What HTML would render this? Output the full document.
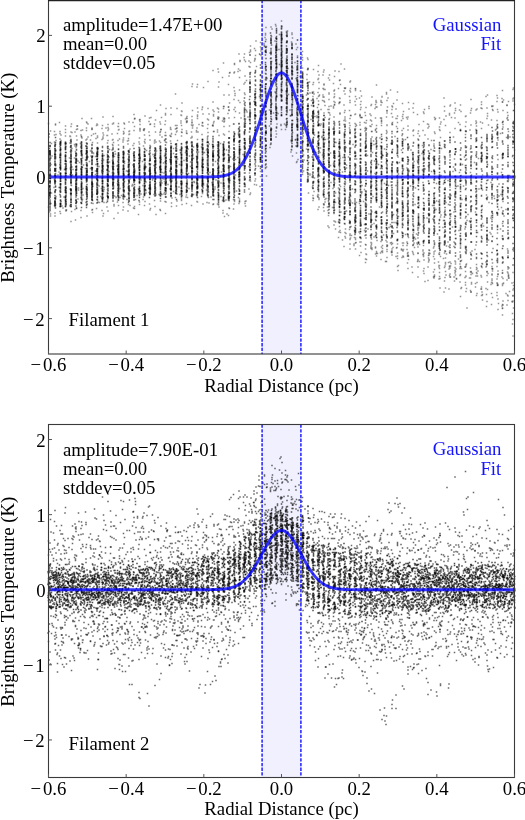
<!DOCTYPE html><html><head><meta charset="utf-8"><style>html,body{margin:0;padding:0;background:#fff;width:525px;height:820px;overflow:hidden}</style></head><body><svg width="525" height="820" viewBox="0 0 525 820" style="display:block;will-change:transform">
<rect width="525" height="820" fill="#fff"/>
<rect x="262.08" y="0.0" width="38.83" height="354.0" fill="#f0f0fe"/>
<path transform="scale(0.5)" d="M99 302h0m0 49h0m0 39h0m1-99h0m0 13h0m0 4h0m0 1h0m0 1h0m0 8h0m0 2h0m0 5h0m0 1h0m0 25h0m0 1h0m0 1h0m0 4h0m0 6h0m0 2h0m0 6h0m0 3h0m0 5h0m0 6h0m0 2h0m0 18h0m0 3h0m0 10h0m0 3h0m10-131h0m0 3h0m0 16h0m0 2h0m0 1h0m0 1h0m0 2h0m0 1h0m0 1h0m0 7h0m0 5h0m0 9h0m0 4h0m0 6h0m0 3h0m0 11h0m0 2h0m0 2h0m0 17h0m0 8h0m0 4h0m0 1h0m0 7h0m0 3h0m0 2h0m0 3h0m0 2h0m1-111h0m0 7h0m0 6h0m0 13h0m0 2h0m0 17h0m0 16h0m0 9h0m9-57h0m0 14h0m0 46h0m0 7h0m1-98h0m0 13h0m0 2h0m0 2h0m0 1h0m0 4h0m0 4h0m0 6h0m0 4h0m0 10h0m0 4h0m0 2h0m0 11h0m0 7h0m0 1h0m0 2h0m0 5h0m0 6h0m0 3h0m0 1h0m0 11h0m0 1h0m0 23h0m0 1h0m0 1h0m0 4h0m10-125h0m0 7h0m0 3h0m0 12h0m0 1h0m0 3h0m0 3h0m0 5h0m0 18h0m0 5h0m0 13h0m0 1h0m0 7h0m0 1h0m0 11h0m0 2h0m0 15h0m0 3h0m0 2h0m1-72h0m0 8h0m0 2h0m0 1h0m0 7h0m0 40h0m0 17h0m0 5h0m9-114h0m0 29h0m0 26h0m1-67h0m0 19h0m0 9h0m0 7h0m0 1h0m0 6h0m0 5h0m0 3h0m0 4h0m0 5h0m0 4h0m0 9h0m0 6h0m0 18h0m0 2h0m0 1h0m0 6h0m0 12h0m0 10h0m1-58h0m9-63h0m0 19h0m0 4h0m0 2h0m0 6h0m0 7h0m0 14h0m0 10h0m0 17h0m0 3h0m0 3h0m0 6h0m0 5h0m0 15h0m0 1h0m0 1h0m0 6h0m1-119h0m0 1h0m0 45h0m0 22h0m0 1h0m0 3h0m0 6h0m0 11h0m0 4h0m0 10h0m0 13h0m0 12h0m9-11h0m1-121h0m0 13h0m0 5h0m0 3h0m0 3h0m0 2h0m0 7h0m0 4h0m0 8h0m0 4h0m0 7h0m0 2h0m0 2h0m0 4h0m0 3h0m0 8h0m0 9h0m0 3h0m0 4h0m0 4h0m0 4h0m0 1h0m0 3h0m0 1h0m0 3h0m0 8h0m10-97h0m0 2h0m0 1h0m0 1h0m0 1h0m0 9h0m0 9h0m0 12h0m0 14h0m0 4h0m0 2h0m0 1h0m0 2h0m0 13h0m0 3h0m0 9h0m1-58h0m0 4h0m0 10h0m0 2h0m0 2h0m0 24h0m0 6h0m0 3h0m0 1h0m0 1h0m0 8h0m0 3h0m0 6h0m0 6h0m10-114h0m0 7h0m0 7h0m0 10h0m0 1h0m0 2h0m0 13h0m0 6h0m0 4h0m0 2h0m0 5h0m0 2h0m0 2h0m0 13h0m0 2h0m0 6h0m0 1h0m0 6h0m0 8h0m0 1h0m0 2h0m0 2h0m0 1h0m0 7h0m1-31h0m0 21h0m9-82h0m0 12h0m0 19h0m0 3h0m0 6h0m0 5h0m0 6h0m0 21h0m0 9h0m1-93h0m0 3h0m0 4h0m0 8h0m0 2h0m0 1h0m0 4h0m0 11h0m0 3h0m0 2h0m0 11h0m0 2h0m0 5h0m0 3h0m0 6h0m0 10h0m0 13h0m0 1h0m0 2h0m0 14h0m9-56h0m1-51h0m0 2h0m0 16h0m0 1h0m0 4h0m0 6h0m0 4h0m0 1h0m0 2h0m0 3h0m0 2h0m0 8h0m0 3h0m0 1h0m0 1h0m0 13h0m0 3h0m0 5h0m0 5h0m0 3h0m0 4h0m0 3h0m0 4h0m0 2h0m0 8h0m0 2h0m0 1h0m0 3h0m1-60h0m9-24h0m0 6h0m0 6h0m0 9h0m0 1h0m0 8h0m0 4h0m0 14h0m0 5h0m0 1h0m0 15h0m0 15h0m1-99h0m0 1h0m0 7h0m0 4h0m0 2h0m0 1h0m0 7h0m0 6h0m0 1h0m0 17h0m0 2h0m0 2h0m0 8h0m0 1h0m0 8h0m0 22h0m0 2h0m9-49h0m1-41h0m0 6h0m0 14h0m0 1h0m0 1h0m0 4h0m0 5h0m0 2h0m0 1h0m0 6h0m0 2h0m0 1h0m0 1h0m0 1h0m0 1h0m0 6h0m0 3h0m0 2h0m0 7h0m0 8h0m0 7h0m0 11h0m0 2h0m0 5h0m1-54h0m0 11h0m0 6h0m9-34h0m0 7h0m0 1h0m0 4h0m0 2h0m0 8h0m0 10h0m0 7h0m0 1h0m0 10h0m0 7h0m0 4h0m1-93h0m0 10h0m0 2h0m0 4h0m0 5h0m0 8h0m0 2h0m0 2h0m0 2h0m0 5h0m0 2h0m0 1h0m0 1h0m0 3h0m0 8h0m0 7h0m0 12h0m0 2h0m0 3h0m0 14h0m10-99h0m0 16h0m0 2h0m0 1h0m0 2h0m0 5h0m0 2h0m0 2h0m0 2h0m0 7h0m0 1h0m0 4h0m0 1h0m0 5h0m0 2h0m0 1h0m0 4h0m0 1h0m0 7h0m0 1h0m0 7h0m0 1h0m0 4h0m0 1h0m0 2h0m0 1h0m0 5h0m1-7h0m0 8h0m0 11h0m0 1h0m9-75h0m0 13h0m0 3h0m0 15h0m0 11h0m0 8h0m0 9h0m0 11h0m0 17h0m1-101h0m0 8h0m0 3h0m0 2h0m0 1h0m0 2h0m0 2h0m0 7h0m0 18h0m0 13h0m0 3h0m0 1h0m0 8h0m0 7h0m0 3h0m0 15h0m10-86h0m0 3h0m0 2h0m0 6h0m0 10h0m0 1h0m0 2h0m0 5h0m0 4h0m0 5h0m0 2h0m0 2h0m0 7h0m0 28h0m0 3h0m1-70h0m0 17h0m0 2h0m0 1h0m0 18h0m0 2h0m0 8h0m0 5h0m0 6h0m0 11h0m0 1h0m9-65h0m1-27h0m0 7h0m0 2h0m0 3h0m0 9h0m0 5h0m0 7h0m0 1h0m0 1h0m0 4h0m0 1h0m0 1h0m0 4h0m0 2h0m0 3h0m0 4h0m0 1h0m0 3h0m0 7h0m0 1h0m0 1h0m0 10h0m0 4h0m1-65h0m0 41h0m0 26h0m9-65h0m0 1h0m0 2h0m0 8h0m0 6h0m0 2h0m0 3h0m0 11h0m0 7h0m0 8h0m0 1h0m0 12h0m0 1h0m0 9h0m0 2h0m1-79h0m0 14h0m0 11h0m0 12h0m0 8h0m0 6h0m0 9h0m0 8h0m9-52h0m0 1h0m0 13h0m0 34h0m1-70h0m0 1h0m0 5h0m0 1h0m0 3h0m0 1h0m0 4h0m0 9h0m0 4h0m0 6h0m0 2h0m0 7h0m0 3h0m0 1h0m0 6h0m0 16h0m0 1h0m0 10h0m0 1h0m0 1h0m1-41h0m9-36h0m0 5h0m0 6h0m0 2h0m0 10h0m0 1h0m0 6h0m0 4h0m0 4h0m0 3h0m0 7h0m0 3h0m0 6h0m0 1h0m0 14h0m0 3h0m0 4h0m0 2h0m1-94h0m0 20h0m0 3h0m0 7h0m0 1h0m0 29h0m9-23h0m0 55h0m1-89h0m0 2h0m0 4h0m0 4h0m0 2h0m0 2h0m0 6h0m0 2h0m0 1h0m0 1h0m0 7h0m0 1h0m0 4h0m0 2h0m0 4h0m0 8h0m0 18h0m0 2h0m0 3h0m0 2h0m0 9h0m0 3h0m0 1h0m0 2h0m1-72h0m0 69h0m9-92h0m0 3h0m0 19h0m0 5h0m0 5h0m0 6h0m0 1h0m0 2h0m0 6h0m0 4h0m0 2h0m0 1h0m0 6h0m0 3h0m0 1h0m0 6h0m0 2h0m0 2h0m0 6h0m0 1h0m0 4h0m1-83h0m0 5h0m0 11h0m0 2h0m0 5h0m0 7h0m0 19h0m0 10h0m0 9h0m0 11h0m0 5h0m9-58h0m0 54h0m1-86h0m0 3h0m0 1h0m0 5h0m0 9h0m0 4h0m0 1h0m0 5h0m0 5h0m0 3h0m0 1h0m0 5h0m0 1h0m0 1h0m0 2h0m0 6h0m0 2h0m0 1h0m0 1h0m0 1h0m0 4h0m0 3h0m0 2h0m0 1h0m0 5h0m0 6h0m0 2h0m0 3h0m0 3h0m0 13h0m10-96h0m0 28h0m0 17h0m0 5h0m0 7h0m0 7h0m0 1h0m0 7h0m0 2h0m0 2h0m0 10h0m0 6h0m1-95h0m0 10h0m0 6h0m0 6h0m0 13h0m0 4h0m0 8h0m0 1h0m0 4h0m0 2h0m0 1h0m0 8h0m0 18h0m9-67h0m1-9h0m0 2h0m0 3h0m0 1h0m0 1h0m0 3h0m0 3h0m0 5h0m0 2h0m0 1h0m0 3h0m0 1h0m0 1h0m0 5h0m0 2h0m0 10h0m0 1h0m0 3h0m0 12h0m0 1h0m0 5h0m0 6h0m0 1h0m0 12h0m0 3h0m0 3h0m0 1h0m0 6h0m10-106h0m0 7h0m0 1h0m0 5h0m0 1h0m0 6h0m0 1h0m0 1h0m0 9h0m0 8h0m0 21h0m0 19h0m0 5h0m0 11h0m0 1h0m1-98h0m0 9h0m0 12h0m0 10h0m0 4h0m0 1h0m0 5h0m0 2h0m0 1h0m0 2h0m0 1h0m0 2h0m0 14h0m0 11h0m0 21h0m9-95h0m0 106h0m1-106h0m0 12h0m0 4h0m0 2h0m0 1h0m0 1h0m0 12h0m0 1h0m0 4h0m0 2h0m0 11h0m0 2h0m0 4h0m0 16h0m0 2h0m0 4h0m0 1h0m0 7h0m0 1h0m0 2h0m1-65h0m0 55h0m0 6h0m9-80h0m0 22h0m0 4h0m0 7h0m0 9h0m0 15h0m0 10h0m0 5h0m0 11h0m0 1h0m1-88h0m0 1h0m0 7h0m0 5h0m0 28h0m0 5h0m0 6h0m0 12h0m0 6h0m0 3h0m0 11h0m0 2h0m0 11h0m10-94h0m0 4h0m0 1h0m0 11h0m0 9h0m0 2h0m0 1h0m0 2h0m0 4h0m0 6h0m0 3h0m0 2h0m0 6h0m0 6h0m0 8h0m0 2h0m0 2h0m0 3h0m0 1h0m0 1h0m0 3h0m0 2h0m0 12h0m0 2h0m1-87h0m0 32h0m0 7h0m9-51h0m0 13h0m0 13h0m0 19h0m0 1h0m0 10h0m0 5h0m0 25h0m0 1h0m0 1h0m0 1h0m1-73h0m0 6h0m0 6h0m0 2h0m0 13h0m0 3h0m0 7h0m0 1h0m0 4h0m0 1h0m0 10h0m0 2h0m0 5h0m0 1h0m0 1h0m0 10h0m0 3h0m0 5h0m0 12h0m0 1h0m9-104h0m1-16h0m0 20h0m0 13h0m0 4h0m0 3h0m0 5h0m0 21h0m0 5h0m0 1h0m0 3h0m0 1h0m0 7h0m0 1h0m0 3h0m0 5h0m0 4h0m0 3h0m0 6h0m1-27h0m0 3h0m0 30h0m9-91h0m0 11h0m0 6h0m0 17h0m0 2h0m0 8h0m0 4h0m0 11h0m0 9h0m1-76h0m0 4h0m0 3h0m0 10h0m0 2h0m0 1h0m0 1h0m0 6h0m0 1h0m0 10h0m0 7h0m0 3h0m0 3h0m0 6h0m0 3h0m0 5h0m0 22h0m0 1h0m0 6h0m0 9h0m0 3h0m0 7h0m0 1h0m0 6h0m1-91h0m9-25h0m0 3h0m0 2h0m0 6h0m0 2h0m0 2h0m0 3h0m0 3h0m0 2h0m0 4h0m0 2h0m0 4h0m0 7h0m0 2h0m0 7h0m0 1h0m0 3h0m0 1h0m0 4h0m0 7h0m0 1h0m0 5h0m0 8h0m0 27h0m0 2h0m0 1h0m0 1h0m0 4h0m1-105h0m0 45h0m0 7h0m0 3h0m0 18h0m0 6h0m0 10h0m9-78h0m0 23h0m0 18h0m0 1h0m0 21h0m0 2h0m0 15h0m0 2h0m1-115h0m0 8h0m0 3h0m0 15h0m0 3h0m0 6h0m0 1h0m0 9h0m0 13h0m0 14h0m0 1h0m0 6h0m0 1h0m0 3h0m0 3h0m0 1h0m0 9h0m0 1h0m0 14h0m0 6h0m0 2h0m1-39h0m9-83h0m0 1h0m0 5h0m0 2h0m0 1h0m0 1h0m0 1h0m0 12h0m0 2h0m0 6h0m0 4h0m0 3h0m0 4h0m0 10h0m0 1h0m0 4h0m0 1h0m0 2h0m0 2h0m0 3h0m0 1h0m0 7h0m0 4h0m0 4h0m0 2h0m0 2h0m0 4h0m0 1h0m0 4h0m0 3h0m0 7h0m0 11h0m0 7h0m1-118h0m0 22h0m0 15h0m0 40h0m0 16h0m9-86h0m0 46h0m0 23h0m0 25h0m1-124h0m0 20h0m0 11h0m0 8h0m0 3h0m0 1h0m0 3h0m0 5h0m0 3h0m0 1h0m0 1h0m0 1h0m0 3h0m0 1h0m0 3h0m0 2h0m0 2h0m0 1h0m0 3h0m0 7h0m0 2h0m0 2h0m0 6h0m0 1h0m0 1h0m0 8h0m0 5h0m0 8h0m0 6h0m0 1h0m0 14h0m1-106h0m8 49h0m1-134h0m0 12h0m0 11h0m0 7h0m0 7h0m0 21h0m0 9h0m0 4h0m0 1h0m0 1h0m0 17h0m0 6h0m0 2h0m0 19h0m0 5h0m0 50h0m1-125h0m0 38h0m0 8h0m0 27h0m0 4h0m0 12h0m0 4h0m0 23h0m9-67h0m0 6h0m1-152h0m0 3h0m0 15h0m0 3h0m0 13h0m0 4h0m0 9h0m0 14h0m0 1h0m0 6h0m0 1h0m0 5h0m0 1h0m0 3h0m0 4h0m0 5h0m0 41h0m0 4h0m0 3h0m0 2h0m0 2h0m0 2h0m0 7h0m0 5h0m0 5h0m0 2h0m0 8h0m0 5h0m0 9h0m0 1h0m0 10h0m0 13h0m0 3h0m0 4h0m10-213h0m0 7h0m0 35h0m0 15h0m0 5h0m0 10h0m0 12h0m0 3h0m0 5h0m0 18h0m0 5h0m0 12h0m0 67h0m0 6h0m1-186h0m0 23h0m0 22h0m0 1h0m0 5h0m0 22h0m0 28h0m0 18h0m0 2h0m0 25h0m0 5h0m0 9h0m0 17h0m10-167h0m0 1h0m0 4h0m0 3h0m0 2h0m0 1h0m0 16h0m0 4h0m0 10h0m0 1h0m0 1h0m0 9h0m0 1h0m0 16h0m0 7h0m0 4h0m0 6h0m0 2h0m0 16h0m0 1h0m0 2h0m0 4h0m0 8h0m0 1h0m0 2h0m0 2h0m0 22h0m0 1h0m0 1h0m0 6h0m0 13h0m1-76h0m9-159h0m0 23h0m0 12h0m0 41h0m0 4h0m0 4h0m0 19h0m0 21h0m0 2h0m0 11h0m0 5h0m0 9h0m0 24h0m0 15h0m0 1h0m0 19h0m1-217h0m0 9h0m0 13h0m0 16h0m0 6h0m0 29h0m0 19h0m0 5h0m0 7h0m0 13h0m0 16h0m0 10h0m0 19h0m0 6h0m0 3h0m0 54h0m9-158h0m1-81h0m0 16h0m0 1h0m0 25h0m0 5h0m0 8h0m0 3h0m0 1h0m0 13h0m0 4h0m0 6h0m0 5h0m0 10h0m0 8h0m0 2h0m0 1h0m0 14h0m0 7h0m0 10h0m0 3h0m0 2h0m0 8h0m0 10h0m0 5h0m0 12h0m0 7h0m0 2h0m0 3h0m0 7h0m1-156h0m0 135h0m9-161h0m0 2h0m0 12h0m0 2h0m0 2h0m0 6h0m0 15h0m0 24h0m0 25h0m0 2h0m0 12h0m0 14h0m0 3h0m0 1h0m1-160h0m0 20h0m0 14h0m0 3h0m0 2h0m0 2h0m0 3h0m0 19h0m0 7h0m0 1h0m0 6h0m0 1h0m0 2h0m0 1h0m0 9h0m0 2h0m0 6h0m0 1h0m0 1h0m0 1h0m0 29h0m0 1h0m0 4h0m0 34h0m0 5h0m0 7h0m0 16h0m10-202h0m0 2h0m0 12h0m0 3h0m0 12h0m0 3h0m0 8h0m0 6h0m0 4h0m0 4h0m0 4h0m0 1h0m0 6h0m0 3h0m0 6h0m0 4h0m0 2h0m0 2h0m0 6h0m0 1h0m0 1h0m0 7h0m0 2h0m0 1h0m0 2h0m0 4h0m0 14h0m0 7h0m0 2h0m0 4h0m0 6h0m0 1h0m0 1h0m0 8h0m0 30h0m1-154h0m0 26h0m0 12h0m0 17h0m0 24h0m9-71h0m0 21h0m0 12h0m0 6h0m0 10h0m0 2h0m0 31h0m0 4h0m0 11h0m0 6h0m0 8h0m0 2h0m0 53h0m1-179h0m0 26h0m0 3h0m0 4h0m0 14h0m0 6h0m0 8h0m0 4h0m0 8h0m0 5h0m0 9h0m0 12h0m0 5h0m0 3h0m0 3h0m0 3h0m0 1h0m0 5h0m0 1h0m0 6h0m0 2h0m0 3h0m0 10h0m0 1h0m0 1h0m0 22h0m0 8h0m10-150h0m0 13h0m0 6h0m0 5h0m0 17h0m0 4h0m0 3h0m0 4h0m0 11h0m0 11h0m0 2h0m0 1h0m0 3h0m0 6h0m0 3h0m0 3h0m0 1h0m0 2h0m0 5h0m0 13h0m0 7h0m0 6h0m0 2h0m0 2h0m0 4h0m0 2h0m0 16h0m0 8h0m0 5h0m0 13h0m0 6h0m0 3h0m0 10h0m1-156h0m0 13h0m0 36h0m0 15h0m0 48h0m9-87h0m0 40h0m0 23h0m0 27h0m0 42h0m1-171h0m0 24h0m0 9h0m0 5h0m0 5h0m0 2h0m0 1h0m0 8h0m0 5h0m0 4h0m0 6h0m0 7h0m0 16h0m0 17h0m0 18h0m0 5h0m0 17h0m0 8h0m0 6h0m0 5h0m10-146h0m0 8h0m0 3h0m0 7h0m0 4h0m0 9h0m0 1h0m0 6h0m0 12h0m0 9h0m0 7h0m0 6h0m0 2h0m0 7h0m0 5h0m0 4h0m0 7h0m0 3h0m0 1h0m0 38h0m0 15h0m0 2h0m0 1h0m0 1h0m0 21h0m0 6h0m1-136h0m0 65h0m9-40h0m0 24h0m0 11h0m0 15h0m0 8h0m0 1h0m0 13h0m0 31h0m0 19h0m1-159h0m0 7h0m0 20h0m0 4h0m0 6h0m0 8h0m0 8h0m0 4h0m0 6h0m0 20h0m0 2h0m0 2h0m0 2h0m0 9h0m0 2h0m0 4h0m0 3h0m0 2h0m0 22h0m0 4h0m0 24h0m0 21h0m10-138h0m0 5h0m0 2h0m0 2h0m0 2h0m0 3h0m0 6h0m0 8h0m0 1h0m0 8h0m0 1h0m0 3h0m0 16h0m0 1h0m0 4h0m0 7h0m0 11h0m0 1h0m0 6h0m0 9h0m0 6h0m0 6h0m0 1h0m0 1h0m0 13h0m0 5h0m0 2h0m0 11h0m0 1h0m0 6h0m0 5h0m1-165h0m0 22h0m0 18h0m0 24h0m0 23h0m0 20h0m0 45h0m9-119h0m0 1h0m0 42h0m0 50h0m0 38h0m0 4h0m0 15h0m1-170h0m0 10h0m0 6h0m0 1h0m0 10h0m0 13h0m0 1h0m0 6h0m0 2h0m0 8h0m0 5h0m0 1h0m0 10h0m0 2h0m0 8h0m0 5h0m0 1h0m0 1h0m0 1h0m0 8h0m0 5h0m0 10h0m0 11h0m0 1h0m0 9h0m0 4h0m0 8h0m1-69h0m0 13h0m9-77h0m0 2h0m0 8h0m0 3h0m0 3h0m0 10h0m0 7h0m0 9h0m0 12h0m0 7h0m0 12h0m0 3h0m0 1h0m0 8h0m0 1h0m0 1h0m0 64h0m1-150h0m0 26h0m0 23h0m0 6h0m0 16h0m0 7h0m0 12h0m0 14h0m0 14h0m0 22h0m0 15h0m9-116h0m0 22h0m0 97h0m1-158h0m0 21h0m0 7h0m0 3h0m0 6h0m0 7h0m0 3h0m0 7h0m0 4h0m0 5h0m0 7h0m0 2h0m0 5h0m0 9h0m0 5h0m0 4h0m0 7h0m0 4h0m0 2h0m0 1h0m0 11h0m0 12h0m0 6h0m0 14h0m0 5h0m0 23h0m10-172h0m0 12h0m0 6h0m0 3h0m0 24h0m0 10h0m0 1h0m0 1h0m0 3h0m0 25h0m0 7h0m0 3h0m0 7h0m0 9h0m0 3h0m0 9h0m0 1h0m0 17h0m0 15h0m0 9h0m1-166h0m0 17h0m0 22h0m0 8h0m0 19h0m0 11h0m0 36h0m0 33h0m9-98h0m0 9h0m0 27h0m0 13h0m0 56h0m0 7h0m1-158h0m0 2h0m0 12h0m0 2h0m0 2h0m0 19h0m0 2h0m0 5h0m0 1h0m0 11h0m0 3h0m0 5h0m0 8h0m0 5h0m0 1h0m0 1h0m0 3h0m0 15h0m0 4h0m0 9h0m0 6h0m0 14h0m0 10h0m0 8h0m0 4h0m0 2h0m0 12h0m0 10h0m0 22h0m1-150h0m0 20h0m0 24h0m9-68h0m0 1h0m0 25h0m0 2h0m0 21h0m0 14h0m0 17h0m0 4h0m0 11h0m0 10h0m0 4h0m0 8h0m0 19h0m0 6h0m0 13h0m0 8h0m0 4h0m1-169h0m0 23h0m0 22h0m0 1h0m0 4h0m0 31h0m0 2h0m0 3h0m0 1h0m0 12h0m0 14h0m0 15h0m0 8h0m9-119h0m0 107h0m1-134h0m0 7h0m0 29h0m0 7h0m0 1h0m0 5h0m0 8h0m0 14h0m0 16h0m0 3h0m0 1h0m0 2h0m0 2h0m0 20h0m0 1h0m0 4h0m0 8h0m0 11h0m0 8h0m0 3h0m0 6h0m0 6h0m0 23h0m0 9h0m0 1h0m1-159h0m0 96h0m9-117h0m0 28h0m0 3h0m0 12h0m0 14h0m0 53h0m0 17h0m0 6h0m0 15h0m0 17h0m0 1h0m0 1h0m1-168h0m0 11h0m0 6h0m0 14h0m0 2h0m0 5h0m0 1h0m0 16h0m0 3h0m0 3h0m0 9h0m0 3h0m0 16h0m0 1h0m0 5h0m0 10h0m0 35h0m0 7h0m0 9h0m0 4h0m0 7h0m0 3h0m0 13h0m9-125h0m1-62h0m0 10h0m0 7h0m0 12h0m0 18h0m0 9h0m0 10h0m0 6h0m0 4h0m0 20h0m0 12h0m0 6h0m0 7h0m0 29h0m0 10h0m0 3h0m0 8h0m0 8h0m0 3h0m0 11h0m0 12h0m1-111h0m0 87h0m9-155h0m0 15h0m0 37h0m0 40h0m0 2h0m0 16h0m0 7h0m0 8h0m1-152h0m0 7h0m0 16h0m0 3h0m0 13h0m0 21h0m0 11h0m0 5h0m0 4h0m0 64h0m0 22h0m0 13h0m0 22h0m10-183h0m0 4h0m0 4h0m0 2h0m0 12h0m0 2h0m0 2h0m0 13h0m0 7h0m0 2h0m0 8h0m0 2h0m0 17h0m0 2h0m0 8h0m0 2h0m0 1h0m0 11h0m0 19h0m0 22h0m0 1h0m0 2h0m0 2h0m0 2h0m0 1h0m0 6h0m0 10h0m1-93h0m0 14h0m0 25h0m9-91h0m0 12h0m0 18h0m0 25h0m0 16h0m0 48h0m0 9h0m0 7h0m0 11h0m0 13h0m0 6h0m1-207h0m0 17h0m0 3h0m0 8h0m0 2h0m0 11h0m0 16h0m0 2h0m0 3h0m0 8h0m0 2h0m0 9h0m0 2h0m0 10h0m0 22h0m0 9h0m0 2h0m0 4h0m0 6h0m0 23h0m0 9h0m0 1h0m0 20h0m0 22h0m10-183h0m0 1h0m0 4h0m0 4h0m0 2h0m0 5h0m0 7h0m0 33h0m0 12h0m0 19h0m0 10h0m0 7h0m0 8h0m0 3h0m0 3h0m0 16h0m0 8h0m0 6h0m0 8h0m1-170h0m0 55h0m0 26h0m0 34h0m0 20h0m0 62h0m9-194h0m0 18h0m0 6h0m0 22h0m0 9h0m0 59h0m0 1h0m0 28h0m0 3h0m0 20h0m0 3h0m0 6h0m0 13h0m0 2h0m1-163h0m0 4h0m0 9h0m0 8h0m0 9h0m0 27h0m0 2h0m0 3h0m0 5h0m0 5h0m0 7h0m0 6h0m0 19h0m0 1h0m0 2h0m0 25h0m0 6h0m0 11h0m0 17h0m10-211h0m0 18h0m0 3h0m0 4h0m0 48h0m0 5h0m0 1h0m0 1h0m0 12h0m0 1h0m0 2h0m0 6h0m0 22h0m0 2h0m0 1h0m0 5h0m0 1h0m0 1h0m0 10h0m0 10h0m0 8h0m0 7h0m0 1h0m0 4h0m0 1h0m0 2h0m0 14h0m0 20h0m1-189h0m0 15h0m0 25h0m9-34h0m0 35h0m0 60h0m0 3h0m0 16h0m0 17h0m0 9h0m1-167h0m0 20h0m0 10h0m0 50h0m0 23h0m0 2h0m0 2h0m0 12h0m0 5h0m0 16h0m0 15h0m0 8h0m0 11h0m0 10h0m0 32h0m10-192h0m0 32h0m0 13h0m0 12h0m0 4h0m0 13h0m0 8h0m0 14h0m0 2h0m0 2h0m0 5h0m0 13h0m0 3h0m0 19h0m0 21h0m0 27h0m1-178h0m0 62h0m0 34h0m0 21h0m0 11h0m0 6h0m0 41h0m9-197h0m0 65h0m0 42h0m0 6h0m0 80h0m1-179h0m0 5h0m0 2h0m0 23h0m0 39h0m0 7h0m0 2h0m0 1h0m0 7h0m0 1h0m0 5h0m0 7h0m0 1h0m0 17h0m0 8h0m0 7h0m0 2h0m0 7h0m0 3h0m0 8h0m0 3h0m0 4h0m0 8h0m0 1h0m0 2h0m0 13h0m10-167h0m0 24h0m0 1h0m0 5h0m0 7h0m0 9h0m0 13h0m0 9h0m0 25h0m0 24h0m0 2h0m0 19h0m0 33h0m0 6h0m1-197h0m0 1h0m0 45h0m0 10h0m0 10h0m0 15h0m0 58h0m9 46h0m1-169h0m0 11h0m0 4h0m0 8h0m0 16h0m0 6h0m0 10h0m0 2h0m0 1h0m0 3h0m0 4h0m0 28h0m0 11h0m0 10h0m0 24h0m0 1h0m0 3h0m0 2h0m0 1h0m10-160h0m0 17h0m0 2h0m0 5h0m0 4h0m0 1h0m0 17h0m0 8h0m0 15h0m0 15h0m0 68h0m0 1h0m0 6h0m0 7h0m0 11h0m0 20h0m1-183h0m0 25h0m0 15h0m0 67h0m0 10h0m0 19h0m0 21h0m0 24h0m9-149h0m0 21h0m0 120h0m1-162h0m0 2h0m0 5h0m0 1h0m0 6h0m0 5h0m0 1h0m0 36h0m0 22h0m0 1h0m0 1h0m0 19h0m0 8h0m0 2h0m0 7h0m0 15h0m0 1h0m0 2h0m0 12h0m0 10h0m0 14h0m0 4h0m1-56h0m9-116h0m0 7h0m0 22h0m0 23h0m0 27h0m0 9h0m0 22h0m0 3h0m0 14h0m0 3h0m0 9h0m0 18h0m0 12h0m1-186h0m0 108h0m0 15h0m0 1h0m0 5h0m0 7h0m0 13h0m0 13h0m0 4h0m9-144h0m0 48h0m1-76h0m0 7h0m0 25h0m0 16h0m0 12h0m0 4h0m0 3h0m0 7h0m0 11h0m0 51h0m0 64h0m0 3h0m0 3h0m1 4h0m9-211h0m0 4h0m0 20h0m0 1h0m0 65h0m0 7h0m0 11h0m0 10h0m0 34h0m1-151h0m0 24h0m0 1h0m0 8h0m0 2h0m0 51h0m0 3h0m0 12h0m0 11h0m0 61h0m0 7h0m0 12h0m9-35h0m1-172h0m0 5h0m0 1h0m0 4h0m0 17h0m0 2h0m0 6h0m0 16h0m0 7h0m0 10h0m0 4h0m0 3h0m0 8h0m0 30h0m0 9h0m0 24h0m0 9h0m0 15h0m0 5h0m0 8h0m0 17h0m0 5h0m0 22h0m10-194h0m0 85h0m0 13h0m0 8h0m0 81h0m1-197h0m0 6h0m0 26h0m0 23h0m0 17h0m0 2h0m0 5h0m0 16h0m0 2h0m0 28h0m0 21h0m0 10h0m10-168h0m0 44h0m0 32h0m0 13h0m0 3h0m0 5h0m0 8h0m0 8h0m0 8h0m0 1h0m0 12h0m0 1h0m0 15h0m0 36h0m0 5h0m0 9h0m1-167h0m0 88h0m9-132h0m0 20h0m0 25h0m0 59h0m0 20h0m0 48h0m0 21h0m1-173h0m0 15h0m0 36h0m0 9h0m0 7h0m0 4h0m0 1h0m0 10h0m0 15h0m0 6h0m0 3h0m0 8h0m0 1h0m0 15h0m0 20h0m0 21h0m0 6h0m10-156h0m0 37h0m0 3h0m0 38h0m0 19h0m0 24h0m0 5h0m0 7h0m0 2h0m0 2h0m0 1h0m0 12h0m1-54h0m9-57h0m0 22h0m0 7h0m0 32h0m0 13h0m1-167h0m0 5h0m0 27h0m0 14h0m0 6h0m0 16h0m0 32h0m0 20h0m0 19h0m0 6h0m0 9h0m0 14h0m0 10h0m0 44h0m10-178h0m0 7h0m0 3h0m0 22h0m0 26h0m0 86h0m0 1h0m0 22h0m0 1h0m0 10h0m0 23h0m1-222h0m0 4h0m0 122h0m0 1h0m9-37h0m0 5h0m0 17h0m1-128h0m0 1h0m0 3h0m0 28h0m0 13h0m0 19h0m0 142h0m0 3h0m0 12h0m0 15h0m0 24h0m1-200h0m9-60h0m0 3h0m0 7h0m0 36h0m0 29h0m0 44h0m0 1h0m0 18h0m0 16h0m0 35h0m0 61h0m1-236h0m0 11h0m0 23h0m0 156h0m9-183h0m0 136h0m0 51h0m1-213h0m0 6h0m0 40h0m0 49h0m0 14h0m0 11h0m0 5h0m0 12h0m10-143h0m0 24h0m0 2h0m0 30h0m0 16h0m0 20h0m0 5h0m0 19h0m0 10h0m0 4h0m0 4h0m0 7h0m0 73h0m0 5h0m0 49h0m1-283h0m0 64h0m0 23h0m0 24h0m0 68h0m0 21h0m0 34h0m0 2h0m0 13h0m9-99h0m1-153h0m0 35h0m0 2h0m0 14h0m0 4h0m0 4h0m0 1h0m0 6h0m0 7h0m0 12h0m0 26h0m0 6h0m0 24h0m0 25h0m0 12h0m0 97h0m1-40h0m9-222h0m0 29h0m0 6h0m0 71h0m0 55h0m0 5h0m0 12h0m0 6h0m0 18h0m1-212h0m0 41h0m0 69h0m0 11h0m0 36h0m0 41h0" stroke="#000" stroke-width="3.0" stroke-linecap="square" stroke-opacity="0.6" fill="none"/>
<path transform="scale(0.5)" d="M99 297h0m0 11h0m0 21h0m0 43h0m0 3h0m0 11h0m1-101h0m0 8h0m0 9h0m0 2h0m0 1h0m0 3h0m0 4h0m0 15h0m0 3h0m0 1h0m0 8h0m0 2h0m0 5h0m0 2h0m0 2h0m0 1h0m0 2h0m0 4h0m0 5h0m0 15h0m0 1h0m0 7h0m0 4h0m0 2h0m0 3h0m0 6h0m0 3h0m10-111h0m0 5h0m0 5h0m0 5h0m0 2h0m0 5h0m0 8h0m0 5h0m0 10h0m0 4h0m0 11h0m0 5h0m0 5h0m0 6h0m0 33h0m0 2h0m0 3h0m0 2h0m0 2h0m1-125h0m0 16h0m0 12h0m0 26h0m0 12h0m0 3h0m0 20h0m0 6h0m0 18h0m0 10h0m0 8h0m9-128h0m0 22h0m1-26h0m0 3h0m0 3h0m0 5h0m0 4h0m0 11h0m0 13h0m0 1h0m0 7h0m0 1h0m0 1h0m0 3h0m0 2h0m0 1h0m0 1h0m0 6h0m0 2h0m0 3h0m0 6h0m0 11h0m0 1h0m0 8h0m0 7h0m0 16h0m0 7h0m10-102h0m0 8h0m0 6h0m0 3h0m0 5h0m0 11h0m0 9h0m0 22h0m0 5h0m0 1h0m0 5h0m0 2h0m0 2h0m0 8h0m0 3h0m0 6h0m0 3h0m0 1h0m0 3h0m0 5h0m1-90h0m0 9h0m0 19h0m0 26h0m0 8h0m0 22h0m0 3h0m9-107h0m0 22h0m0 13h0m0 40h0m0 32h0m1-131h0m0 4h0m0 1h0m0 2h0m0 5h0m0 17h0m0 1h0m0 2h0m0 2h0m0 8h0m0 3h0m0 4h0m0 13h0m0 2h0m0 2h0m0 2h0m0 4h0m0 6h0m0 7h0m0 2h0m0 14h0m0 2h0m0 5h0m0 1h0m0 1h0m0 3h0m0 7h0m0 5h0m0 6h0m0 3h0m1-111h0m9 8h0m0 1h0m0 10h0m0 2h0m0 10h0m0 6h0m0 6h0m0 3h0m0 3h0m0 1h0m0 10h0m0 12h0m0 2h0m0 5h0m0 7h0m0 2h0m0 4h0m1-86h0m0 2h0m0 8h0m0 19h0m0 18h0m0 3h0m0 3h0m0 8h0m0 5h0m0 4h0m0 6h0m0 2h0m9-83h0m1-13h0m0 2h0m0 2h0m0 7h0m0 3h0m0 3h0m0 13h0m0 2h0m0 4h0m0 1h0m0 11h0m0 7h0m0 2h0m0 2h0m0 1h0m0 19h0m0 2h0m0 2h0m0 6h0m0 7h0m0 11h0m0 10h0m0 8h0m1-81h0m9-48h0m0 34h0m0 26h0m0 3h0m0 8h0m0 6h0m0 1h0m0 9h0m0 6h0m0 20h0m0 16h0m1-128h0m0 9h0m0 5h0m0 2h0m0 2h0m0 4h0m0 3h0m0 4h0m0 14h0m0 7h0m0 5h0m0 3h0m0 4h0m0 31h0m0 1h0m0 4h0m0 9h0m9 12h0m1-109h0m0 8h0m0 1h0m0 14h0m0 1h0m0 5h0m0 10h0m0 1h0m0 1h0m0 1h0m0 6h0m0 5h0m0 1h0m0 1h0m0 8h0m0 6h0m0 1h0m0 1h0m0 7h0m0 5h0m0 2h0m0 2h0m0 8h0m0 3h0m0 5h0m1-87h0m0 60h0m9-77h0m0 9h0m0 6h0m0 1h0m0 7h0m0 24h0m0 8h0m0 15h0m0 4h0m0 11h0m0 1h0m0 1h0m0 2h0m0 2h0m0 1h0m0 18h0m1-110h0m0 3h0m0 4h0m0 2h0m0 1h0m0 2h0m0 15h0m0 5h0m0 9h0m0 1h0m0 4h0m0 6h0m0 4h0m0 8h0m0 3h0m0 1h0m0 2h0m0 4h0m0 6h0m0 10h0m0 7h0m0 2h0m9-68h0m0 14h0m1-39h0m0 10h0m0 7h0m0 13h0m0 3h0m0 3h0m0 1h0m0 7h0m0 2h0m0 2h0m0 3h0m0 2h0m0 2h0m0 5h0m0 4h0m0 15h0m0 6h0m0 2h0m0 3h0m0 2h0m10-80h0m0 7h0m0 11h0m0 8h0m0 5h0m0 4h0m0 6h0m0 5h0m0 2h0m0 30h0m1-99h0m0 4h0m0 4h0m0 12h0m0 6h0m0 5h0m0 1h0m0 6h0m0 5h0m0 4h0m0 2h0m0 4h0m0 10h0m0 3h0m0 12h0m0 1h0m0 1h0m0 4h0m0 5h0m0 5h0m0 7h0m9-37h0m1-51h0m0 4h0m0 3h0m0 1h0m0 5h0m0 1h0m0 2h0m0 3h0m0 3h0m0 5h0m0 1h0m0 4h0m0 13h0m0 2h0m0 12h0m0 3h0m0 3h0m0 7h0m0 6h0m0 3h0m0 2h0m0 2h0m1-82h0m0 47h0m9-18h0m0 19h0m0 12h0m0 1h0m0 7h0m0 8h0m0 6h0m1-85h0m0 1h0m0 8h0m0 9h0m0 5h0m0 4h0m0 4h0m0 7h0m0 3h0m0 2h0m0 2h0m0 1h0m0 6h0m0 8h0m0 1h0m0 2h0m0 9h0m0 4h0m0 1h0m0 1h0m0 9h0m0 2h0m0 5h0m9-7h0m1-97h0m0 7h0m0 2h0m0 2h0m0 8h0m0 2h0m0 7h0m0 8h0m0 6h0m0 5h0m0 4h0m0 3h0m0 9h0m0 2h0m0 5h0m0 1h0m0 3h0m0 18h0m0 1h0m1-52h0m0 1h0m0 19h0m0 7h0m0 17h0m0 3h0m9-82h0m0 23h0m0 4h0m0 4h0m0 2h0m0 6h0m0 3h0m0 5h0m0 2h0m0 24h0m1-66h0m0 13h0m0 11h0m0 1h0m0 4h0m0 1h0m0 1h0m0 1h0m0 2h0m0 5h0m0 7h0m0 9h0m0 2h0m0 6h0m0 4h0m0 3h0m0 7h0m0 2h0m0 1h0m0 3h0m0 4h0m0 2h0m0 4h0m10-105h0m0 14h0m0 17h0m0 2h0m0 3h0m0 9h0m0 4h0m0 4h0m0 1h0m0 2h0m0 1h0m0 1h0m0 3h0m0 2h0m0 1h0m0 1h0m0 1h0m0 1h0m0 1h0m0 11h0m0 2h0m0 3h0m0 4h0m0 2h0m0 4h0m0 1h0m0 2h0m1-79h0m0 6h0m0 20h0m0 2h0m0 9h0m0 1h0m0 26h0m0 7h0m9-91h0m1 1h0m0 3h0m0 3h0m0 1h0m0 1h0m0 3h0m0 1h0m0 1h0m0 8h0m0 1h0m0 1h0m0 2h0m0 2h0m0 1h0m0 1h0m0 6h0m0 2h0m0 7h0m0 5h0m0 1h0m0 2h0m0 1h0m0 15h0m0 12h0m0 5h0m0 9h0m0 1h0m1-73h0m9-21h0m0 6h0m0 1h0m0 1h0m0 4h0m0 4h0m0 6h0m0 14h0m0 2h0m0 1h0m0 1h0m0 3h0m0 6h0m0 1h0m0 1h0m0 2h0m0 1h0m0 7h0m0 4h0m0 5h0m0 1h0m0 4h0m0 1h0m0 1h0m0 4h0m0 3h0m0 1h0m0 5h0m0 3h0m1-91h0m0 47h0m9-8h0m0 17h0m1-60h0m0 25h0m0 16h0m0 4h0m0 1h0m0 3h0m0 3h0m0 1h0m0 7h0m0 2h0m0 2h0m0 6h0m0 2h0m0 1h0m0 2h0m0 3h0m0 5h0m0 1h0m0 3h0m0 5h0m10-91h0m0 5h0m0 9h0m0 5h0m0 9h0m0 13h0m0 3h0m0 12h0m0 4h0m0 7h0m0 10h0m0 2h0m0 2h0m0 1h0m1-79h0m0 9h0m0 1h0m0 1h0m0 5h0m0 2h0m0 5h0m0 2h0m0 5h0m0 16h0m0 2h0m0 19h0m0 1h0m0 13h0m9-15h0m1-73h0m0 4h0m0 5h0m0 5h0m0 4h0m0 3h0m0 1h0m0 3h0m0 7h0m0 1h0m0 9h0m0 3h0m0 1h0m0 2h0m0 5h0m0 12h0m0 3h0m0 4h0m0 3h0m0 3h0m0 1h0m0 12h0m0 9h0m10-93h0m0 7h0m0 4h0m0 5h0m0 8h0m0 1h0m0 15h0m0 2h0m0 4h0m0 6h0m0 1h0m0 2h0m0 13h0m0 1h0m0 7h0m0 3h0m0 2h0m0 14h0m1-95h0m0 24h0m0 4h0m0 7h0m0 15h0m0 7h0m0 6h0m0 2h0m0 6h0m0 8h0m0 8h0m9-48h0m1-51h0m0 9h0m0 4h0m0 1h0m0 3h0m0 1h0m0 3h0m0 7h0m0 3h0m0 2h0m0 3h0m0 2h0m0 2h0m0 1h0m0 2h0m0 4h0m0 1h0m0 1h0m0 1h0m0 2h0m0 12h0m0 11h0m0 2h0m0 3h0m0 6h0m0 5h0m0 3h0m0 6h0m0 6h0m10-105h0m0 12h0m0 15h0m0 13h0m0 6h0m0 4h0m0 1h0m0 3h0m0 2h0m0 1h0m0 4h0m0 5h0m0 3h0m0 4h0m0 12h0m0 2h0m0 1h0m1-76h0m0 13h0m0 11h0m0 1h0m0 7h0m0 2h0m0 8h0m0 1h0m0 5h0m0 5h0m0 12h0m0 2h0m0 12h0m9-16h0m1-75h0m0 5h0m0 2h0m0 14h0m0 7h0m0 1h0m0 6h0m0 2h0m0 5h0m0 1h0m0 8h0m0 2h0m0 3h0m0 1h0m0 4h0m0 1h0m0 2h0m0 2h0m0 10h0m0 1h0m0 3h0m0 2h0m0 1h0m0 1h0m0 3h0m0 2h0m0 5h0m0 1h0m1 0h0m0 8h0m9-106h0m0 17h0m0 36h0m0 5h0m0 1h0m0 3h0m0 32h0m0 2h0m1-89h0m0 1h0m0 4h0m0 5h0m0 1h0m0 5h0m0 3h0m0 3h0m0 3h0m0 12h0m0 3h0m0 3h0m0 1h0m0 32h0m0 2h0m0 6h0m0 7h0m10-99h0m0 7h0m0 2h0m0 6h0m0 4h0m0 1h0m0 1h0m0 6h0m0 2h0m0 3h0m0 1h0m0 1h0m0 3h0m0 5h0m0 4h0m0 1h0m0 3h0m0 1h0m0 1h0m0 1h0m0 5h0m0 3h0m0 13h0m0 12h0m0 1h0m0 2h0m0 10h0m0 5h0m0 2h0m1-47h0m9-52h0m0 28h0m0 1h0m0 4h0m0 9h0m0 15h0m0 9h0m0 8h0m0 1h0m0 10h0m0 2h0m0 5h0m0 7h0m1-96h0m0 5h0m0 1h0m0 12h0m0 2h0m0 2h0m0 1h0m0 8h0m0 3h0m0 2h0m0 6h0m0 8h0m0 1h0m0 5h0m0 4h0m0 6h0m0 7h0m0 7h0m0 3h0m0 9h0m0 9h0m9-16h0m1-100h0m0 8h0m0 3h0m0 6h0m0 1h0m0 1h0m0 6h0m0 15h0m0 1h0m0 1h0m0 2h0m0 6h0m0 4h0m0 1h0m0 1h0m0 5h0m0 3h0m0 2h0m0 1h0m0 6h0m0 1h0m0 2h0m0 5h0m0 2h0m0 1h0m0 4h0m0 4h0m0 2h0m0 8h0m0 1h0m0 2h0m1-50h0m9-44h0m0 13h0m0 2h0m0 10h0m0 6h0m0 2h0m0 1h0m0 30h0m0 3h0m0 11h0m0 9h0m1-92h0m0 7h0m0 13h0m0 1h0m0 7h0m0 4h0m0 3h0m0 1h0m0 3h0m0 10h0m0 4h0m0 3h0m0 15h0m0 5h0m0 3h0m0 2h0m0 12h0m0 12h0m10-113h0m0 1h0m0 4h0m0 1h0m0 1h0m0 5h0m0 3h0m0 1h0m0 8h0m0 7h0m0 2h0m0 2h0m0 8h0m0 3h0m0 15h0m0 5h0m0 3h0m0 4h0m0 1h0m0 12h0m0 7h0m0 4h0m0 4h0m0 6h0m0 1h0m0 1h0m0 5h0m0 8h0m1-98h0m0 40h0m0 17h0m0 23h0m0 9h0m9-88h0m0 24h0m0 29h0m0 12h0m0 18h0m1-101h0m0 2h0m0 1h0m0 3h0m0 2h0m0 2h0m0 3h0m0 7h0m0 2h0m0 4h0m0 3h0m0 5h0m0 15h0m0 1h0m0 12h0m0 10h0m0 11h0m0 1h0m0 3h0m0 10h0m0 14h0m0 4h0m10-111h0m0 4h0m0 2h0m0 3h0m0 3h0m0 5h0m0 15h0m0 1h0m0 1h0m0 1h0m0 9h0m0 3h0m0 2h0m0 1h0m0 12h0m0 1h0m0 4h0m0 1h0m0 2h0m0 7h0m0 3h0m0 5h0m0 8h0m1-97h0m0 33h0m0 2h0m0 13h0m0 11h0m0 30h0m0 13h0m9-101h0m0 25h0m0 48h0m0 1h0m0 1h0m0 1h0m0 33h0m0 5h0m0 1h0m1-108h0m0 2h0m0 6h0m0 15h0m0 1h0m0 1h0m0 2h0m0 16h0m0 3h0m0 3h0m0 4h0m0 6h0m0 7h0m0 1h0m0 3h0m0 2h0m0 6h0m0 9h0m0 4h0m0 3h0m0 10h0m0 4h0m0 1h0m1-8h0m9-129h0m0 15h0m0 1h0m0 1h0m0 15h0m0 8h0m0 10h0m0 2h0m0 5h0m0 9h0m0 6h0m0 9h0m0 12h0m0 6h0m0 10h0m0 21h0m1-126h0m0 60h0m0 12h0m0 16h0m0 26h0m0 2h0m9-137h0m0 98h0m1-85h0m0 10h0m0 4h0m0 1h0m0 7h0m0 7h0m0 4h0m0 5h0m0 1h0m0 3h0m0 4h0m0 2h0m0 10h0m0 3h0m0 1h0m0 1h0m0 1h0m0 12h0m0 11h0m0 2h0m0 4h0m0 8h0m0 19h0m0 2h0m0 6h0m10-172h0m0 21h0m0 2h0m0 14h0m0 11h0m0 13h0m0 9h0m0 12h0m0 6h0m0 4h0m0 3h0m0 3h0m0 3h0m0 5h0m0 11h0m0 20h0m0 2h0m0 1h0m0 12h0m0 5h0m1-168h0m0 35h0m0 11h0m0 3h0m0 6h0m0 25h0m0 12h0m0 6h0m0 54h0m0 16h0m9-174h0m0 40h0m1-74h0m0 2h0m0 7h0m0 34h0m0 2h0m0 20h0m0 12h0m0 5h0m0 10h0m0 25h0m0 1h0m0 4h0m0 11h0m0 8h0m0 23h0m0 11h0m0 15h0m10-166h0m0 6h0m0 4h0m0 19h0m0 7h0m0 4h0m0 2h0m0 29h0m0 5h0m0 3h0m0 10h0m0 15h0m0 1h0m0 15h0m0 19h0m0 19h0m1-206h0m0 3h0m0 18h0m0 9h0m0 7h0m0 18h0m0 9h0m0 3h0m0 23h0m0 22h0m0 2h0m0 26h0m0 19h0m0 1h0m0 7h0m0 16h0m0 8h0m9-153h0m1-43h0m0 24h0m0 2h0m0 1h0m0 6h0m0 2h0m0 19h0m0 5h0m0 31h0m0 4h0m0 6h0m0 1h0m0 29h0m0 1h0m0 13h0m0 30h0m0 5h0m0 5h0m0 13h0m1-75h0m9-175h0m0 11h0m0 10h0m0 6h0m0 19h0m0 44h0m0 4h0m0 37h0m0 9h0m0 6h0m0 22h0m0 14h0m0 5h0m0 7h0m0 23h0m0 6h0m0 24h0m1-225h0m0 28h0m0 35h0m0 22h0m0 16h0m0 8h0m0 8h0m0 7h0m0 33h0m0 20h0m0 8h0m0 1h0m0 6h0m10-226h0m0 14h0m0 1h0m0 16h0m0 3h0m0 3h0m0 1h0m0 15h0m0 8h0m0 1h0m0 15h0m0 2h0m0 7h0m0 27h0m0 2h0m0 1h0m0 2h0m0 3h0m0 1h0m0 5h0m0 3h0m0 4h0m0 10h0m0 8h0m0 5h0m0 30h0m0 1h0m0 2h0m0 3h0m0 9h0m0 4h0m0 3h0m1-190h0m0 104h0m0 14h0m0 31h0m9-147h0m0 3h0m0 7h0m0 4h0m0 13h0m0 3h0m0 19h0m0 8h0m0 15h0m0 31h0m0 6h0m0 1h0m0 5h0m0 3h0m0 4h0m0 5h0m0 1h0m0 5h0m0 5h0m0 5h0m1-174h0m0 3h0m0 2h0m0 11h0m0 6h0m0 4h0m0 1h0m0 1h0m0 11h0m0 27h0m0 1h0m0 3h0m0 4h0m0 15h0m0 6h0m0 5h0m0 1h0m0 6h0m0 5h0m0 5h0m0 14h0m0 2h0m0 21h0m0 9h0m0 13h0m10-173h0m0 5h0m0 3h0m0 1h0m0 5h0m0 8h0m0 6h0m0 17h0m0 4h0m0 4h0m0 5h0m0 3h0m0 4h0m0 3h0m0 3h0m0 1h0m0 7h0m0 3h0m0 5h0m0 2h0m0 4h0m0 1h0m0 11h0m0 9h0m0 4h0m0 10h0m0 7h0m0 3h0m0 12h0m0 2h0m0 1h0m0 8h0m0 6h0m1-102h0m0 52h0m0 20h0m9-104h0m0 3h0m0 3h0m0 3h0m0 16h0m0 5h0m0 14h0m0 8h0m0 1h0m0 19h0m0 13h0m0 24h0m0 11h0m0 12h0m1-156h0m0 10h0m0 18h0m0 2h0m0 12h0m0 5h0m0 7h0m0 5h0m0 1h0m0 2h0m0 1h0m0 1h0m0 5h0m0 3h0m0 16h0m0 16h0m0 5h0m0 15h0m0 10h0m0 11h0m0 1h0m0 2h0m0 21h0m0 2h0m0 5h0m10-160h0m0 8h0m0 12h0m0 14h0m0 4h0m0 5h0m0 3h0m0 6h0m0 6h0m0 1h0m0 2h0m0 7h0m0 10h0m0 6h0m0 7h0m0 13h0m0 6h0m0 11h0m0 2h0m0 7h0m0 9h0m0 21h0m0 2h0m0 1h0m0 2h0m0 8h0m0 5h0m0 2h0m0 1h0m0 4h0m1-131h0m0 32h0m0 16h0m0 13h0m0 37h0m0 24h0m9-131h0m0 6h0m0 19h0m0 58h0m0 9h0m0 2h0m0 7h0m0 4h0m0 14h0m1-130h0m0 10h0m0 6h0m0 1h0m0 23h0m0 5h0m0 5h0m0 7h0m0 2h0m0 16h0m0 7h0m0 3h0m0 7h0m0 4h0m0 6h0m0 3h0m0 9h0m0 2h0m0 4h0m0 7h0m0 3h0m0 3h0m0 4h0m0 17h0m0 3h0m0 13h0m10-147h0m0 3h0m0 3h0m0 9h0m0 3h0m0 1h0m0 6h0m0 11h0m0 10h0m0 10h0m0 11h0m0 2h0m0 3h0m0 1h0m0 27h0m0 7h0m0 1h0m0 1h0m0 8h0m0 5h0m0 13h0m0 5h0m0 3h0m0 6h0m0 11h0m0 5h0m0 2h0m0 7h0m0 1h0m1-125h0m0 5h0m0 7h0m0 18h0m0 26h0m0 14h0m0 17h0m0 41h0m9-106h0m0 14h0m0 25h0m0 88h0m1-180h0m0 6h0m0 26h0m0 15h0m0 1h0m0 9h0m0 6h0m0 7h0m0 7h0m0 10h0m0 8h0m0 1h0m0 1h0m0 3h0m0 3h0m0 1h0m0 3h0m0 10h0m0 7h0m0 10h0m0 28h0m0 2h0m0 20h0m0 4h0m1-28h0m9-125h0m0 7h0m0 17h0m0 2h0m0 9h0m0 6h0m0 17h0m0 7h0m0 2h0m0 11h0m0 2h0m0 3h0m0 4h0m0 12h0m0 2h0m0 3h0m0 10h0m0 1h0m0 13h0m0 4h0m0 6h0m0 6h0m0 11h0m1-150h0m0 42h0m0 6h0m0 12h0m0 36h0m0 19h0m9 19h0m0 3h0m0 1h0m0 8h0m0 3h0m1-106h0m0 3h0m0 15h0m0 7h0m0 13h0m0 1h0m0 2h0m0 1h0m0 6h0m0 39h0m0 2h0m0 10h0m0 3h0m0 2h0m0 11h0m0 3h0m0 7h0m10-127h0m0 8h0m0 5h0m0 1h0m0 4h0m0 6h0m0 7h0m0 7h0m0 16h0m0 6h0m0 13h0m0 8h0m0 7h0m0 2h0m0 5h0m0 2h0m0 3h0m0 13h0m0 27h0m0 3h0m0 2h0m1-116h0m0 15h0m0 9h0m0 3h0m0 5h0m0 5h0m0 32h0m0 10h0m0 17h0m0 2h0m9-64h0m0 76h0m1-131h0m0 1h0m0 2h0m0 2h0m0 7h0m0 23h0m0 2h0m0 7h0m0 26h0m0 5h0m0 12h0m0 3h0m0 1h0m0 2h0m0 2h0m0 3h0m0 1h0m0 15h0m0 16h0m0 22h0m0 2h0m10-165h0m0 11h0m0 3h0m0 7h0m0 2h0m0 4h0m0 7h0m0 6h0m0 5h0m0 1h0m0 15h0m0 2h0m0 4h0m0 5h0m0 16h0m0 33h0m0 5h0m0 5h0m0 26h0m0 4h0m0 1h0m0 10h0m0 10h0m1-175h0m0 28h0m0 6h0m0 18h0m0 12h0m0 1h0m0 2h0m0 11h0m0 4h0m0 2h0m0 24h0m0 8h0m0 17h0m0 16h0m9-42h0m1-91h0m0 27h0m0 3h0m0 27h0m0 2h0m0 3h0m0 10h0m0 7h0m0 3h0m0 9h0m0 3h0m0 3h0m0 7h0m0 16h0m0 6h0m0 10h0m0 4h0m0 25h0m0 8h0m1-30h0m9-140h0m0 1h0m0 5h0m0 9h0m0 1h0m0 3h0m0 6h0m0 16h0m0 1h0m0 3h0m0 11h0m0 63h0m0 29h0m0 7h0m0 4h0m0 6h0m0 4h0m1-189h0m0 2h0m0 2h0m0 10h0m0 39h0m0 26h0m0 9h0m0 1h0m0 5h0m0 37h0m0 18h0m9-2h0m1-132h0m0 20h0m0 14h0m0 2h0m0 5h0m0 11h0m0 3h0m0 7h0m0 5h0m0 3h0m0 1h0m0 3h0m0 7h0m0 9h0m0 2h0m0 4h0m0 12h0m0 13h0m0 23h0m0 3h0m0 12h0m0 6h0m0 15h0m1-93h0m9-84h0m0 46h0m0 17h0m0 22h0m0 46h0m0 8h0m0 12h0m0 2h0m0 15h0m0 11h0m0 15h0m0 8h0m1-186h0m0 28h0m0 19h0m0 12h0m0 4h0m0 2h0m0 95h0m0 22h0m9-66h0m1-140h0m0 12h0m0 19h0m0 2h0m0 7h0m0 3h0m0 9h0m0 12h0m0 2h0m0 11h0m0 4h0m0 2h0m0 1h0m0 5h0m0 5h0m0 3h0m0 5h0m0 11h0m0 1h0m0 7h0m0 10h0m0 1h0m0 12h0m0 21h0m0 3h0m0 4h0m0 7h0m0 8h0m0 5h0m0 12h0m1-145h0m0 31h0m9-52h0m0 5h0m0 8h0m0 20h0m0 11h0m0 50h0m0 7h0m0 11h0m0 1h0m0 38h0m0 1h0m1-183h0m0 6h0m0 9h0m0 1h0m0 7h0m0 3h0m0 2h0m0 18h0m0 14h0m0 9h0m0 13h0m0 20h0m0 16h0m0 5h0m0 6h0m0 6h0m0 7h0m0 18h0m0 5h0m0 8h0m0 23h0m10-184h0m0 4h0m0 4h0m0 3h0m0 1h0m0 2h0m0 5h0m0 51h0m0 16h0m0 4h0m0 14h0m0 6h0m0 13h0m0 1h0m0 12h0m0 6h0m0 19h0m0 5h0m0 10h0m0 16h0m1-107h0m0 61h0m0 16h0m0 28h0m9-161h0m0 22h0m0 4h0m0 4h0m0 86h0m1-136h0m0 26h0m0 14h0m0 3h0m0 4h0m0 1h0m0 10h0m0 8h0m0 9h0m0 7h0m0 12h0m0 14h0m0 4h0m0 2h0m0 3h0m0 23h0m0 28h0m0 13h0m10-174h0m0 10h0m0 3h0m0 6h0m0 11h0m0 7h0m0 3h0m0 9h0m0 1h0m0 4h0m0 14h0m0 1h0m0 2h0m0 2h0m0 18h0m0 5h0m0 15h0m0 2h0m0 4h0m0 4h0m0 32h0m0 7h0m0 2h0m0 5h0m0 3h0m1-154h0m0 27h0m0 143h0m9-170h0m0 2h0m0 12h0m0 45h0m0 15h0m0 71h0m1-166h0m0 4h0m0 1h0m0 27h0m0 15h0m0 1h0m0 5h0m0 2h0m0 9h0m0 4h0m0 19h0m0 15h0m0 17h0m0 7h0m0 1h0m0 16h0m0 14h0m0 13h0m9-88h0m1-97h0m0 14h0m0 17h0m0 11h0m0 34h0m0 6h0m0 1h0m0 13h0m0 12h0m0 14h0m0 1h0m0 11h0m0 2h0m0 2h0m0 1h0m0 42h0m0 7h0m0 2h0m0 2h0m0 5h0m1-40h0m9-107h0m0 29h0m0 1h0m0 42h0m0 24h0m0 35h0m1-164h0m0 3h0m0 5h0m0 3h0m0 3h0m0 20h0m0 11h0m0 5h0m0 1h0m0 9h0m0 3h0m0 2h0m0 8h0m0 9h0m0 1h0m0 28h0m0 5h0m0 12h0m0 3h0m0 11h0m0 8h0m0 6h0m0 3h0m0 1h0m0 11h0m0 2h0m0 15h0m0 2h0m10-213h0m0 10h0m0 5h0m0 3h0m0 6h0m0 13h0m0 12h0m0 4h0m0 9h0m0 2h0m0 2h0m0 25h0m0 28h0m0 15h0m0 4h0m0 15h0m0 7h0m0 1h0m0 4h0m0 5h0m0 12h0m1-128h0m0 43h0m0 56h0m0 17h0m0 12h0m9-55h0m0 13h0m1-110h0m0 2h0m0 15h0m0 8h0m0 15h0m0 11h0m0 16h0m0 1h0m0 11h0m0 15h0m0 54h0m0 5h0m0 6h0m0 2h0m0 10h0m1-149h0m9-28h0m0 17h0m0 9h0m0 19h0m0 4h0m0 1h0m0 6h0m0 1h0m0 6h0m0 4h0m0 5h0m0 16h0m0 10h0m0 19h0m0 2h0m0 9h0m0 13h0m0 36h0m1-134h0m0 51h0m0 37h0m0 4h0m0 32h0m0 1h0m9-135h0m0 9h0m1-45h0m0 1h0m0 16h0m0 13h0m0 2h0m0 7h0m0 6h0m0 23h0m0 1h0m0 14h0m0 7h0m0 16h0m0 4h0m0 16h0m0 17h0m0 3h0m0 11h0m0 2h0m0 17h0m0 1h0m0 20h0m10-182h0m0 15h0m0 8h0m0 11h0m0 6h0m0 4h0m0 3h0m0 5h0m0 19h0m0 3h0m0 40h0m0 8h0m0 5h0m0 4h0m0 7h0m0 12h0m0 6h0m0 23h0m0 3h0m1-201h0m0 4h0m0 19h0m0 9h0m0 15h0m0 5h0m0 42h0m0 1h0m0 31h0m0 6h0m0 32h0m0 1h0m0 16h0m9-150h0m0 46h0m1-72h0m0 1h0m0 21h0m0 5h0m0 9h0m0 8h0m0 15h0m0 18h0m0 22h0m0 8h0m0 10h0m0 1h0m0 12h0m0 10h0m0 1h0m0 12h0m0 30h0m0 8h0m0 3h0m10-192h0m0 26h0m0 41h0m0 28h0m0 10h0m0 8h0m0 11h0m0 19h0m0 23h0m0 8h0m1-148h0m0 2h0m0 9h0m0 14h0m0 3h0m0 11h0m0 3h0m0 16h0m0 10h0m0 10h0m0 20h0m0 5h0m0 12h0m0 21h0m0 8h0m0 27h0m9-42h0m0 45h0m1-207h0m0 1h0m0 11h0m0 15h0m0 4h0m0 9h0m0 20h0m0 8h0m0 11h0m0 5h0m0 15h0m0 24h0m0 2h0m0 9h0m0 2h0m0 20h0m0 13h0m0 20h0m0 12h0m0 2h0m0 9h0m10-155h0m0 23h0m0 21h0m0 1h0m0 47h0m0 56h0m1-195h0m0 50h0m0 34h0m0 18h0m0 18h0m0 8h0m0 5h0m0 17h0m0 4h0m0 4h0m0 7h0m0 13h0m0 12h0m0 17h0m10-227h0m0 27h0m0 32h0m0 11h0m0 4h0m0 1h0m0 3h0m0 6h0m0 4h0m0 4h0m0 3h0m0 10h0m0 14h0m0 4h0m0 6h0m0 6h0m0 18h0m0 9h0m0 29h0m0 12h0m0 28h0m1-64h0m9-158h0m0 25h0m0 54h0m0 25h0m0 2h0m0 10h0m0 18h0m0 1h0m0 22h0m0 22h0m0 23h0m1-188h0m0 43h0m0 19h0m0 4h0m0 2h0m0 18h0m0 3h0m0 23h0m0 23h0m0 20h0m0 1h0m0 7h0m0 8h0m0 19h0m0 1h0m0 23h0m10-251h0m0 49h0m0 8h0m0 22h0m0 12h0m0 10h0m0 7h0m0 4h0m0 23h0m0 16h0m0 14h0m0 2h0m0 27h0m0 2h0m0 3h0m0 7h0m0 13h0m0 2h0m0 5h0m0 1h0m0 8h0m0 14h0m0 2h0m0 3h0m1-219h0m0 124h0m9-85h0m0 9h0m0 110h0m0 50h0m1-199h0m0 42h0m0 50h0m0 52h0m0 23h0m0 23h0m0 4h0m0 5h0m0 3h0m9-63h0m1-174h0m0 2h0m0 5h0m0 27h0m0 15h0m0 4h0m0 2h0m0 7h0m0 20h0m0 13h0m0 15h0m0 22h0m0 13h0m0 1h0m0 3h0m0 36h0m0 13h0m0 41h0m1-25h0m9-206h0m0 16h0m0 84h0m0 31h0m1-144h0m0 11h0m0 3h0m0 2h0m0 45h0m0 2h0m0 9h0m0 11h0m0 30h0m0 11h0m0 15h0m0 25h0m0 12h0m0 4h0m0 70h0m0 2h0m10-226h0m0 16h0m0 11h0m0 3h0m0 3h0m0 30h0m0 17h0m0 1h0m0 5h0m0 14h0m0 1h0m0 39h0m1-119h0m0 8h0m0 22h0m0 16h0m0 119h0m9-164h0m0 4h0m0 50h0m1-91h0m0 39h0m0 8h0m0 2h0m0 21h0m0 2h0m0 4h0m0 44h0m0 3h0m0 39h0m0 6h0m0 11h0m0 6h0m0 10h0m0 6h0m0 7h0m0 27h0m0 10h0m10-244h0m0 18h0m0 48h0m0 1h0m0 30h0m0 2h0m0 48h0m0 26h0m0 5h0m0 27h0m0 23h0m1-243h0m0 50h0m0 45h0m0 78h0m9-167h0m0 18h0m0 94h0m0 20h0m0 25h0m0 76h0m0 20h0m1-267h0m0 14h0m0 28h0m0 50h0m0 10h0m0 24h0m0 12h0m0 21h0m0 1h0m0 12h0m0 25h0m0 1h0m0 7h0m0 30h0m0 18h0m0 13h0m0 2h0m10-256h0m0 43h0m0 29h0m0 12h0m0 25h0m0 9h0m0 131h0m1-205h0m0 5h0m0 66h0m0 15h0m0 32h0m0 34h0m0 62h0m9-162h0m1-104h0m0 12h0m0 3h0m0 36h0m0 4h0m0 40h0m0 10h0m0 13h0m0 20h0m0 31h0m0 17h0m0 10h0m0 12h0m0 2h0m0 47h0m0 19h0m10-288h0m0 16h0m0 7h0m0 56h0m0 16h0m0 28h0m0 3h0m0 14h0m0 10h0m0 2h0m0 5h0m0 33h0m0 51h0m0 12h0m0 31h0m1-274h0m0 27h0m0 61h0m0 173h0" stroke="#000" stroke-width="3.0" stroke-linecap="square" stroke-opacity="0.6" fill="none"/>
<path transform="scale(0.5)" d="M99 302h0m0 1h0m0 15h0m0 4h0m0 12h0m0 38h0m0 25h0m1-96h0m0 5h0m0 3h0m0 7h0m0 16h0m0 5h0m0 4h0m0 1h0m0 7h0m0 5h0m0 1h0m0 7h0m0 2h0m0 3h0m0 14h0m0 1h0m0 1h0m0 3h0m0 22h0m0 4h0m0 1h0m0 2h0m1-58h0m8 2h0m1-61h0m0 1h0m0 6h0m0 4h0m0 9h0m0 12h0m0 8h0m0 2h0m0 2h0m0 11h0m0 7h0m0 2h0m0 3h0m0 20h0m0 12h0m1-122h0m0 14h0m0 11h0m0 17h0m0 13h0m0 23h0m0 27h0m0 16h0m9-82h0m0 21h0m0 54h0m1-104h0m0 1h0m0 3h0m0 1h0m0 1h0m0 8h0m0 8h0m0 3h0m0 3h0m0 7h0m0 5h0m0 2h0m0 10h0m0 1h0m0 10h0m0 5h0m0 1h0m0 4h0m0 1h0m0 4h0m0 5h0m0 7h0m0 5h0m0 12h0m0 2h0m0 7h0m0 1h0m0 5h0m0 2h0m0 3h0m1-9h0m9-118h0m0 3h0m0 4h0m0 3h0m0 3h0m0 14h0m0 10h0m0 12h0m0 1h0m0 2h0m0 1h0m0 13h0m0 2h0m0 5h0m0 3h0m0 2h0m0 2h0m0 10h0m0 6h0m0 4h0m0 9h0m0 18h0m0 1h0m1-126h0m0 18h0m0 27h0m0 10h0m0 5h0m0 7h0m0 6h0m0 14h0m0 1h0m0 1h0m0 6h0m0 1h0m0 7h0m0 2h0m0 7h0m9-50h0m1-57h0m0 3h0m0 4h0m0 6h0m0 8h0m0 1h0m0 1h0m0 2h0m0 6h0m0 9h0m0 3h0m0 4h0m0 5h0m0 3h0m0 5h0m0 1h0m0 7h0m0 3h0m0 1h0m0 1h0m0 15h0m0 6h0m0 2h0m0 8h0m0 5h0m0 4h0m0 8h0m10-107h0m0 11h0m0 8h0m0 9h0m0 7h0m0 1h0m0 8h0m0 2h0m0 10h0m0 4h0m0 2h0m0 5h0m0 1h0m0 3h0m0 2h0m0 22h0m0 5h0m0 6h0m1-122h0m0 2h0m0 7h0m0 1h0m0 20h0m0 2h0m0 10h0m0 8h0m0 6h0m0 3h0m0 38h0m0 17h0m9-110h0m0 24h0m0 20h0m0 57h0m1-109h0m0 1h0m0 5h0m0 4h0m0 5h0m0 10h0m0 12h0m0 2h0m0 10h0m0 5h0m0 2h0m0 2h0m0 5h0m0 6h0m0 3h0m0 5h0m0 3h0m0 1h0m0 6h0m0 1h0m0 1h0m0 2h0m0 3h0m0 4h0m0 10h0m0 1h0m0 11h0m1-97h0m0 3h0m0 72h0m9-91h0m0 4h0m0 4h0m0 6h0m0 7h0m0 15h0m0 1h0m0 11h0m0 3h0m0 5h0m0 1h0m0 28h0m0 5h0m0 5h0m0 22h0m0 1h0m1-123h0m0 5h0m0 11h0m0 1h0m0 7h0m0 2h0m0 3h0m0 2h0m0 14h0m0 6h0m0 10h0m0 3h0m0 4h0m0 3h0m0 3h0m0 27h0m0 4h0m0 15h0m10-93h0m0 5h0m0 1h0m0 1h0m0 1h0m0 1h0m0 4h0m0 8h0m0 10h0m0 3h0m0 2h0m0 2h0m0 1h0m0 3h0m0 7h0m0 3h0m0 2h0m0 6h0m0 3h0m0 1h0m0 4h0m0 2h0m0 2h0m0 2h0m0 4h0m0 2h0m0 1h0m0 1h0m0 1h0m1-53h0m0 27h0m0 29h0m9-93h0m0 5h0m0 6h0m0 19h0m0 3h0m0 2h0m0 14h0m0 1h0m0 9h0m0 1h0m0 5h0m0 2h0m0 12h0m0 1h0m0 11h0m1-94h0m0 4h0m0 18h0m0 11h0m0 1h0m0 16h0m0 6h0m0 18h0m0 1h0m9-59h0m0 75h0m1-89h0m0 2h0m0 3h0m0 1h0m0 4h0m0 6h0m0 1h0m0 7h0m0 3h0m0 3h0m0 1h0m0 3h0m0 1h0m0 13h0m0 7h0m0 1h0m0 4h0m0 5h0m0 2h0m0 4h0m0 3h0m0 1h0m0 6h0m0 7h0m0 1h0m0 1h0m1-59h0m0 57h0m9-86h0m0 1h0m0 13h0m0 2h0m0 13h0m0 15h0m0 5h0m0 10h0m0 2h0m0 9h0m0 6h0m0 7h0m1-88h0m0 8h0m0 20h0m0 3h0m0 15h0m0 4h0m0 5h0m0 2h0m0 1h0m0 1h0m0 17h0m0 15h0m0 2h0m9-64h0m1-36h0m0 2h0m0 8h0m0 1h0m0 4h0m0 4h0m0 8h0m0 2h0m0 2h0m0 6h0m0 3h0m0 4h0m0 3h0m0 10h0m0 5h0m0 6h0m0 2h0m0 5h0m0 1h0m0 14h0m0 4h0m0 2h0m0 1h0m1-66h0m0 5h0m0 6h0m0 7h0m0 13h0m0 13h0m0 4h0m9-53h0m0 17h0m0 20h0m0 1h0m0 2h0m1-57h0m0 4h0m0 5h0m0 3h0m0 2h0m0 5h0m0 5h0m0 4h0m0 3h0m0 2h0m0 1h0m0 1h0m0 3h0m0 1h0m0 3h0m0 1h0m0 16h0m0 4h0m0 5h0m0 9h0m0 4h0m0 9h0m9-74h0m1-19h0m0 3h0m0 3h0m0 6h0m0 1h0m0 5h0m0 3h0m0 6h0m0 5h0m0 1h0m0 4h0m0 7h0m0 5h0m0 2h0m0 4h0m0 3h0m0 7h0m0 2h0m0 4h0m0 2h0m0 1h0m0 3h0m0 3h0m0 7h0m0 1h0m0 7h0m1-92h0m0 44h0m9-48h0m0 17h0m0 31h0m0 2h0m0 21h0m0 13h0m1-85h0m0 4h0m0 9h0m0 6h0m0 9h0m0 1h0m0 10h0m0 4h0m0 5h0m0 2h0m0 1h0m0 2h0m0 7h0m0 1h0m0 14h0m0 5h0m0 21h0m10-98h0m0 2h0m0 3h0m0 2h0m0 8h0m0 1h0m0 8h0m0 1h0m0 5h0m0 4h0m0 12h0m0 3h0m0 2h0m0 3h0m0 19h0m0 7h0m0 2h0m0 1h0m0 8h0m0 5h0m1-55h0m0 2h0m0 14h0m0 22h0m9-73h0m0 7h0m0 10h0m0 9h0m0 43h0m0 5h0m0 17h0m1-91h0m0 3h0m0 3h0m0 6h0m0 8h0m0 1h0m0 4h0m0 1h0m0 4h0m0 13h0m0 1h0m0 6h0m0 2h0m0 3h0m0 8h0m0 8h0m0 1h0m0 2h0m0 1h0m0 1h0m0 1h0m0 8h0m10-91h0m0 5h0m0 1h0m0 2h0m0 8h0m0 12h0m0 5h0m0 7h0m0 1h0m0 10h0m0 2h0m0 4h0m0 1h0m0 11h0m0 1h0m0 2h0m0 8h0m0 3h0m0 1h0m1-77h0m0 1h0m0 6h0m0 3h0m0 11h0m0 2h0m0 12h0m0 14h0m0 1h0m0 10h0m9-62h0m0 13h0m0 5h0m0 15h0m0 10h0m0 19h0m0 24h0m1-98h0m0 4h0m0 17h0m0 2h0m0 1h0m0 15h0m0 3h0m0 5h0m0 3h0m0 1h0m0 1h0m0 3h0m0 2h0m0 1h0m0 2h0m0 1h0m0 5h0m0 1h0m0 5h0m0 4h0m0 3h0m0 3h0m0 4h0m0 3h0m0 3h0m10-87h0m0 6h0m0 4h0m0 4h0m0 6h0m0 6h0m0 3h0m0 1h0m0 5h0m0 1h0m0 1h0m0 2h0m0 2h0m0 10h0m0 10h0m0 8h0m0 2h0m0 4h0m0 4h0m0 2h0m0 1h0m0 2h0m1-81h0m0 17h0m0 2h0m0 4h0m0 1h0m0 18h0m0 10h0m0 1h0m0 18h0m0 11h0m9-90h0m0 19h0m0 22h0m1-44h0m0 4h0m0 1h0m0 16h0m0 3h0m0 2h0m0 2h0m0 2h0m0 1h0m0 3h0m0 1h0m0 1h0m0 1h0m0 1h0m0 7h0m0 2h0m0 1h0m0 2h0m0 5h0m0 7h0m0 12h0m0 3h0m0 8h0m0 8h0m0 10h0m10-107h0m0 18h0m0 3h0m0 14h0m0 8h0m0 3h0m0 1h0m0 6h0m0 23h0m0 10h0m0 6h0m0 7h0m1-87h0m0 1h0m0 5h0m0 8h0m0 5h0m0 11h0m0 12h0m0 7h0m0 7h0m0 5h0m0 3h0m0 28h0m9-75h0m0 23h0m0 10h0m0 4h0m0 21h0m0 1h0m1-83h0m0 8h0m0 5h0m0 3h0m0 3h0m0 1h0m0 5h0m0 2h0m0 3h0m0 12h0m0 2h0m0 8h0m0 2h0m0 3h0m0 3h0m0 7h0m0 10h0m0 7h0m0 7h0m0 5h0m10-102h0m0 8h0m0 5h0m0 7h0m0 5h0m0 8h0m0 3h0m0 6h0m0 10h0m0 5h0m0 7h0m0 2h0m0 9h0m0 8h0m0 8h0m0 4h0m0 3h0m1-99h0m0 9h0m0 17h0m0 1h0m0 6h0m0 1h0m0 10h0m0 2h0m0 8h0m0 8h0m0 13h0m0 13h0m0 7h0m0 16h0m9-99h0m0 67h0m1-67h0m0 10h0m0 2h0m0 3h0m0 9h0m0 1h0m0 2h0m0 2h0m0 2h0m0 1h0m0 2h0m0 3h0m0 1h0m0 2h0m0 2h0m0 7h0m0 14h0m0 4h0m0 2h0m0 7h0m0 1h0m0 4h0m0 7h0m0 4h0m10-93h0m0 3h0m0 1h0m0 3h0m0 9h0m0 4h0m0 3h0m0 14h0m0 20h0m0 17h0m0 12h0m1-101h0m0 10h0m0 2h0m0 1h0m0 8h0m0 5h0m0 11h0m0 1h0m0 10h0m0 5h0m0 2h0m0 3h0m0 8h0m0 1h0m0 3h0m0 9h0m0 1h0m0 1h0m0 9h0m0 7h0m10-92h0m0 1h0m0 3h0m0 6h0m0 12h0m0 9h0m0 8h0m0 1h0m0 2h0m0 4h0m0 2h0m0 5h0m0 1h0m0 3h0m0 1h0m0 2h0m0 2h0m0 4h0m0 2h0m0 9h0m0 1h0m0 2h0m0 2h0m0 5h0m0 3h0m0 1h0m0 13h0m1-85h0m0 4h0m0 25h0m9-49h0m0 1h0m0 4h0m0 1h0m0 4h0m0 5h0m0 2h0m0 10h0m0 5h0m0 14h0m0 1h0m0 21h0m0 4h0m0 6h0m0 3h0m1-78h0m0 16h0m0 2h0m0 15h0m0 1h0m0 8h0m0 25h0m0 1h0m0 9h0m0 2h0m0 1h0m0 3h0m0 2h0m0 1h0m0 7h0m9-52h0m0 39h0m1-92h0m0 4h0m0 14h0m0 3h0m0 1h0m0 1h0m0 7h0m0 12h0m0 6h0m0 1h0m0 7h0m0 2h0m0 1h0m0 14h0m0 3h0m0 2h0m0 4h0m0 1h0m0 2h0m0 3h0m0 1h0m0 5h0m1-54h0m0 57h0m9-84h0m0 6h0m0 11h0m0 18h0m0 19h0m0 12h0m0 14h0m0 10h0m0 4h0m0 1h0m0 3h0m1-106h0m0 8h0m0 2h0m0 5h0m0 2h0m0 2h0m0 1h0m0 1h0m0 6h0m0 20h0m0 8h0m0 2h0m0 1h0m0 5h0m0 2h0m0 8h0m0 6h0m0 10h0m0 1h0m0 9h0m9-13h0m1-76h0m0 3h0m0 7h0m0 2h0m0 2h0m0 4h0m0 2h0m0 5h0m0 1h0m0 8h0m0 1h0m0 2h0m0 7h0m0 2h0m0 1h0m0 1h0m0 5h0m0 1h0m0 8h0m0 1h0m0 1h0m0 1h0m0 9h0m0 6h0m0 3h0m0 1h0m0 4h0m0 1h0m0 1h0m0 4h0m0 2h0m1-97h0m0 87h0m0 12h0m9-108h0m0 13h0m0 13h0m0 10h0m0 27h0m0 2h0m0 15h0m0 11h0m1-75h0m0 8h0m0 9h0m0 4h0m0 15h0m0 2h0m0 2h0m0 3h0m0 3h0m0 11h0m0 9h0m0 1h0m0 1h0m0 3h0m0 3h0m0 12h0m0 4h0m0 1h0m0 2h0m0 1h0m0 8h0m1-87h0m9-19h0m0 6h0m0 7h0m0 2h0m0 7h0m0 13h0m0 1h0m0 6h0m0 4h0m0 6h0m0 2h0m0 3h0m0 9h0m0 4h0m0 5h0m0 1h0m0 4h0m0 8h0m0 10h0m0 1h0m0 1h0m0 4h0m0 1h0m1-102h0m0 9h0m0 27h0m0 5h0m9-15h0m0 11h0m0 22h0m0 36h0m0 3h0m1-121h0m0 16h0m0 3h0m0 20h0m0 1h0m0 2h0m0 2h0m0 2h0m0 3h0m0 6h0m0 1h0m0 17h0m0 4h0m0 13h0m0 7h0m0 2h0m0 2h0m0 10h0m10-115h0m0 6h0m0 3h0m0 1h0m0 7h0m0 1h0m0 14h0m0 1h0m0 5h0m0 7h0m0 1h0m0 1h0m0 1h0m0 8h0m0 4h0m0 1h0m0 4h0m0 2h0m0 5h0m0 1h0m0 8h0m0 13h0m0 4h0m0 7h0m0 1h0m0 2h0m0 4h0m1-117h0m0 41h0m0 4h0m0 46h0m0 16h0m0 4h0m0 13h0m0 9h0m9-143h0m0 14h0m0 79h0m0 4h0m0 5h0m0 29h0m1-126h0m0 1h0m0 5h0m0 2h0m0 2h0m0 10h0m0 1h0m0 1h0m0 17h0m0 1h0m0 2h0m0 22h0m0 1h0m0 10h0m0 2h0m0 6h0m0 1h0m0 2h0m0 2h0m0 9h0m0 3h0m0 5h0m0 15h0m0 20h0m10-181h0m0 1h0m0 8h0m0 16h0m0 3h0m0 1h0m0 16h0m0 12h0m0 1h0m0 2h0m0 12h0m0 2h0m0 14h0m0 1h0m0 14h0m0 2h0m0 10h0m0 2h0m0 2h0m0 6h0m0 13h0m0 1h0m0 6h0m0 14h0m0 4h0m1-173h0m0 36h0m0 39h0m0 9h0m0 2h0m0 1h0m0 8h0m0 8h0m0 18h0m0 14h0m0 24h0m9-106h0m0 14h0m1-124h0m0 20h0m0 2h0m0 2h0m0 27h0m0 21h0m0 1h0m0 4h0m0 1h0m0 3h0m0 4h0m0 8h0m0 9h0m0 3h0m0 13h0m0 4h0m0 16h0m0 14h0m0 6h0m0 11h0m0 8h0m0 4h0m0 6h0m10-150h0m0 14h0m0 4h0m0 12h0m0 15h0m0 8h0m0 1h0m0 2h0m0 24h0m0 5h0m0 12h0m0 27h0m0 4h0m0 31h0m1-163h0m0 7h0m0 37h0m0 12h0m0 4h0m0 13h0m0 25h0m0 6h0m9 3h0m1-164h0m0 20h0m0 1h0m0 19h0m0 14h0m0 6h0m0 2h0m0 20h0m0 10h0m0 2h0m0 8h0m0 12h0m0 3h0m0 2h0m0 24h0m0 5h0m0 3h0m0 3h0m0 4h0m0 1h0m0 12h0m0 7h0m0 1h0m0 6h0m0 4h0m0 4h0m1-142h0m0 2h0m0 118h0m9-199h0m0 32h0m0 13h0m0 12h0m0 10h0m0 8h0m0 1h0m0 6h0m0 27h0m0 1h0m0 12h0m0 7h0m0 4h0m0 16h0m0 29h0m0 1h0m0 16h0m0 24h0m1-221h0m0 41h0m0 7h0m0 7h0m0 3h0m0 2h0m0 34h0m0 9h0m0 4h0m0 28h0m0 2h0m0 17h0m0 11h0m0 2h0m0 15h0m0 9h0m0 12h0m0 10h0m0 15h0m9-262h0m1 10h0m0 2h0m0 2h0m0 2h0m0 4h0m0 20h0m0 10h0m0 1h0m0 9h0m0 2h0m0 5h0m0 2h0m0 3h0m0 6h0m0 6h0m0 7h0m0 8h0m0 2h0m0 1h0m0 3h0m0 13h0m0 7h0m0 9h0m0 10h0m0 3h0m0 1h0m0 1h0m0 8h0m0 4h0m0 10h0m0 6h0m0 13h0m0 4h0m0 10h0m0 7h0m0 3h0m1-130h0m0 14h0m9-88h0m0 18h0m0 11h0m0 6h0m0 4h0m0 12h0m0 16h0m0 6h0m0 9h0m0 12h0m0 27h0m1-124h0m0 6h0m0 15h0m0 1h0m0 1h0m0 4h0m0 9h0m0 5h0m0 5h0m0 5h0m0 10h0m0 21h0m0 25h0m0 3h0m0 10h0m0 24h0m0 9h0m0 4h0m0 6h0m0 3h0m0 17h0m10-199h0m0 12h0m0 1h0m0 1h0m0 2h0m0 2h0m0 1h0m0 4h0m0 5h0m0 5h0m0 1h0m0 4h0m0 1h0m0 1h0m0 3h0m0 5h0m0 2h0m0 2h0m0 2h0m0 10h0m0 1h0m0 2h0m0 2h0m0 2h0m0 4h0m0 1h0m0 5h0m0 4h0m0 5h0m0 2h0m0 1h0m0 9h0m0 7h0m0 3h0m0 5h0m0 16h0m0 3h0m0 1h0m0 1h0m0 19h0m0 6h0m0 9h0m1-106h0m0 40h0m0 2h0m9-94h0m0 21h0m0 41h0m0 9h0m0 10h0m0 13h0m0 19h0m0 17h0m0 5h0m0 8h0m0 2h0m0 6h0m0 7h0m0 9h0m0 16h0m1-186h0m0 2h0m0 12h0m0 3h0m0 13h0m0 14h0m0 9h0m0 6h0m0 14h0m0 7h0m0 4h0m0 4h0m0 3h0m0 5h0m0 16h0m0 11h0m0 1h0m0 2h0m0 3h0m0 8h0m0 3h0m0 15h0m0 2h0m10-138h0m0 4h0m0 4h0m0 1h0m0 1h0m0 13h0m0 5h0m0 1h0m0 10h0m0 7h0m0 10h0m0 1h0m0 11h0m0 16h0m0 3h0m0 2h0m0 10h0m0 4h0m0 40h0m0 11h0m0 9h0m0 6h0m0 4h0m0 17h0m0 4h0m0 6h0m0 6h0m0 1h0m1-103h0m0 6h0m0 12h0m9-53h0m0 93h0m0 36h0m1-170h0m0 12h0m0 4h0m0 4h0m0 2h0m0 1h0m0 7h0m0 6h0m0 11h0m0 1h0m0 7h0m0 1h0m0 2h0m0 6h0m0 5h0m0 1h0m0 21h0m0 1h0m0 12h0m0 9h0m0 1h0m0 1h0m0 1h0m0 8h0m0 3h0m0 4h0m0 6h0m0 1h0m0 1h0m0 5h0m0 10h0m0 3h0m0 2h0m0 4h0m0 1h0m0 2h0m0 6h0m0 4h0m9-44h0m1-92h0m0 15h0m0 4h0m0 15h0m0 4h0m0 4h0m0 8h0m0 8h0m0 2h0m0 17h0m0 2h0m0 4h0m0 2h0m0 10h0m0 5h0m0 3h0m0 3h0m0 15h0m0 9h0m0 7h0m0 9h0m0 12h0m0 19h0m0 2h0m0 3h0m1-122h0m0 7h0m0 8h0m0 20h0m0 9h0m0 13h0m0 30h0m9-136h0m0 6h0m0 14h0m0 13h0m0 13h0m0 18h0m0 17h0m0 2h0m0 6h0m0 22h0m0 12h0m0 32h0m0 18h0m1-165h0m0 3h0m0 21h0m0 13h0m0 6h0m0 13h0m0 11h0m0 3h0m0 15h0m0 13h0m0 1h0m0 19h0m0 8h0m0 4h0m0 7h0m0 24h0m0 12h0m0 12h0m0 4h0m1-64h0m9-101h0m0 7h0m0 19h0m0 3h0m0 1h0m0 4h0m0 4h0m0 6h0m0 19h0m0 4h0m0 19h0m0 10h0m0 38h0m0 35h0m0 10h0m1-175h0m0 10h0m0 9h0m0 5h0m0 39h0m0 3h0m0 40h0m0 13h0m0 43h0m0 1h0m9-141h0m0 27h0m0 23h0m0 9h0m0 78h0m1-152h0m0 18h0m0 1h0m0 1h0m0 4h0m0 1h0m0 2h0m0 13h0m0 22h0m0 17h0m0 1h0m0 1h0m0 1h0m0 4h0m0 9h0m0 20h0m0 2h0m0 10h0m0 3h0m0 2h0m0 3h0m0 20h0m0 6h0m0 8h0m0 3h0m0 2h0m10-144h0m0 1h0m0 10h0m0 16h0m0 12h0m0 1h0m0 8h0m0 7h0m0 9h0m0 3h0m0 2h0m0 6h0m0 1h0m0 8h0m0 7h0m0 7h0m0 3h0m0 1h0m0 17h0m0 7h0m0 2h0m0 1h0m0 2h0m0 4h0m0 8h0m1-151h0m0 48h0m0 14h0m0 35h0m0 14h0m0 3h0m0 22h0m0 5h0m0 17h0m9-121h0m0 39h0m0 4h0m0 10h0m0 44h0m0 37h0m1-157h0m0 1h0m0 1h0m0 1h0m0 11h0m0 1h0m0 4h0m0 3h0m0 5h0m0 3h0m0 7h0m0 1h0m0 2h0m0 24h0m0 7h0m0 3h0m0 3h0m0 4h0m0 8h0m0 11h0m0 9h0m0 1h0m0 6h0m0 11h0m0 1h0m0 13h0m0 2h0m0 1h0m0 3h0m0 7h0m0 8h0m0 2h0m0 4h0m10-150h0m0 4h0m0 13h0m0 13h0m0 22h0m0 10h0m0 26h0m0 5h0m0 14h0m0 14h0m0 8h0m0 13h0m0 4h0m0 7h0m0 5h0m1-117h0m0 8h0m0 10h0m0 11h0m0 13h0m0 8h0m0 49h0m0 17h0m9-133h0m0 33h0m0 64h0m1-128h0m0 23h0m0 4h0m0 5h0m0 6h0m0 1h0m0 4h0m0 10h0m0 3h0m0 7h0m0 2h0m0 6h0m0 5h0m0 2h0m0 17h0m0 3h0m0 26h0m0 23h0m0 6h0m0 4h0m0 2h0m0 16h0m10-165h0m0 2h0m0 13h0m0 15h0m0 13h0m0 19h0m0 6h0m0 22h0m0 45h0m0 3h0m0 11h0m0 3h0m0 15h0m0 14h0m1-193h0m0 5h0m0 26h0m0 11h0m0 2h0m0 4h0m0 2h0m0 22h0m0 2h0m0 11h0m0 24h0m0 26h0m0 6h0m0 6h0m0 22h0m0 4h0m9-22h0m0 41h0m1-181h0m0 11h0m0 5h0m0 1h0m0 1h0m0 1h0m0 4h0m0 32h0m0 1h0m0 21h0m0 1h0m0 2h0m0 5h0m0 1h0m0 8h0m0 1h0m0 4h0m0 11h0m0 14h0m0 2h0m0 19h0m0 1h0m0 14h0m0 4h0m0 14h0m0 4h0m1-76h0m0 8h0m0 23h0m9-143h0m0 2h0m0 10h0m0 2h0m0 21h0m0 12h0m0 21h0m0 11h0m0 14h0m0 10h0m0 5h0m0 2h0m0 10h0m0 37h0m0 5h0m0 17h0m0 2h0m0 15h0m0 8h0m1-198h0m0 9h0m0 8h0m0 65h0m0 35h0m0 28h0m0 20h0m0 3h0m0 4h0m0 6h0m0 8h0m0 8h0m0 3h0m9-62h0m1-133h0m0 11h0m0 23h0m0 2h0m0 8h0m0 14h0m0 7h0m0 7h0m0 9h0m0 2h0m0 4h0m0 5h0m0 5h0m0 7h0m0 1h0m0 2h0m0 20h0m0 1h0m0 7h0m0 9h0m0 5h0m0 6h0m0 4h0m0 1h0m0 5h0m0 11h0m0 3h0m0 12h0m10-175h0m0 2h0m0 2h0m0 7h0m0 30h0m0 48h0m0 10h0m0 55h0m0 20h0m0 7h0m1-204h0m0 76h0m0 1h0m0 18h0m0 6h0m0 6h0m0 15h0m0 7h0m0 1h0m0 4h0m0 5h0m0 14h0m0 2h0m0 4h0m0 1h0m0 6h0m0 5h0m0 5h0m0 2h0m0 11h0m0 7h0m9 15h0m1-177h0m0 5h0m0 3h0m0 1h0m0 21h0m0 12h0m0 4h0m0 1h0m0 2h0m0 1h0m0 8h0m0 4h0m0 17h0m0 1h0m0 3h0m0 11h0m0 2h0m0 6h0m0 32h0m0 10h0m0 5h0m0 2h0m0 9h0m0 5h0m0 16h0m1-188h0m0 4h0m0 30h0m0 8h0m0 60h0m0 51h0m9-162h0m0 10h0m0 23h0m0 8h0m0 30h0m0 6h0m0 11h0m0 6h0m0 5h0m0 19h0m1-121h0m0 23h0m0 25h0m0 12h0m0 21h0m0 7h0m0 8h0m0 5h0m0 1h0m0 2h0m0 7h0m0 2h0m0 11h0m0 1h0m0 26h0m0 7h0m0 17h0m0 3h0m0 2h0m0 3h0m10-189h0m0 10h0m0 6h0m0 9h0m0 3h0m0 1h0m0 16h0m0 1h0m0 3h0m0 13h0m0 13h0m0 5h0m0 13h0m0 8h0m0 4h0m0 1h0m0 3h0m0 1h0m0 5h0m0 8h0m0 5h0m0 4h0m0 33h0m0 6h0m0 2h0m0 1h0m0 3h0m0 28h0m0 1h0m1-28h0m0 18h0m9-190h0m0 43h0m0 52h0m0 9h0m0 40h0m0 45h0m1-187h0m0 45h0m0 10h0m0 13h0m0 1h0m0 6h0m0 5h0m0 6h0m0 13h0m0 7h0m0 3h0m0 11h0m0 5h0m0 1h0m0 11h0m0 8h0m0 19h0m0 32h0m0 3h0m1-68h0m9-122h0m0 1h0m0 16h0m0 2h0m0 11h0m0 12h0m0 3h0m0 5h0m0 4h0m0 2h0m0 1h0m0 3h0m0 29h0m0 4h0m0 11h0m0 9h0m0 5h0m0 7h0m0 2h0m0 1h0m0 11h0m0 2h0m0 2h0m0 5h0m0 11h0m0 7h0m0 10h0m0 9h0m0 2h0m0 1h0m10-167h0m1-30h0m0 4h0m0 15h0m0 11h0m0 4h0m0 16h0m0 9h0m0 1h0m0 8h0m0 15h0m0 1h0m0 16h0m0 2h0m0 11h0m0 8h0m0 1h0m0 5h0m0 19h0m0 13h0m0 7h0m0 3h0m0 2h0m10-165h0m0 6h0m0 2h0m0 26h0m0 4h0m0 16h0m0 10h0m0 6h0m0 7h0m0 14h0m0 2h0m0 5h0m0 7h0m0 5h0m0 16h0m0 5h0m0 4h0m0 7h0m0 8h0m0 8h0m0 13h0m0 1h0m0 11h0m0 5h0m1-154h0m0 24h0m0 26h0m0 1h0m0 43h0m0 5h0m0 15h0m9-117h0m0 14h0m0 23h0m0 31h0m0 2h0m0 28h0m0 75h0m1-199h0m0 2h0m0 38h0m0 13h0m0 3h0m0 2h0m0 1h0m0 4h0m0 1h0m0 4h0m0 8h0m0 2h0m0 14h0m0 11h0m0 10h0m0 2h0m0 5h0m0 10h0m0 2h0m0 2h0m0 15h0m0 8h0m10-136h0m0 1h0m0 4h0m0 3h0m0 3h0m0 6h0m0 6h0m0 2h0m0 9h0m0 18h0m0 4h0m0 1h0m0 3h0m0 8h0m0 26h0m0 2h0m0 16h0m0 5h0m0 11h0m0 2h0m0 9h0m0 2h0m0 9h0m0 2h0m0 11h0m1-121h0m0 23h0m0 19h0m0 59h0m0 1h0m0 8h0m0 13h0m0 3h0m9-106h0m0 36h0m0 7h0m0 37h0m0 5h0m0 4h0m1-180h0m0 11h0m0 2h0m0 3h0m0 8h0m0 11h0m0 4h0m0 18h0m0 4h0m0 3h0m0 2h0m0 4h0m0 6h0m0 1h0m0 3h0m0 35h0m0 2h0m0 3h0m0 7h0m0 21h0m0 7h0m0 1h0m0 13h0m0 2h0m0 5h0m0 28h0m1-33h0m9-156h0m0 10h0m0 12h0m0 25h0m0 7h0m0 22h0m0 11h0m0 15h0m0 8h0m0 27h0m1-140h0m0 28h0m0 68h0m0 32h0m0 36h0m9-154h0m0 14h0m0 85h0m0 27h0m1-92h0m0 3h0m0 1h0m0 2h0m0 8h0m0 33h0m0 18h0m0 1h0m0 4h0m0 4h0m0 6h0m0 15h0m0 8h0m0 22h0m0 3h0m0 2h0m0 20h0m1-179h0m0 152h0m9-178h0m0 35h0m0 7h0m0 3h0m0 14h0m0 48h0m0 14h0m0 3h0m0 2h0m0 4h0m0 55h0m1-164h0m0 11h0m0 7h0m0 23h0m0 5h0m0 5h0m0 44h0m0 9h0m0 80h0m9-130h0m0 22h0m0 109h0m1-191h0m0 6h0m0 4h0m0 25h0m0 5h0m0 17h0m0 6h0m0 4h0m0 5h0m0 6h0m0 7h0m0 9h0m0 2h0m0 8h0m0 4h0m0 6h0m0 5h0m0 2h0m0 8h0m0 14h0m0 22h0m0 16h0m0 4h0m10-199h0m0 79h0m0 4h0m0 36h0m0 3h0m0 4h0m0 40h0m0 17h0m0 9h0m0 9h0m0 2h0m0 3h0m1-170h0m0 10h0m0 26h0m0 11h0m0 29h0m0 36h0m0 17h0m0 7h0m0 17h0m0 16h0m10-167h0m0 14h0m0 28h0m0 8h0m0 20h0m0 6h0m0 25h0m0 24h0m0 4h0m0 8h0m0 7h0m0 10h0m0 16h0m0 5h0m10-157h0m0 15h0m0 79h0m0 5h0m0 8h0m1-147h0m0 30h0m0 25h0m0 6h0m0 24h0m0 3h0m0 2h0m0 60h0m0 5h0m0 24h0m0 29h0m10-245h0m0 39h0m0 27h0m0 2h0m0 29h0m0 38h0m0 16h0m0 2h0m0 13h0m0 2h0m0 2h0m0 20h0m1 1h0m9-170h0m0 10h0m0 19h0m0 20h0m0 29h0m0 64h0m0 55h0m0 14h0m0 3h0m1-233h0m0 39h0m0 29h0m0 5h0m0 4h0m0 24h0m0 32h0m0 15h0m0 22h0m0 36h0m0 24h0m10-201h0m0 4h0m0 18h0m0 15h0m0 2h0m0 6h0m0 22h0m0 2h0m0 4h0m0 3h0m0 13h0m0 12h0m0 27h0m0 1h0m0 2h0m0 36h0m0 8h0m0 17h0m0 34h0m1-206h0m0 55h0m9-56h0m0 45h0m0 16h0m0 29h0m1-140h0m0 33h0m0 10h0m0 34h0m0 26h0m0 28h0m0 4h0m0 22h0m0 34h0m0 9h0m0 4h0m0 8h0m0 35h0m10-233h0m0 22h0m0 8h0m0 12h0m0 5h0m0 37h0m0 17h0m0 1h0m0 36h0m0 8h0m0 4h0m0 7h0m0 6h0m0 16h0m0 6h0m0 22h0m0 35h0m1-221h0m0 14h0m0 124h0m0 74h0m9-214h0m1-17h0m0 3h0m0 3h0m0 12h0m0 12h0m0 10h0m0 17h0m0 27h0m0 14h0m0 61h0m0 5h0m0 5h0m0 16h0m0 7h0m0 1h0m0 2h0m0 8h0m0 43h0m10-268h0m0 21h0m0 8h0m0 40h0m0 9h0m0 2h0m0 3h0m0 11h0m0 11h0m0 9h0m0 3h0m0 1h0m0 6h0m0 8h0m0 4h0m0 4h0m0 48h0m1-169h0m0 95h0m0 58h0m0 4h0m0 107h0m9-37h0m1-252h0m0 7h0m0 9h0m0 2h0m0 9h0m0 54h0m0 4h0m0 14h0m0 47h0m0 13h0m0 20h0m0 2h0m0 24h0m0 55h0m0 8h0m0 8h0m1-125h0m9-155h0m0 65h0m0 7h0m0 63h0m0 9h0m0 37h0m0 1h0m0 70h0m0 17h0m1-226h0m0 20h0m0 60h0m0 30h0m0 54h0m0 65h0m10-187h0m0 2h0m0 1h0m0 22h0m0 22h0m0 6h0m0 1h0m0 1h0m0 32h0m0 3h0m0 8h0m0 12h0m0 7h0m0 14h0m0 16h0m0 25h0m0 4h0m10-245h0m0 13h0m0 10h0m0 11h0m0 16h0m0 56h0m0 30h0m0 23h0m1-199h0m0 25h0m0 85h0m0 13h0m0 25h0m0 14h0m0 45h0m0 46h0m0 22h0" stroke="#000" stroke-width="3.0" stroke-linecap="square" stroke-opacity="0.6" fill="none"/>
<path transform="scale(0.5)" d="M97 247h0m2 177h0m1-30h0m1 38h0m7-57h0m1-91h0m0 127h0m1-5h0m2-125h0m0 61h0m6 33h0m4-94h0m8 47h0m0 26h0m1-82h0m0 14h0m1 7h0m0 30h0m1 97h0m6-104h0m2 19h0m0 52h0m1-134h0m0 113h0m1-118h0m0 123h0m0 52h0m2-73h0m7 30h0m1-121h0m1-7h0m0 28h0m8-19h0m0 160h0m0 14h0m1-161h0m0 10h0m1-8h0m0 126h0m1-3h0m1-22h0m1-47h0m4-10h0m1-12h0m1-64h0m0 17h0m0 115h0m1-79h0m9-26h0m0 29h0m0 35h0m1-79h0m0 3h0m0 110h0m0 51h0m1-84h0m0 32h0m6-101h0m0 46h0m0 29h0m1-65h0m0 52h0m1-78h0m0 166h0m1-169h0m1 2h0m0 22h0m0 14h0m0 97h0m9-104h0m0 142h0m1-170h0m0 122h0m1-139h0m0 32h0m0 66h0m1-12h0m5-64h0m1 149h0m1-134h0m0 143h0m1-143h0m0 15h0m0 7h0m0 3h0m0 33h0m1 41h0m1-112h0m1 85h0m0 10h0m7-73h0m1-1h0m2 130h0m7-42h0m0 37h0m2-144h0m0 38h0m1-39h0m2 118h0m6 19h0m1-120h0m1-10h0m1-18h0m0 115h0m1 30h0m5-111h0m1 61h0m1-62h0m0 128h0m1-146h0m0 132h0m1-133h0m0 64h0m1-28h0m0 55h0m6-108h0m0 46h0m1 16h0m0 39h0m1-85h0m0 26h0m1-50h0m0 1h0m0 15h0m0 51h0m0 57h0m3-6h0m6 32h0m1-99h0m0 116h0m0 5h0m1-170h0m0 4h0m0 71h0m2 46h0m6-102h0m0 3h0m1 22h0m1-4h0m0 51h0m1 4h0m0 45h0m1-15h0m0 22h0m7-115h0m0 32h0m0 74h0m1-128h0m0 171h0m1-127h0m5 16h0m4 23h0m1 59h0m1-1h0m0 39h0m7-147h0m1-17h0m0 69h0m1-124h0m0 75h0m0 136h0m1-162h0m0 42h0m1-66h0m1 39h0m0 71h0m4 1h0m0 12h0m0 30h0m1-25h0m1-114h0m0 31h0m0 100h0m0 23h0m1-176h0m0 3h0m0 12h0m0 89h0m1-114h0m0 54h0m0 68h0m1-54h0m3 84h0m4-27h0m2-113h0m0 44h0m0 25h0m1-5h0m0 56h0m0 57h0m0 7h0m1-17h0m1-39h0m5-44h0m1-125h0m0 101h0m0 96h0m0 10h0m2-41h0m0 58h0m1-24h0m1-107h0m4 48h0m1 60h0m2-147h0m1 45h0m0 10h0m0 101h0m1-32h0m1-20h0m3-25h0m4 73h0m1-152h0m0 3h0m0 48h0m0 48h0m1-108h0m0 9h0m0 41h0m0 85h0m1-19h0m0 46h0m1-97h0m5 35h0m2-83h0m0 14h0m0 147h0m1-171h0m0 6h0m0 143h0m1-133h0m0 60h0m1-15h0m2 62h0m5-99h0m1-90h0m1 59h0m0 46h0m0 95h0m1-150h0m2 25h0m5 45h0m1-75h0m0 32h0m1-37h0m0 1h0m0 30h0m0 59h0m2 2h0m0 61h0m0 3h0m8-50h0m1-157h0m0 109h0m0 32h0m0 33h0m1 12h0m1-61h0m0 118h0m4-12h0m3-143h0m1-110h0m0 63h0m0 16h0m0 189h0m1-180h0m0 3h0m0 82h0m1-91h0m0 40h0m8-125h0m0 96h0m0 3h0m0 127h0m1-190h0m0 44h0m0 20h0m1-74h0m0 198h0m5-18h0m2 57h0m1-112h0m0 42h0m1-92h0m0 29h0m1-78h0m0 23h0m0 40h0m0 127h0m1-143h0m0 33h0m0 38h0m0 94h0m4-102h0m1 128h0m3-44h0m1-232h0m0 69h0m0 42h0m1-117h0m0 214h0m7-42h0m1 30h0m0 51h0m1-253h0m0 29h0m0 44h0m0 29h0m0 160h0m1-73h0m8-134h0m0 57h0m0 137h0m1-287h0m0 299h0m1-252h0m1-14h0m8-26h0m0 87h0m1 22h0m1 36h0m0 147h0m1-284h0m0 115h0m0 174h0m1-10h0m1-181h0m1 3h0m5 122h0m0 15h0m1-251h0m0 212h0m0 67h0m1-297h0m0 53h0m0 217h0m9-180h0m0 165h0m2-136h0m1-78h0m0 237h0m4-38h0m3-223h0m0 264h0m1-288h0m0 103h0m1-86h0m0 9h0m1 14h0m5-38h0m1 6h0m2-23h0m0 208h0m0 57h0m1-280h0m0 24h0m1 76h0m0 197h0m6-100h0m1 43h0m1-178h0m2-44h0m4 153h0m3-144h0m0 102h0m2-132h0m1 216h0m6-139h0m3 120h0m1-207h0m0 16h0m0 18h0m1 80h0m5 92h0m2 2h0m2-187h0m0 2h0m1 183h0m3-59h0m3 31h0m1-51h0m0 63h0m1 49h0m0 23h0m1-220h0m0 200h0m0 16h0m1-182h0m1-42h0m7 216h0m1-193h0m1 39h0m0 83h0m0 102h0m2-131h0m1-23h0m6-38h0m1 33h0m1-44h0m0 225h0m0 4h0m2-102h0m0 63h0m6-12h0m1-139h0m0 41h0m1-61h0m0 223h0m1-243h0m0 171h0m1 96h0m2-222h0m5 68h0m1-46h0m1 20h0m0 50h0m0 145h0m1-262h0m0 26h0m0 59h0m0 173h0m1-14h0m1-113h0m3 35h0m2-12h0m2-150h0m1 78h0m2-31h0m0 135h0m0 27h0m2-101h0m0 45h0m3-21h0m1-74h0m1-24h0m0 17h0m1-50h0m0 33h0m0 102h0m0 10h0m1-119h0m0 32h0m0 161h0m0 47h0m1-77h0m1-98h0m2 162h0m3 17h0m1-27h0m0 65h0m1-155h0m0 54h0m0 75h0m0 5h0m1-37h0m0 20h0m1-188h0m1 4h0m7-63h0m1 15h0m1-29h0m0 35h0m1 119h0m0 39h0m1 112h0m1-118h0m4 6h0m1 129h0m1-11h0m1-268h0m0 47h0m0 177h0m1-223h0m0 29h0m0 235h0m1-292h0m0 296h0m4-121h0m0 136h0m3-270h0m2-33h0m0 11h0m0 33h0m0 252h0m1-231h0m1 53h0m1 127h0m4-108h0m1 93h0m1-186h0m0 220h0m1-260h0m0 20h0m0 277h0m0 1h0m0 19h0m1-321h0m0 54h0m0 174h0m0 71h0m4-98h0m1-89h0m4 174h0m1-286h0m0 16h0m0 17h0m1 39h0m0 236h0m1-234h0m6 260h0m1-282h0m0 3h0m0 124h0m0 119h0m1 17h0m2-300h0m0 43h0m0 152h0m4 16h0m2 46h0m3-203h0m0 244h0m1-233h0m0 45h0m0 108h0m9-157h0m0 239h0m0 3h0m1-73h0m0 48h0m0 8h0m1 18h0m0 3h0m6-282h0m0 208h0m1-216h0m0 287h0m0 12h0m1-294h0m0 104h0m1-61h0m0 37h0m0 181h0m0 31h0m0 6h0m1-31h0m3-152h0m5-119h0m0 309h0m1-277h0m0 73h0m0 157h0m0 31h0m1-24h0m2-168h0m3-13h0m3 183h0m1 42h0m1-302h0m0 5h0m1 82h0m6 141h0m1-162h0m0 77h0m1-23h0m1-122h0m0 283h0m0 8h0m1-265h0m0 4h0m0 75h0m0 163h0m7-250h0m0 169h0m1 90h0m1-259h0m0 27h0m1-80h0m0 333h0m0 16h0m8-292h0m0 59h0m0 198h0m2-291h0m0 26h0m1 258h0m0 11h0m1 12h0m7-15h0m1-261h0m1-4h0m0 303h0m1-25h0m1-171h0m0 2h0m3 29h0m1-72h0m3 6h0m1-44h0m0 228h0m1-159h0m0 31h0m2 133h0m5-9h0m1-257h0m0 93h0m0 167h0m1-211h0m0 228h0m0 13h0m0 2h0m1-230h0m1 157h0m2 1h0m5-158h0m0 49h0m2-97h0m0 62h0m0 177h0m1-62h0m1-201h0m1 344h0m6-307h0m0 22h0m0 256h0m1-137h0m0 119h0m1-263h0m0 53h0m0 25h0m0 143h0m0 26h0m0 7h0m0 14h0m1-192h0m3-30h0m3 112h0m2-110h0m0 243h0m0 10h0m1-1h0m1-27h0m1-259h0m2 152h0m1-17h0m5 106h0m1-249h0m0 201h0m0 77h0m1-276h0m0 239h0m0 76h0m1-328h0m0 186h0m2-137h0m4 71h0m1-172h0m0 388h0m1-49h0m0 27h0m3-330h0m0 173h0m0 25h0m4 54h0m1-75h0m0 116h0m2-295h0m0 275h0m0 27h0m1-320h0m0 102h0m0 240h0m1-344h0m1 181h0m0 37h0m3 26h0m2-120h0m1 90h0m0 69h0m0 61h0m1-328h0m0 328h0m1-348h0m0 30h0m0 286h0m0 24h0m1-22h0m0 4h0m0 15h0m1-66h0m1 81h0m4-313h0m2-25h0m1 308h0m0 23h0m1-341h0m0 313h0m1-300h0m0 354h0m1-40h0m4-165h0m3 86h0m0 97h0m1-302h0m0 183h0m0 129h0m1-303h0m1 56h0m0 183h0m0 76h0m6-21h0m1-296h0m1 38h0m0 146h0m0 61h0m0 39h0m0 12h0m0 25h0m1-360h0m0 29h0m0 294h0m0 40h0m1-367h0m0 328h0m0 20h0m6-240h0m2 99h0m2 105h0m0 16h0m1-327h0m0 369h0m1-35h0m2-235h0m1 61h0m4 73h0m0 55h0m0 45h0m1-342h0m0 365h0m0 4h0m0 13h0m1-374h0m0 78h0m0 232h0m0 64h0m1-241h0m2 102h0m7-215h0m0 60h0m0 246h0m0 8h0m0 52h0m1-413h0m0 42h0m0 82h0m1 46h0m2 45h0m4 164h0m3-2h0m0 28h0m1-258h0m0 160h0m2-105h0m1 5h0m5-206h0m0 50h0m0 11h0m0 151h0m0 155h0m0 33h0m1-395h0m0 371h0m0 3h0m1-290h0m0 262h0m1 65h0m1-239h0m4 21h0m3-185h0m0 243h0m0 94h0m0 30h0m1-14h0m1 9h0m0 1h0m7-357h0m0 27h0m1 261h0m0 46h0m1-6h0m0 8h0m0 46h0m0 9h0m1-398h0m0 349h0m0 4h0m2-205h0m5 215h0m1-179h0m0 217h0m0 23h0m0 21h0m1-103h0m0 46h0m1-415h0m0 72h0m0 138h0m0 116h0m0 69h0m1-6h0" stroke="#000" stroke-width="3.0" stroke-linecap="square" stroke-opacity="0.42" fill="none"/>
<path transform="scale(0.5)" d="M97 414h0m1-146h0m0 6h0m2 40h0m1 114h0m1-99h0m0 22h0m0 56h0m1-120h0m0 99h0m1-74h0m6-25h0m0 64h0m0 32h0m1-135h0m0 84h0m0 79h0m1-142h0m0 68h0m8-70h0m0 11h0m0 15h0m0 120h0m1-51h0m0 47h0m0 18h0m5-11h0m5-151h0m0 19h0m0 3h0m0 13h0m0 10h0m1 19h0m0 93h0m1-85h0m7 75h0m2-148h0m0 106h0m2-105h0m0 32h0m0 37h0m2 5h0m3-50h0m0 27h0m1-52h0m0 155h0m1-116h0m0 22h0m0 115h0m1-145h0m0 63h0m1-31h0m0 12h0m2-81h0m1 140h0m1-22h0m0 4h0m6-91h0m2-29h0m0 75h0m1 55h0m5-53h0m1-57h0m0 12h0m1-36h0m0 104h0m0 44h0m1-158h0m0 163h0m0 23h0m2-184h0m0 66h0m3 9h0m2-43h0m0 57h0m3-79h0m1 27h0m0 140h0m1-18h0m1-139h0m0 38h0m0 1h0m4 42h0m4-74h0m1 22h0m0 107h0m3 1h0m4-28h0m1-20h0m1 41h0m1-121h0m0 155h0m1-162h0m0 157h0m1-48h0m6-39h0m1 60h0m1-119h0m0 67h0m0 46h0m2-80h0m6-14h0m2-9h0m0 78h0m1-84h0m2 107h0m2-84h0m5-55h0m0 147h0m1-147h0m0 37h0m0 59h0m0 62h0m1-100h0m1-33h0m7 2h0m0 4h0m0 20h0m0 11h0m0 90h0m0 15h0m1-157h0m0 17h0m0 29h0m1-63h0m0 148h0m1-137h0m0 66h0m4 19h0m3-54h0m0 20h0m0 114h0m1-145h0m0 65h0m3 16h0m0 53h0m7 5h0m1-72h0m1-1h0m5 48h0m3 38h0m1-145h0m0 25h0m1-69h0m1 17h0m0 5h0m2 126h0m4-17h0m1-111h0m0 32h0m1 54h0m1-88h0m1-26h0m0 54h0m2 48h0m1-33h0m5-58h0m0 65h0m1-72h0m0 172h0m1-117h0m0 80h0m1-43h0m1-93h0m2 117h0m2 5h0m2 32h0m1-141h0m0 38h0m0 115h0m2-137h0m0 32h0m0 48h0m7 45h0m2 30h0m1-17h0m1-143h0m2 107h0m1-9h0m2-31h0m2-45h0m2 3h0m0 143h0m1-149h0m9-23h0m0 27h0m0 77h0m1-53h0m5-9h0m0 10h0m3 7h0m1-45h0m2-12h0m0 7h0m1-13h0m0 11h0m4 112h0m3-69h0m1-75h0m0 16h0m1-24h0m0 9h0m0 41h0m0 110h0m1-159h0m0 36h0m0 6h0m0 31h0m7-58h0m1 47h0m1-49h0m0 26h0m0 128h0m0 17h0m1-140h0m0 100h0m3-20h0m2-35h0m2 12h0m2-40h0m1-111h0m0 60h0m1-65h0m0 53h0m0 169h0m4-25h0m4-104h0m0 125h0m1 3h0m0 14h0m1-187h0m0 14h0m0 174h0m1-140h0m7 88h0m1-83h0m1-23h0m0 34h0m0 30h0m0 58h0m1-140h0m0 71h0m8 106h0m1-167h0m0 19h0m0 17h0m1-57h0m0 32h0m0 124h0m1 22h0m1-167h0m2 117h0m5 22h0m1-115h0m0 51h0m0 10h0m1-50h0m0 145h0m1-165h0m0 156h0m2-25h0m0 4h0m2-18h0m3-144h0m0 44h0m0 4h0m1-27h0m0 100h0m1-193h0m0 266h0m1-110h0m0 64h0m0 50h0m4-48h0m3-124h0m1 67h0m0 117h0m1-213h0m1 154h0m1-125h0m8-73h0m0 45h0m1-24h0m0 30h0m0 177h0m1-191h0m0 91h0m0 69h0m0 51h0m2-103h0m0 19h0m6-85h0m0 170h0m1-219h0m0 142h0m1-212h0m0 15h0m0 91h0m0 35h0m0 133h0m1-212h0m0 24h0m0 150h0m1-142h0m0 96h0m0 31h0m5-207h0m1 123h0m0 74h0m1-77h0m0 76h0m0 10h0m1-123h0m0 124h0m0 48h0m1-275h0m0 82h0m2 31h0m4 73h0m0 22h0m3-223h0m1 57h0m0 24h0m1 58h0m5-13h0m1 68h0m1-180h0m0 11h0m0 200h0m0 45h0m2-218h0m0 24h0m0 100h0m1-58h0m0 160h0m8-289h0m0 216h0m1-196h0m0 52h0m0 26h0m1-84h0m0 121h0m8-124h0m0 85h0m2 160h0m2-142h0m7-136h0m1-8h0m0 270h0m1-71h0m0 55h0m1 13h0m8-173h0m1-107h0m0 24h0m0 57h0m0 153h0m9-239h0m1 225h0m1-214h0m0 161h0m1-45h0m2 51h0m2-128h0m1-30h0m2 121h0m1-45h0m0 106h0m1 8h0m8 0h0m2-13h0m1-181h0m1-3h0m6 169h0m3-165h0m6 59h0m1 155h0m1-123h0m3-77h0m0 15h0m0 17h0m6 52h0m2 62h0m1-116h0m0 94h0m0 136h0m0 2h0m1-42h0m1-143h0m2 163h0m7-38h0m0 77h0m0 5h0m1-227h0m0 2h0m0 217h0m4-64h0m2-53h0m3-55h0m1-15h0m0 24h0m0 46h0m1-55h0m0 29h0m0 46h0m1-71h0m2 45h0m4 2h0m1-20h0m2-84h0m1 19h0m0 15h0m0 83h0m0 24h0m0 6h0m0 1h0m0 117h0m0 3h0m4-151h0m2 25h0m2-123h0m0 40h0m1 225h0m1-275h0m0 28h0m0 26h0m0 32h0m0 15h0m0 167h0m1-204h0m0 82h0m0 50h0m1-125h0m0 188h0m1-120h0m7-80h0m0 14h0m0 148h0m0 65h0m0 29h0m1-305h0m0 87h0m0 95h0m2-1h0m1 34h0m3 50h0m1-157h0m0 119h0m2-182h0m0 8h0m0 31h0m0 208h0m0 8h0m1-257h0m0 16h0m0 98h0m0 4h0m1-169h0m0 63h0m0 111h0m0 127h0m1-57h0m0 58h0m6-267h0m0 199h0m0 20h0m0 48h0m1-237h0m0 37h0m0 196h0m1-279h0m0 44h0m0 208h0m0 32h0m0 8h0m1-225h0m0 197h0m1-52h0m1 51h0m4-109h0m2-133h0m0 59h0m1-103h0m0 142h0m0 93h0m1-139h0m0 4h0m0 196h0m0 31h0m1-289h0m0 183h0m2-23h0m5 64h0m1-207h0m0 53h0m0 10h0m0 203h0m1 12h0m0 17h0m2-257h0m0 121h0m0 101h0m3-47h0m4 55h0m0 14h0m1-272h0m0 44h0m1-69h0m0 75h0m0 171h0m0 52h0m0 22h0m1-216h0m0 8h0m1 28h0m5 146h0m1-61h0m0 4h0m1-162h0m0 222h0m1-285h0m0 27h0m0 10h0m0 192h0m1-208h0m0 12h0m0 169h0m0 65h0m0 28h0m2-242h0m0 136h0m5 66h0m0 24h0m1-236h0m0 32h0m1-26h0m0 24h0m0 48h0m0 186h0m0 9h0m0 27h0m1-268h0m0 21h0m0 198h0m0 32h0m1 1h0m0 10h0m2-208h0m3 117h0m2-176h0m2-41h0m0 20h0m0 254h0m1-276h0m0 33h0m0 244h0m1-223h0m0 11h0m0 175h0m1-144h0m1 88h0m2 81h0m1-152h0m1 25h0m1-111h0m0 25h0m1-60h0m0 3h0m1-34h0m0 35h0m0 298h0m1-289h0m0 293h0m1 0h0m4-93h0m3-213h0m0 3h0m0 231h0m1-199h0m0 2h0m0 8h0m0 5h0m0 22h0m2 38h0m0 49h0m0 131h0m0 6h0m0 5h0m2-32h0m4-90h0m1 66h0m1-212h0m0 27h0m1-39h0m0 42h0m0 220h0m0 6h0m0 2h0m0 7h0m0 4h0m0 12h0m4-60h0m3-2h0m2-226h0m0 258h0m0 4h0m0 14h0m1-291h0m0 55h0m0 231h0m0 7h0m2-10h0m1-28h0m1-22h0m4-74h0m1-118h0m1-53h0m0 140h0m1-108h0m0 13h0m4 80h0m5-54h0m1 175h0m0 40h0m1-249h0m0 230h0m1-187h0m0 206h0m4-17h0m2-234h0m1 101h0m1 87h0m0 9h0m0 80h0m0 14h0m1-274h0m0 253h0m1-30h0m0 44h0m1-301h0m0 78h0m7 207h0m1-287h0m1 9h0m0 35h0m0 220h0m0 29h0m1-23h0m7 37h0m1-256h0m0 46h0m0 194h0m0 27h0m1-272h0m1 149h0m1-139h0m0 39h0m7-50h0m0 104h0m0 135h0m0 2h0m0 7h0m1-3h0m0 7h0m1-7h0m0 14h0m0 17h0m2-267h0m5-22h0m1 313h0m1-312h0m0 262h0m1-162h0m0 170h0m5-238h0m4 215h0m0 17h0m1-225h0m0 152h0m0 26h0m0 90h0m1-292h0m0 183h0m0 71h0m0 21h0m0 11h0m1-311h0m7 164h0m1 128h0m0 27h0m1-304h0m0 251h0m0 26h0m0 22h0m2-40h0m1-162h0m0 79h0m5 11h0m2-219h0m0 203h0m1-143h0m0 250h0m0 23h0m1-304h0m0 107h0m0 105h0m0 62h0m0 18h0m0 33h0m1-26h0m1-42h0m3-147h0m2 132h0m0 45h0m0 40h0m2-204h0m0 150h0m0 24h0m1-115h0m0 99h0m0 22h0m6-280h0m2 44h0m1-61h0m0 278h0m1-318h0m0 333h0m1-247h0m0 235h0m1-165h0m0 184h0m4-39h0m1-57h0m1-116h0m1 219h0m1-30h0m0 59h0m1-242h0m0 128h0m1-118h0m0 160h0m6-207h0m2-45h0m0 265h0m0 9h0m0 27h0m1-326h0m0 174h0m0 112h0m0 2h0m2 84h0m5-174h0m3 66h0m0 35h0m3 4h0m5-48h0m1 75h0m1-332h0m0 17h0m0 134h0m0 97h0m1-238h0m0 29h0m1 266h0m0 18h0m2-23h0m6-248h0m1-37h0m0 275h0m1 3h0m0 49h0m1-137h0m0 142h0m7-396h0m0 331h0m0 10h0m0 43h0m1-49h0m0 85h0m2-386h0m0 81h0m0 205h0m2-263h0m3 215h0m2-29h0m1 129h0m0 22h0m0 22h0m1-397h0m0 325h0m0 11h0m0 10h0m0 7h0m1-346h0m0 307h0m0 11h0m0 5h0m1-330h0m7 46h0m1 308h0m0 19h0m1-366h0m0 247h0m0 105h0m1-23h0m0 71h0m1-200h0m4-152h0m0 191h0m2-113h0m1-148h0m0 415h0m1-431h0m0 365h0m0 63h0m0 8h0m1-368h0m0 154h0m6 184h0m2-27h0m2-329h0m0 281h0m1-152h0m0 189h0m1 7h0m1 27h0m5 20h0m2-401h0m0 378h0m0 22h0m0 70h0m1-396h0m0 340h0m1-338h0m0 39h0" stroke="#000" stroke-width="3.0" stroke-linecap="square" stroke-opacity="0.42" fill="none"/>
<path transform="scale(0.5)" d="M98 268h0m1 123h0m1-99h0m1-30h0m1 54h0m7-53h0m0 7h0m1 133h0m0 23h0m0 6h0m1-182h0m1 143h0m4-43h0m2-6h0m1-99h0m1 18h0m0 38h0m0 122h0m1-139h0m0 3h0m0 29h0m0 97h0m1-143h0m0 82h0m2 60h0m4-18h0m1-55h0m2-87h0m0 7h0m0 89h0m1 56h0m0 16h0m8-148h0m0 1h0m0 13h0m1-13h0m0 8h0m0 98h0m1 64h0m8-151h0m3-20h0m0 145h0m2-165h0m1 70h0m3 3h0m2-38h0m1-17h0m0 86h0m1-83h0m0 65h0m1-101h0m0 129h0m1-50h0m7-24h0m0 28h0m0 85h0m2-127h0m0 36h0m2-40h0m5 28h0m1 10h0m1-75h0m1 54h0m1 21h0m0 107h0m8-62h0m1-34h0m1 82h0m1-108h0m2 36h0m0 39h0m4 21h0m2-136h0m0 45h0m0 101h0m2-129h0m1 109h0m1-72h0m0 64h0m0 30h0m8-156h0m0 6h0m0 6h0m0 161h0m3-123h0m0 25h0m5-56h0m1-20h0m0 41h0m0 32h0m1-88h0m0 62h0m0 54h0m0 2h0m1-105h0m0 1h0m0 101h0m1-35h0m0 99h0m0 25h0m1-124h0m1-10h0m2 91h0m0 1h0m2-63h0m1-65h0m1 14h0m0 31h0m0 114h0m1-179h0m0 133h0m1-9h0m2 24h0m3-4h0m3-52h0m1-71h0m0 146h0m2-87h0m5 72h0m4-155h0m0 25h0m1-1h0m0 114h0m1-1h0m4-9h0m1-3h0m1-39h0m0 41h0m2-142h0m0 131h0m1 53h0m0 4h0m1-180h0m1 162h0m6-21h0m1-68h0m0 47h0m1-81h0m0 27h0m0 18h0m1-72h0m0 10h0m1 96h0m4-32h0m1 76h0m1-5h0m2-124h0m0 141h0m1-8h0m1-55h0m1 33h0m6-117h0m0 113h0m0 8h0m2-105h0m0 49h0m1-81h0m0 128h0m0 3h0m0 38h0m4-57h0m3-47h0m0 18h0m1-78h0m0 29h0m1-2h0m0 89h0m0 44h0m1-173h0m1 44h0m0 51h0m1-114h0m0 81h0m7-58h0m0 26h0m0 23h0m0 41h0m0 15h0m1-101h0m0 15h0m1 76h0m0 25h0m1-3h0m1 28h0m5-77h0m0 73h0m1-114h0m1-6h0m0 13h0m1 126h0m8-133h0m0 48h0m0 42h0m1-103h0m0 14h0m0 50h0m0 36h0m1-142h0m0 43h0m0 53h0m1-45h0m0 1h0m1 94h0m3 21h0m4-132h0m0 7h0m1 60h0m0 40h0m0 10h0m2-151h0m0 39h0m0 146h0m1-84h0m5-18h0m2 46h0m1-95h0m0 13h0m0 122h0m0 15h0m1-195h0m0 203h0m7-115h0m0 11h0m2-39h0m0 64h0m1-93h0m0 6h0m0 1h0m0 50h0m4 83h0m4-101h0m2-32h0m0 29h0m0 2h0m0 103h0m1-126h0m1-2h0m1 44h0m0 23h0m0 72h0m6-76h0m0 21h0m0 56h0m1-134h0m0 86h0m0 44h0m0 6h0m1-223h0m0 68h0m0 148h0m1-93h0m1 12h0m6 89h0m1-104h0m0 37h0m1-12h0m0 73h0m1-135h0m0 156h0m1-233h0m2 130h0m4-5h0m0 80h0m1-95h0m0 50h0m1-58h0m0 3h0m1-15h0m1-25h0m0 144h0m7-34h0m0 15h0m2-115h0m1-4h0m0 65h0m4 12h0m4-33h0m0 118h0m1-87h0m1-97h0m0 168h0m0 16h0m1-173h0m0 36h0m3 16h0m0 66h0m1 40h0m3-238h0m1 266h0m1-295h0m0 91h0m0 19h0m1 0h0m0 8h0m0 67h0m1-73h0m0 78h0m0 75h0m0 42h0m3-33h0m4-173h0m1-13h0m0 107h0m0 110h0m1-195h0m0 108h0m0 72h0m1-164h0m0 24h0m0 109h0m1-240h0m0 216h0m8-17h0m0 11h0m1-228h0m0 55h0m1 5h0m3 195h0m3-67h0m1-177h0m0 131h0m1-21h0m0 77h0m0 20h0m1-165h0m0 224h0m1-283h0m1 178h0m7-131h0m1-48h0m0 66h0m0 92h0m0 48h0m1-174h0m0 251h0m1-184h0m2-58h0m1 145h0m5-201h0m1 5h0m0 24h0m0 46h0m0 148h0m1-228h0m0 3h0m0 22h0m7 78h0m1-81h0m0 247h0m1-250h0m0 149h0m0 94h0m1-261h0m0 257h0m1-276h0m9 12h0m0 56h0m0 169h0m0 24h0m1-245h0m0 161h0m1 75h0m1-152h0m4-92h0m1 1h0m4 2h0m1 64h0m5 63h0m1-114h0m1 183h0m1-3h0m1-79h0m1-149h0m7 108h0m1 96h0m1-28h0m1 14h0m10-195h0m0 26h0m9 81h0m1 13h0m2-36h0m1 14h0m6 148h0m1-230h0m1 243h0m6-33h0m1-191h0m1 218h0m0 19h0m2-245h0m1 239h0m4-166h0m1 88h0m1 75h0m3-213h0m0 12h0m0 21h0m0 93h0m1-81h0m1 194h0m6-152h0m1-41h0m1-33h0m0 51h0m0 126h0m1-156h0m0 32h0m1 146h0m1-49h0m0 48h0m2-128h0m0 162h0m0 2h0m3-149h0m0 10h0m1 103h0m0 40h0m1-168h0m0 163h0m0 25h0m1 17h0m0 5h0m2-168h0m1 75h0m0 53h0m5-159h0m0 35h0m0 85h0m1 75h0m1-233h0m0 26h0m0 204h0m0 30h0m1-262h0m0 36h0m0 9h0m0 74h0m0 114h0m1-213h0m0 15h0m0 58h0m0 164h0m2-109h0m2-86h0m3 91h0m2 98h0m1-229h0m0 52h0m0 136h0m0 17h0m0 38h0m2-243h0m0 225h0m6-185h0m0 202h0m1-265h0m0 69h0m0 154h0m1-193h0m0 2h0m0 31h0m0 78h0m1-137h0m0 187h0m0 25h0m0 39h0m2-105h0m1-94h0m5 1h0m0 3h0m0 112h0m1 93h0m0 5h0m0 1h0m1-247h0m0 30h0m2 195h0m1-120h0m5 28h0m1-170h0m0 301h0m1-239h0m0 107h0m1-152h0m0 44h0m0 237h0m2-313h0m6 121h0m0 188h0m0 56h0m1-317h0m0 49h0m1 223h0m1-82h0m0 92h0m0 18h0m1-9h0m1-137h0m5 20h0m0 52h0m2-238h0m0 41h0m0 32h0m0 14h0m0 127h0m0 90h0m1-306h0m0 22h0m2 287h0m5 17h0m0 3h0m2-262h0m0 29h0m0 88h0m0 120h0m1-285h0m0 47h0m0 30h0m0 221h0m0 7h0m1-50h0m1-238h0m0 207h0m6-209h0m1 35h0m0 19h0m0 68h0m0 156h0m0 10h0m1-249h0m0 240h0m1 9h0m0 21h0m2-121h0m5-139h0m0 134h0m1-117h0m0 209h0m1 47h0m1-303h0m0 152h0m1-126h0m2 101h0m1 116h0m4-230h0m1 12h0m1 232h0m0 25h0m1-234h0m0 107h0m0 11h0m0 108h0m1-295h0m0 55h0m3 33h0m1 7h0m0 158h0m3-188h0m0 180h0m0 33h0m0 22h0m2-243h0m1 41h0m6-16h0m1-40h0m0 56h0m0 45h0m0 169h0m1-23h0m1-241h0m0 64h0m0 188h0m1-301h0m0 1h0m0 11h0m1 219h0m0 81h0m4-138h0m2-14h0m0 170h0m2-338h0m0 3h0m0 79h0m0 121h0m1-187h0m0 49h0m0 1h0m0 110h0m0 36h0m0 96h0m1-279h0m0 277h0m1-295h0m1 175h0m4-191h0m0 306h0m1-10h0m1 29h0m1-258h0m0 2h0m0 32h0m0 48h0m1-115h0m0 20h0m1 222h0m1-249h0m0 222h0m3-156h0m2-55h0m0 227h0m0 68h0m1-67h0m1 35h0m0 14h0m1-238h0m0 231h0m0 18h0m0 6h0m1-198h0m0 26h0m0 201h0m1-193h0m0 85h0m0 98h0m6-176h0m0 145h0m1-239h0m0 203h0m0 51h0m1-138h0m0 90h0m0 33h0m1-271h0m0 283h0m1-289h0m0 34h0m0 81h0m0 161h0m4-220h0m3 205h0m0 7h0m1 16h0m1-247h0m0 64h0m0 92h0m0 94h0m0 2h0m1-307h0m0 147h0m0 88h0m1-147h0m6 241h0m1-102h0m0 113h0m1-54h0m0 15h0m1-299h0m0 64h0m0 151h0m0 43h0m0 24h0m1-166h0m1 152h0m1-66h0m1-33h0m0 102h0m2-10h0m3 8h0m0 18h0m0 60h0m1-212h0m0 144h0m1-237h0m0 84h0m1 156h0m0 34h0m5-216h0m2-5h0m1-78h0m0 193h0m0 74h0m0 19h0m0 32h0m1-315h0m0 117h0m0 203h0m1-247h0m1 38h0m4 98h0m3 88h0m1-311h0m0 4h0m0 220h0m0 69h0m0 4h0m1-9h0m1 6h0m3-164h0m3-27h0m0 122h0m2-110h0m0 165h0m0 11h0m0 4h0m1-273h0m0 318h0m1-51h0m1-265h0m2 130h0m2 101h0m2 56h0m1 10h0m1-298h0m0 273h0m0 36h0m1-254h0m0 132h0m0 134h0m1-282h0m0 211h0m1-242h0m4 211h0m1 62h0m1-278h0m1-26h0m0 293h0m1-86h0m1 83h0m0 13h0m0 12h0m2-36h0m4-98h0m2-167h0m0 78h0m0 229h0m0 17h0m1-286h0m0 271h0m2-9h0m1-292h0m3 108h0m2 141h0m1-70h0m0 148h0m1-21h0m1-320h0m5 151h0m4-123h0m0 113h0m0 110h0m0 32h0m0 33h0m1-278h0m0 233h0m0 30h0m0 11h0m0 16h0m2 26h0m1-176h0m1-70h0m5 205h0m1-301h0m0 29h0m1-30h0m0 138h0m0 182h0m0 1h0m0 30h0m1-289h0m0 234h0m1-87h0m2-12h0m5-203h0m0 119h0m0 59h0m0 132h0m1-337h0m0 350h0m0 35h0m1-234h0m0 62h0m0 99h0m0 57h0m1-264h0m0 198h0m7 65h0m1-347h0m0 27h0m0 36h0m0 109h0m0 160h0m1-307h0m0 290h0m0 4h0m0 52h0m1-54h0m1-72h0m6-221h0m1-28h0m0 101h0m0 53h0m0 208h0m1-374h0m0 329h0m0 21h0m1-135h0m1-173h0m0 134h0m0 148h0m0 72h0m8-210h0m0 142h0m0 57h0m1-373h0m0 84h0m0 228h0m0 16h0m1-194h0m0 44h0m0 170h0m0 15h0m1-32h0m1-67h0m5-115h0m0 103h0m1-228h0m0 192h0m1-219h0m0 185h0m0 41h0m0 44h0m0 50h0m0 17h0m0 11h0m2-340h0m5 39h0m3-57h0m0 307h0m0 23h0m1 20h0m1-329h0m0 51h0m0 44h0m0 230h0m0 21h0m0 28h0m2-206h0m5 23h0m1 139h0m1-350h0m0 342h0m0 22h0m0 48h0m0 14h0m1-409h0m0 33h0m0 53h0m0 171h0m0 124h0m0 8h0m1-410h0m1 232h0m4-13h0m1-144h0m1-64h0m0 399h0m1-385h0m0 10h0m0 140h0m0 215h0m1-287h0m1-40h0m0 214h0m0 75h0m1-16h0m2-262h0m5 39h0m1-134h0m0 19h0m0 155h0m0 239h0m0 47h0m1-443h0m0 381h0m1-311h0m1-57h0m0 91h0" stroke="#000" stroke-width="3.0" stroke-linecap="square" stroke-opacity="0.42" fill="none"/>
<line x1="262.08" y1="0.0" x2="262.08" y2="354.0" stroke="#1010ff" stroke-width="1.4" stroke-dasharray="3.3 1.4"/>
<line x1="300.92" y1="0.0" x2="300.92" y2="354.0" stroke="#1010ff" stroke-width="1.4" stroke-dasharray="3.3 1.4"/>
<polyline points="48.5,177.00 49.0,177.00 49.5,177.00 50.0,177.00 50.5,177.00 51.0,177.00 51.5,177.00 52.0,177.00 52.5,177.00 53.0,177.00 53.5,177.00 54.0,177.00 54.5,177.00 55.0,177.00 55.5,177.00 56.0,177.00 56.5,177.00 57.0,177.00 57.5,177.00 58.0,177.00 58.5,177.00 59.0,177.00 59.5,177.00 60.0,177.00 60.5,177.00 61.0,177.00 61.5,177.00 62.0,177.00 62.5,177.00 63.0,177.00 63.5,177.00 64.0,177.00 64.5,177.00 65.0,177.00 65.5,177.00 66.0,177.00 66.5,177.00 67.0,177.00 67.5,177.00 68.0,177.00 68.5,177.00 69.0,177.00 69.5,177.00 70.0,177.00 70.5,177.00 71.0,177.00 71.5,177.00 72.0,177.00 72.5,177.00 73.0,177.00 73.5,177.00 74.0,177.00 74.5,177.00 75.0,177.00 75.5,177.00 76.0,177.00 76.5,177.00 77.0,177.00 77.5,177.00 78.0,177.00 78.5,177.00 79.0,177.00 79.5,177.00 80.0,177.00 80.5,177.00 81.0,177.00 81.5,177.00 82.0,177.00 82.5,177.00 83.0,177.00 83.5,177.00 84.0,177.00 84.5,177.00 85.0,177.00 85.5,177.00 86.0,177.00 86.5,177.00 87.0,177.00 87.5,177.00 88.0,177.00 88.5,177.00 89.0,177.00 89.5,177.00 90.0,177.00 90.5,177.00 91.0,177.00 91.5,177.00 92.0,177.00 92.5,177.00 93.0,177.00 93.5,177.00 94.0,177.00 94.5,177.00 95.0,177.00 95.5,177.00 96.0,177.00 96.5,177.00 97.0,177.00 97.5,177.00 98.0,177.00 98.5,177.00 99.0,177.00 99.5,177.00 100.0,177.00 100.5,177.00 101.0,177.00 101.5,177.00 102.0,177.00 102.5,177.00 103.0,177.00 103.5,177.00 104.0,177.00 104.5,177.00 105.0,177.00 105.5,177.00 106.0,177.00 106.5,177.00 107.0,177.00 107.5,177.00 108.0,177.00 108.5,177.00 109.0,177.00 109.5,177.00 110.0,177.00 110.5,177.00 111.0,177.00 111.5,177.00 112.0,177.00 112.5,177.00 113.0,177.00 113.5,177.00 114.0,177.00 114.5,177.00 115.0,177.00 115.5,177.00 116.0,177.00 116.5,177.00 117.0,177.00 117.5,177.00 118.0,177.00 118.5,177.00 119.0,177.00 119.5,177.00 120.0,177.00 120.5,177.00 121.0,177.00 121.5,177.00 122.0,177.00 122.5,177.00 123.0,177.00 123.5,177.00 124.0,177.00 124.5,177.00 125.0,177.00 125.5,177.00 126.0,177.00 126.5,177.00 127.0,177.00 127.5,177.00 128.0,177.00 128.5,177.00 129.0,177.00 129.5,177.00 130.0,177.00 130.5,177.00 131.0,177.00 131.5,177.00 132.0,177.00 132.5,177.00 133.0,177.00 133.5,177.00 134.0,177.00 134.5,177.00 135.0,177.00 135.5,177.00 136.0,177.00 136.5,177.00 137.0,177.00 137.5,177.00 138.0,177.00 138.5,177.00 139.0,177.00 139.5,177.00 140.0,177.00 140.5,177.00 141.0,177.00 141.5,177.00 142.0,177.00 142.5,177.00 143.0,177.00 143.5,177.00 144.0,177.00 144.5,177.00 145.0,177.00 145.5,177.00 146.0,177.00 146.5,177.00 147.0,177.00 147.5,177.00 148.0,177.00 148.5,177.00 149.0,177.00 149.5,177.00 150.0,177.00 150.5,177.00 151.0,177.00 151.5,177.00 152.0,177.00 152.5,177.00 153.0,177.00 153.5,177.00 154.0,177.00 154.5,177.00 155.0,177.00 155.5,177.00 156.0,177.00 156.5,177.00 157.0,177.00 157.5,177.00 158.0,177.00 158.5,177.00 159.0,177.00 159.5,177.00 160.0,177.00 160.5,177.00 161.0,177.00 161.5,177.00 162.0,177.00 162.5,177.00 163.0,177.00 163.5,177.00 164.0,177.00 164.5,177.00 165.0,177.00 165.5,177.00 166.0,177.00 166.5,177.00 167.0,177.00 167.5,177.00 168.0,177.00 168.5,177.00 169.0,177.00 169.5,177.00 170.0,177.00 170.5,177.00 171.0,177.00 171.5,177.00 172.0,177.00 172.5,177.00 173.0,177.00 173.5,177.00 174.0,177.00 174.5,177.00 175.0,177.00 175.5,177.00 176.0,177.00 176.5,177.00 177.0,177.00 177.5,177.00 178.0,177.00 178.5,177.00 179.0,177.00 179.5,177.00 180.0,177.00 180.5,177.00 181.0,177.00 181.5,177.00 182.0,177.00 182.5,177.00 183.0,177.00 183.5,177.00 184.0,177.00 184.5,177.00 185.0,177.00 185.5,177.00 186.0,177.00 186.5,177.00 187.0,177.00 187.5,177.00 188.0,177.00 188.5,177.00 189.0,177.00 189.5,177.00 190.0,177.00 190.5,177.00 191.0,177.00 191.5,177.00 192.0,177.00 192.5,177.00 193.0,177.00 193.5,177.00 194.0,177.00 194.5,177.00 195.0,176.99 195.5,176.99 196.0,176.99 196.5,176.99 197.0,176.99 197.5,176.99 198.0,176.99 198.5,176.99 199.0,176.99 199.5,176.99 200.0,176.98 200.5,176.98 201.0,176.98 201.5,176.98 202.0,176.98 202.5,176.97 203.0,176.97 203.5,176.97 204.0,176.96 204.5,176.96 205.0,176.96 205.5,176.95 206.0,176.95 206.5,176.94 207.0,176.93 207.5,176.93 208.0,176.92 208.5,176.91 209.0,176.90 209.5,176.89 210.0,176.88 210.5,176.87 211.0,176.86 211.5,176.84 212.0,176.83 212.5,176.81 213.0,176.79 213.5,176.77 214.0,176.75 214.5,176.73 215.0,176.70 215.5,176.68 216.0,176.65 216.5,176.62 217.0,176.58 217.5,176.54 218.0,176.50 218.5,176.46 219.0,176.41 219.5,176.36 220.0,176.31 220.5,176.25 221.0,176.19 221.5,176.12 222.0,176.05 222.5,175.97 223.0,175.89 223.5,175.80 224.0,175.70 224.5,175.60 225.0,175.49 225.5,175.37 226.0,175.25 226.5,175.12 227.0,174.97 227.5,174.82 228.0,174.66 228.5,174.49 229.0,174.31 229.5,174.12 230.0,173.91 230.5,173.69 231.0,173.46 231.5,173.22 232.0,172.96 232.5,172.69 233.0,172.40 233.5,172.10 234.0,171.78 234.5,171.44 235.0,171.09 235.5,170.71 236.0,170.32 236.5,169.90 237.0,169.47 237.5,169.02 238.0,168.54 238.5,168.04 239.0,167.52 239.5,166.97 240.0,166.40 240.5,165.80 241.0,165.18 241.5,164.53 242.0,163.86 242.5,163.16 243.0,162.42 243.5,161.67 244.0,160.88 244.5,160.06 245.0,159.22 245.5,158.34 246.0,157.44 246.5,156.50 247.0,155.53 247.5,154.53 248.0,153.51 248.5,152.45 249.0,151.36 249.5,150.24 250.0,149.08 250.5,147.90 251.0,146.69 251.5,145.45 252.0,144.18 252.5,142.88 253.0,141.56 253.5,140.21 254.0,138.83 254.5,137.42 255.0,135.99 255.5,134.54 256.0,133.06 256.5,131.57 257.0,130.05 257.5,128.52 258.0,126.97 258.5,125.40 259.0,123.82 259.5,122.23 260.0,120.62 260.5,119.01 261.0,117.39 261.5,115.77 262.0,114.15 262.5,112.52 263.0,110.90 263.5,109.28 264.0,107.66 264.5,106.06 265.0,104.47 265.5,102.89 266.0,101.32 266.5,99.78 267.0,98.25 267.5,96.75 268.0,95.27 268.5,93.82 269.0,92.40 269.5,91.02 270.0,89.67 270.5,88.35 271.0,87.08 271.5,85.85 272.0,84.66 272.5,83.52 273.0,82.43 273.5,81.39 274.0,80.41 274.5,79.47 275.0,78.60 275.5,77.78 276.0,77.02 276.5,76.32 277.0,75.68 277.5,75.11 278.0,74.60 278.5,74.16 279.0,73.78 279.5,73.47 280.0,73.23 280.5,73.06 281.0,72.96 281.5,72.92 282.0,72.96 282.5,73.06 283.0,73.23 283.5,73.47 284.0,73.78 284.5,74.16 285.0,74.60 285.5,75.11 286.0,75.68 286.5,76.32 287.0,77.02 287.5,77.78 288.0,78.60 288.5,79.47 289.0,80.41 289.5,81.39 290.0,82.43 290.5,83.52 291.0,84.66 291.5,85.85 292.0,87.08 292.5,88.35 293.0,89.67 293.5,91.02 294.0,92.40 294.5,93.82 295.0,95.27 295.5,96.75 296.0,98.25 296.5,99.78 297.0,101.32 297.5,102.89 298.0,104.47 298.5,106.06 299.0,107.66 299.5,109.28 300.0,110.90 300.5,112.52 301.0,114.15 301.5,115.77 302.0,117.39 302.5,119.01 303.0,120.62 303.5,122.23 304.0,123.82 304.5,125.40 305.0,126.97 305.5,128.52 306.0,130.05 306.5,131.57 307.0,133.06 307.5,134.54 308.0,135.99 308.5,137.42 309.0,138.83 309.5,140.21 310.0,141.56 310.5,142.88 311.0,144.18 311.5,145.45 312.0,146.69 312.5,147.90 313.0,149.08 313.5,150.24 314.0,151.36 314.5,152.45 315.0,153.51 315.5,154.53 316.0,155.53 316.5,156.50 317.0,157.44 317.5,158.34 318.0,159.22 318.5,160.06 319.0,160.88 319.5,161.67 320.0,162.42 320.5,163.16 321.0,163.86 321.5,164.53 322.0,165.18 322.5,165.80 323.0,166.40 323.5,166.97 324.0,167.52 324.5,168.04 325.0,168.54 325.5,169.02 326.0,169.47 326.5,169.90 327.0,170.32 327.5,170.71 328.0,171.09 328.5,171.44 329.0,171.78 329.5,172.10 330.0,172.40 330.5,172.69 331.0,172.96 331.5,173.22 332.0,173.46 332.5,173.69 333.0,173.91 333.5,174.12 334.0,174.31 334.5,174.49 335.0,174.66 335.5,174.82 336.0,174.97 336.5,175.12 337.0,175.25 337.5,175.37 338.0,175.49 338.5,175.60 339.0,175.70 339.5,175.80 340.0,175.89 340.5,175.97 341.0,176.05 341.5,176.12 342.0,176.19 342.5,176.25 343.0,176.31 343.5,176.36 344.0,176.41 344.5,176.46 345.0,176.50 345.5,176.54 346.0,176.58 346.5,176.62 347.0,176.65 347.5,176.68 348.0,176.70 348.5,176.73 349.0,176.75 349.5,176.77 350.0,176.79 350.5,176.81 351.0,176.83 351.5,176.84 352.0,176.86 352.5,176.87 353.0,176.88 353.5,176.89 354.0,176.90 354.5,176.91 355.0,176.92 355.5,176.93 356.0,176.93 356.5,176.94 357.0,176.95 357.5,176.95 358.0,176.96 358.5,176.96 359.0,176.96 359.5,176.97 360.0,176.97 360.5,176.97 361.0,176.98 361.5,176.98 362.0,176.98 362.5,176.98 363.0,176.98 363.5,176.99 364.0,176.99 364.5,176.99 365.0,176.99 365.5,176.99 366.0,176.99 366.5,176.99 367.0,176.99 367.5,176.99 368.0,176.99 368.5,177.00 369.0,177.00 369.5,177.00 370.0,177.00 370.5,177.00 371.0,177.00 371.5,177.00 372.0,177.00 372.5,177.00 373.0,177.00 373.5,177.00 374.0,177.00 374.5,177.00 375.0,177.00 375.5,177.00 376.0,177.00 376.5,177.00 377.0,177.00 377.5,177.00 378.0,177.00 378.5,177.00 379.0,177.00 379.5,177.00 380.0,177.00 380.5,177.00 381.0,177.00 381.5,177.00 382.0,177.00 382.5,177.00 383.0,177.00 383.5,177.00 384.0,177.00 384.5,177.00 385.0,177.00 385.5,177.00 386.0,177.00 386.5,177.00 387.0,177.00 387.5,177.00 388.0,177.00 388.5,177.00 389.0,177.00 389.5,177.00 390.0,177.00 390.5,177.00 391.0,177.00 391.5,177.00 392.0,177.00 392.5,177.00 393.0,177.00 393.5,177.00 394.0,177.00 394.5,177.00 395.0,177.00 395.5,177.00 396.0,177.00 396.5,177.00 397.0,177.00 397.5,177.00 398.0,177.00 398.5,177.00 399.0,177.00 399.5,177.00 400.0,177.00 400.5,177.00 401.0,177.00 401.5,177.00 402.0,177.00 402.5,177.00 403.0,177.00 403.5,177.00 404.0,177.00 404.5,177.00 405.0,177.00 405.5,177.00 406.0,177.00 406.5,177.00 407.0,177.00 407.5,177.00 408.0,177.00 408.5,177.00 409.0,177.00 409.5,177.00 410.0,177.00 410.5,177.00 411.0,177.00 411.5,177.00 412.0,177.00 412.5,177.00 413.0,177.00 413.5,177.00 414.0,177.00 414.5,177.00 415.0,177.00 415.5,177.00 416.0,177.00 416.5,177.00 417.0,177.00 417.5,177.00 418.0,177.00 418.5,177.00 419.0,177.00 419.5,177.00 420.0,177.00 420.5,177.00 421.0,177.00 421.5,177.00 422.0,177.00 422.5,177.00 423.0,177.00 423.5,177.00 424.0,177.00 424.5,177.00 425.0,177.00 425.5,177.00 426.0,177.00 426.5,177.00 427.0,177.00 427.5,177.00 428.0,177.00 428.5,177.00 429.0,177.00 429.5,177.00 430.0,177.00 430.5,177.00 431.0,177.00 431.5,177.00 432.0,177.00 432.5,177.00 433.0,177.00 433.5,177.00 434.0,177.00 434.5,177.00 435.0,177.00 435.5,177.00 436.0,177.00 436.5,177.00 437.0,177.00 437.5,177.00 438.0,177.00 438.5,177.00 439.0,177.00 439.5,177.00 440.0,177.00 440.5,177.00 441.0,177.00 441.5,177.00 442.0,177.00 442.5,177.00 443.0,177.00 443.5,177.00 444.0,177.00 444.5,177.00 445.0,177.00 445.5,177.00 446.0,177.00 446.5,177.00 447.0,177.00 447.5,177.00 448.0,177.00 448.5,177.00 449.0,177.00 449.5,177.00 450.0,177.00 450.5,177.00 451.0,177.00 451.5,177.00 452.0,177.00 452.5,177.00 453.0,177.00 453.5,177.00 454.0,177.00 454.5,177.00 455.0,177.00 455.5,177.00 456.0,177.00 456.5,177.00 457.0,177.00 457.5,177.00 458.0,177.00 458.5,177.00 459.0,177.00 459.5,177.00 460.0,177.00 460.5,177.00 461.0,177.00 461.5,177.00 462.0,177.00 462.5,177.00 463.0,177.00 463.5,177.00 464.0,177.00 464.5,177.00 465.0,177.00 465.5,177.00 466.0,177.00 466.5,177.00 467.0,177.00 467.5,177.00 468.0,177.00 468.5,177.00 469.0,177.00 469.5,177.00 470.0,177.00 470.5,177.00 471.0,177.00 471.5,177.00 472.0,177.00 472.5,177.00 473.0,177.00 473.5,177.00 474.0,177.00 474.5,177.00 475.0,177.00 475.5,177.00 476.0,177.00 476.5,177.00 477.0,177.00 477.5,177.00 478.0,177.00 478.5,177.00 479.0,177.00 479.5,177.00 480.0,177.00 480.5,177.00 481.0,177.00 481.5,177.00 482.0,177.00 482.5,177.00 483.0,177.00 483.5,177.00 484.0,177.00 484.5,177.00 485.0,177.00 485.5,177.00 486.0,177.00 486.5,177.00 487.0,177.00 487.5,177.00 488.0,177.00 488.5,177.00 489.0,177.00 489.5,177.00 490.0,177.00 490.5,177.00 491.0,177.00 491.5,177.00 492.0,177.00 492.5,177.00 493.0,177.00 493.5,177.00 494.0,177.00 494.5,177.00 495.0,177.00 495.5,177.00 496.0,177.00 496.5,177.00 497.0,177.00 497.5,177.00 498.0,177.00 498.5,177.00 499.0,177.00 499.5,177.00 500.0,177.00 500.5,177.00 501.0,177.00 501.5,177.00 502.0,177.00 502.5,177.00 503.0,177.00 503.5,177.00 504.0,177.00 504.5,177.00 505.0,177.00 505.5,177.00 506.0,177.00 506.5,177.00 507.0,177.00 507.5,177.00 508.0,177.00 508.5,177.00 509.0,177.00 509.5,177.00 510.0,177.00 510.5,177.00 511.0,177.00 511.5,177.00 512.0,177.00 512.5,177.00 513.0,177.00 513.5,177.00 514.0,177.00 514.5,177.00 515.0,177.00 515.5,177.00" fill="none" stroke="#0000ff" stroke-opacity="0.78" stroke-width="2.9" stroke-linejoin="round"/>
<rect x="48.5" y="0.0" width="466.0" height="354.0" fill="none" stroke="#3a3a3a" stroke-width="1.1"/>
<line x1="48.0" y1="0.6" x2="515.0" y2="0.6" stroke="#222" stroke-width="1.2"/>
<line x1="48.5" y1="35.40" x2="52.0" y2="35.40" stroke="#555" stroke-width="1"/>
<text x="45.7" y="42.40" text-anchor="end" font-size="18.8" font-family="Liberation Serif">2</text>
<line x1="48.5" y1="106.20" x2="52.0" y2="106.20" stroke="#555" stroke-width="1"/>
<text x="45.7" y="113.20" text-anchor="end" font-size="18.8" font-family="Liberation Serif">1</text>
<line x1="48.5" y1="177.00" x2="52.0" y2="177.00" stroke="#555" stroke-width="1"/>
<text x="45.7" y="184.00" text-anchor="end" font-size="18.8" font-family="Liberation Serif">0</text>
<line x1="48.5" y1="247.80" x2="52.0" y2="247.80" stroke="#555" stroke-width="1"/>
<text x="45.7" y="254.80" text-anchor="end" font-size="18.8" font-family="Liberation Serif"><tspan dx="-1">−</tspan><tspan dx="1.6">1</tspan></text>
<line x1="48.5" y1="318.60" x2="52.0" y2="318.60" stroke="#555" stroke-width="1"/>
<text x="45.7" y="325.60" text-anchor="end" font-size="18.8" font-family="Liberation Serif"><tspan dx="-1">−</tspan><tspan dx="1.6">2</tspan></text>
<line x1="48.50" y1="354.0" x2="48.50" y2="350.5" stroke="#555" stroke-width="1"/>
<text x="48.50" y="371.00" text-anchor="middle" font-size="18.8" font-family="Liberation Serif"><tspan>−</tspan><tspan dx="1.7">0.6</tspan></text>
<line x1="126.17" y1="354.0" x2="126.17" y2="350.5" stroke="#555" stroke-width="1"/>
<text x="126.17" y="371.00" text-anchor="middle" font-size="18.8" font-family="Liberation Serif"><tspan>−</tspan><tspan dx="1.7">0.4</tspan></text>
<line x1="203.83" y1="354.0" x2="203.83" y2="350.5" stroke="#555" stroke-width="1"/>
<text x="203.83" y="371.00" text-anchor="middle" font-size="18.8" font-family="Liberation Serif"><tspan>−</tspan><tspan dx="1.7">0.2</tspan></text>
<line x1="281.50" y1="354.0" x2="281.50" y2="350.5" stroke="#555" stroke-width="1"/>
<text x="281.50" y="371.00" text-anchor="middle" font-size="18.8" font-family="Liberation Serif">0.0</text>
<line x1="359.17" y1="354.0" x2="359.17" y2="350.5" stroke="#555" stroke-width="1"/>
<text x="359.17" y="371.00" text-anchor="middle" font-size="18.8" font-family="Liberation Serif">0.2</text>
<line x1="436.83" y1="354.0" x2="436.83" y2="350.5" stroke="#555" stroke-width="1"/>
<text x="436.83" y="371.00" text-anchor="middle" font-size="18.8" font-family="Liberation Serif">0.4</text>
<line x1="514.50" y1="354.0" x2="514.50" y2="350.5" stroke="#555" stroke-width="1"/>
<text x="514.50" y="371.00" text-anchor="middle" font-size="18.8" font-family="Liberation Serif">0.6</text>
<text x="281.5" y="391.70" text-anchor="middle" font-size="18.8" font-family="Liberation Serif">Radial Distance (pc)</text>
<text x="0" y="0" transform="translate(14.4 177.80) rotate(-90)" text-anchor="middle" font-size="18.8" font-family="Liberation Serif">Brightness Temperature (K)</text>
<text x="63" y="31.40" font-size="18.8" font-family="Liberation Serif">amplitude=1.47E+00</text>
<text x="63" y="50.40" font-size="18.8" font-family="Liberation Serif">mean=0.00</text>
<text x="63" y="69.20" font-size="18.8" font-family="Liberation Serif">stddev=0.05</text>
<text x="501.5" y="30.90" text-anchor="end" font-size="18.8" fill="#1414ff" font-family="Liberation Serif">Gaussian</text>
<text x="501.3" y="50.00" text-anchor="end" font-size="18.8" fill="#1414ff" font-family="Liberation Serif">Fit</text>
<text x="68.6" y="326.00" font-size="18.8" font-family="Liberation Serif">Filament 1</text>
<rect x="262.08" y="424.5" width="38.83" height="353.0" fill="#f0f0fe"/>
<path transform="scale(0.5)" d="M96 1169h0m1 17h0m1 13h0m1-55h0m1-12h0m0 26h0m0 57h0m1-26h0m0 25h0m1-13h0m1-9h0m1-44h0m1 54h0m1-51h0m1-6h0m0 10h0m0 6h0m0 32h0m0 3h0m2-45h0m0 4h0m0 54h0m1-65h0m0 34h0m0 22h0m1-57h0m0 9h0m0 9h0m0 14h0m0 21h0m1-19h0m0 40h0m2-67h0m0 10h0m0 5h0m1-2h0m0 11h0m0 10h0m0 11h0m0 15h0m1-41h0m1-8h0m0 13h0m0 3h0m0 5h0m1-44h0m1 25h0m0 34h0m0 8h0m1-55h0m0 19h0m0 5h0m0 15h0m0 24h0m2-58h0m0 72h0m1-91h0m0 39h0m1-22h0m1-2h0m0 10h0m0 19h0m0 10h0m1-51h0m0 10h0m0 19h0m1 7h0m0 19h0m1-33h0m0 14h0m1 22h0m0 9h0m1-59h0m1 7h0m0 21h0m1-27h0m0 35h0m0 27h0m1-70h0m0 61h0m0 17h0m1-43h0m1-31h0m0 47h0m0 7h0m0 12h0m1-43h0m1-18h0m0 16h0m1-15h0m1 64h0m1-42h0m0 42h0m0 1h0m1-8h0m1-30h0m0 37h0m1-53h0m1 34h0m1-40h0m0 12h0m0 10h0m1-6h0m1-6h0m1-16h0m0 13h0m0 16h0m0 20h0m0 5h0m0 21h0m0 1h0m1-78h0m1 7h0m0 33h0m0 20h0m1-30h0m0 18h0m1-13h0m0 20h0m1-18h0m0 6h0m0 16h0m1-31h0m1 8h0m0 32h0m1-61h0m0 17h0m0 23h0m1-46h0m0 1h0m1 20h0m0 54h0m1-83h0m1 7h0m0 18h0m0 8h0m1 2h0m0 20h0m0 12h0m1-44h0m0 1h0m0 39h0m0 17h0m1-50h0m0 14h0m0 2h0m0 19h0m2-42h0m0 6h0m0 21h0m0 1h0m1-38h0m1 18h0m0 17h0m1 21h0m1-22h0m2-37h0m0 16h0m1-2h0m1 48h0m1-40h0m0 17h0m0 6h0m1-41h0m0 9h0m0 42h0m0 4h0m1-57h0m0 11h0m1-2h0m1 3h0m0 54h0m2-58h0m0 5h0m1-13h0m1 65h0m1-38h0m0 3h0m0 28h0m1-53h0m0 30h0m0 4h0m0 21h0m1-47h0m0 40h0m1-45h0m0 16h0m0 11h0m0 1h0m2-10h0m0 37h0m1-75h0m0 45h0m0 5h0m1-49h0m0 8h0m0 16h0m1-17h0m0 18h0m0 25h0m1-44h0m1 15h0m0 21h0m0 4h0m1-48h0m0 34h0m0 2h0m0 25h0m0 18h0m1-70h0m0 15h0m0 1h0m0 9h0m0 3h0m1-31h0m0 20h0m0 16h0m0 8h0m0 2h0m0 1h0m1-30h0m0 24h0m0 8h0m1 10h0m1-39h0m0 9h0m0 31h0m0 19h0m1-39h0m3-50h0m0 5h0m1 60h0m1-36h0m0 5h0m0 32h0m2-43h0m0 33h0m0 34h0m1-72h0m0 6h0m1 22h0m1-19h0m0 12h0m0 5h0m0 30h0m1-48h0m0 24h0m0 18h0m0 5h0m1-71h0m0 12h0m0 5h0m0 12h0m1-3h0m1-13h0m0 10h0m0 7h0m0 36h0m2-47h0m0 24h0m0 19h0m0 16h0m1-80h0m0 13h0m0 1h0m0 12h0m0 9h0m0 6h0m0 5h0m0 12h0m0 12h0m0 3h0m2-31h0m0 3h0m1 30h0m1-22h0m1-46h0m0 29h0m0 11h0m0 16h0m1-22h0m0 18h0m1-32h0m0 10h0m2-39h0m1 42h0m1-15h0m0 7h0m1-3h0m0 1h0m0 2h0m1-26h0m0 25h0m0 6h0m0 19h0m0 16h0m1-35h0m0 14h0m0 2h0m0 42h0m1-71h0m0 20h0m1-6h0m0 1h0m0 2h0m0 1h0m1 16h0m1-45h0m0 31h0m1-15h0m1 26h0m1-44h0m0 26h0m0 28h0m1-57h0m0 19h0m0 24h0m0 12h0m1-39h0m0 19h0m0 4h0m1-27h0m0 12h0m0 26h0m0 4h0m0 4h0m0 4h0m0 4h0m1 3h0m1-64h0m0 11h0m0 26h0m0 8h0m0 8h0m1-54h0m0 11h0m0 4h0m0 16h0m0 51h0m1-33h0m1-35h0m0 34h0m1-66h0m0 28h0m0 32h0m1-26h0m0 38h0m1 22h0m1-84h0m0 76h0m0 6h0m0 1h0m1-74h0m1 26h0m0 6h0m0 8h0m0 6h0m0 8h0m1-33h0m1-11h0m0 28h0m1-47h0m0 16h0m0 24h0m0 16h0m0 12h0m2-41h0m0 39h0m1-16h0m0 1h0m0 1h0m0 4h0m1-43h0m0 2h0m0 16h0m1 17h0m0 23h0m1-51h0m0 43h0m1-63h0m1 49h0m1-7h0m0 5h0m2-51h0m0 20h0m1-11h0m0 5h0m0 46h0m1-36h0m1-1h0m0 3h0m0 36h0m1-15h0m0 18h0m0 7h0m1-50h0m0 8h0m1-11h0m0 6h0m1 5h0m0 12h0m1-50h0m0 74h0m3-50h0m0 38h0m1-48h0m0 24h0m1-21h0m1 66h0m0 18h0m1-52h0m0 33h0m1-7h0m1-56h0m0 18h0m0 37h0m1-29h0m0 20h0m0 7h0m1-50h0m0 13h0m0 7h0m1 7h0m0 6h0m0 7h0m0 4h0m1-48h0m1 51h0m1-43h0m0 12h0m0 6h0m0 3h0m0 9h0m0 22h0m1-24h0m0 9h0m1 22h0m1-60h0m0 44h0m0 20h0m1-70h0m0 6h0m0 11h0m2-6h0m0 25h0m2 31h0m1-78h0m0 37h0m0 7h0m2 2h0m1-16h0m0 21h0m1-33h0m0 32h0m1 11h0m1-34h0m0 22h0m0 8h0m3 0h0m1-34h0m2 13h0m1-7h0m1-15h0m0 27h0m0 25h0m1 15h0m1-27h0m2-32h0m1 57h0m1-73h0m0 61h0m1-36h0m0 30h0m0 2h0m1-25h0m0 32h0m1-40h0m0 34h0m1-47h0m0 48h0m1-70h0m0 28h0m1-13h0m0 15h0m0 26h0m1-22h0m0 2h0m0 4h0m0 25h0m0 1h0m1-39h0m0 29h0m1 21h0m0 2h0m1-38h0m0 9h0m0 27h0m2-20h0m2-17h0m0 24h0m1-26h0m0 4h0m0 45h0m1-72h0m0 17h0m0 7h0m1 19h0m0 18h0m2-61h0m0 20h0m1 9h0m1-18h0m2 26h0m0 35h0m1-71h0m0 18h0m0 12h0m0 7h0m0 26h0m1-71h0m0 5h0m0 52h0m1-10h0m0 14h0m0 27h0m1-53h0m0 24h0m1-71h0m1 13h0m0 40h0m0 2h0m0 4h0m3-13h0m0 3h0m0 11h0m1-43h0m0 10h0m2-1h0m0 5h0m0 42h0m1-38h0m0 11h0m0 29h0m1-50h0m0 33h0m1-72h0m1 18h0m0 11h0m0 64h0m3-50h0m0 2h0m0 39h0m1-47h0m0 3h0m0 3h0m0 16h0m0 28h0m1-73h0m0 34h0m0 20h0m0 3h0m1-8h0m0 1h0m0 15h0m0 12h0m1-24h0m0 13h0m0 25h0m1-65h0m0 16h0m0 30h0m0 4h0m1-35h0m0 3h0m0 1h0m1-3h0m0 38h0m3-63h0m0 37h0m2-37h0m0 9h0m0 9h0m0 41h0m1-32h0m0 3h0m0 27h0m1-29h0m1-20h0m0 9h0m1 48h0m1-58h0m0 38h0m0 17h0m1-54h0m0 8h0m1-33h0m0 67h0m1-10h0m1 5h0m0 18h0m0 10h0m1-69h0m1-5h0m0 15h0m0 16h0m2-48h0m0 34h0m1-14h0m0 57h0m0 7h0m1-79h0m0 19h0m1-3h0m1-21h0m0 55h0m3-28h0m0 23h0m0 3h0m0 37h0m1-47h0m1-42h0m0 24h0m0 23h0m0 12h0m0 13h0m1-51h0m0 21h0m0 2h0m0 20h0m0 1h0m0 42h0m1-96h0m0 34h0m0 16h0m0 1h0m1-59h0m0 12h0m1-1h0m1 5h0m2-5h0m0 52h0m2-74h0m0 84h0m1-72h0m0 13h0m0 16h0m0 16h0m0 9h0m0 19h0m1-44h0m0 7h0m0 12h0m0 1h0m1-30h0m0 56h0m1-91h0m0 72h0m1-65h0m0 41h0m0 15h0m0 21h0m4-73h0m0 37h0m1-23h0m0 26h0m0 18h0m1-45h0m0 7h0m1 2h0m0 9h0m0 15h0m0 23h0m1-71h0m0 16h0m0 5h0m0 16h0m0 2h0m0 14h0m0 27h0m0 1h0m1-70h0m0 6h0m0 42h0m1-28h0m0 49h0m4-89h0m0 22h0m2 12h0m0 13h0m0 20h0m1-55h0m0 23h0m0 6h0m0 6h0m1-18h0m0 1h0m0 20h0m0 8h0m0 11h0m0 15h0m0 9h0m1-52h0m0 16h0m0 15h0m1-48h0m0 10h0m0 61h0m1-81h0m0 23h0m0 28h0m2-13h0m3-41h0m0 71h0m0 6h0m1-96h0m0 67h0m0 20h0m0 16h0m1-65h0m0 3h0m0 11h0m0 39h0m1-95h0m0 37h0m0 7h0m0 8h0m0 18h0m0 36h0m0 8h0m1-92h0m0 37h0m0 2h0m0 13h0m0 29h0m7-55h0m0 51h0m1-38h0m0 7h0m0 41h0m1-87h0m0 30h0m0 9h0m0 21h0m0 9h0m0 3h0m0 2h0m1-81h0m0 29h0m0 11h0m0 27h0m0 13h0m1-45h0m3 41h0m3-84h0m0 6h0m0 89h0m1-104h0m0 16h0m0 8h0m0 14h0m0 41h0m1-34h0m0 24h0m0 2h0m1-43h0m0 16h0m0 25h0m1-32h0m0 2h0m0 13h0m0 4h0m0 18h0m1-41h0m0 4h0m0 30h0m1-51h0m4 3h0m0 9h0m0 3h0m0 20h0m1 10h0m0 2h0m1-61h0m0 25h0m0 3h0m1-10h0m0 20h0m0 2h0m0 19h0m0 20h0m1-83h0m0 25h0m0 33h0m0 9h0m0 3h0m0 9h0m0 22h0m0 2h0m1-96h0m0 19h0m0 8h0m0 28h0m0 17h0m0 17h0m2-2h0m5-71h0m0 48h0m0 19h0m1-116h0m0 30h0m0 11h0m0 1h0m0 17h0m0 49h0m0 2h0m0 3h0m1-68h0m0 14h0m0 6h0m0 8h0m0 2h0m0 29h0m1-78h0m0 11h0m0 45h0m0 17h0m0 6h0m0 1h0m1-93h0m0 30h0m0 3h0m0 49h0m0 10h0m0 35h0m1-44h0m4 8h0m1-108h0m0 61h0m0 3h0m0 18h0m0 4h0m1-24h0m0 14h0m0 38h0m0 2h0m1-104h0m0 29h0m0 5h0m0 6h0m0 84h0m1-100h0m0 15h0m0 7h0m0 41h0m1-43h0m1-49h0m0 30h0m0 38h0m5-17h0m1-12h0m0 10h0m0 56h0m1-117h0m0 5h0m0 2h0m0 17h0m0 25h0m0 60h0m1-62h0m0 3h0m0 23h0m0 9h0m0 5h0m0 8h0m0 8h0m0 2h0m0 8h0m0 4h0m0 2h0m1-57h0m0 16h0m0 2h0m0 1h0m0 6h0m1-10h0m0 24h0m1-48h0m1-46h0m2 68h0m1-87h0m0 18h0m1 19h0m0 44h0m0 46h0m1-135h0m0 44h0m0 11h0m0 3h0m1-24h0m0 9h0m0 12h0m0 5h0m0 27h0m0 7h0m0 14h0m0 10h0m0 1h0m0 4h0m1-56h0m0 10h0m0 22h0m0 31h0m1-123h0m0 8h0m0 7h0m0 56h0m0 10h0m0 29h0m1-80h0m0 7h0m0 11h0m0 39h0m0 30h0m0 9h0m2-16h0m2-106h0m1 62h0m1-1h0m0 3h0m0 21h0m0 6h0m0 28h0m1-126h0m0 51h0m0 3h0m0 16h0m0 11h0m0 29h0m0 3h0m0 4h0m1-101h0m0 23h0m0 5h0m0 7h0m0 6h0m0 13h0m0 1h0m0 6h0m0 50h0m1-124h0m0 22h0m0 19h0m0 58h0m0 28h0m1-93h0m1 0h0m0 31h0m1 12h0m3-59h0m0 89h0m1-75h0m0 1h0m0 17h0m0 16h0m1-8h0m1-53h0m0 14h0m0 19h0m0 27h0m1-62h0m0 4h0m0 26h0m0 20h0m0 27h0m0 29h0m0 5h0m1-110h0m0 3h0m0 66h0m0 8h0m0 4h0m0 14h0m0 1h0m0 7h0m1-94h0m0 42h0m0 5h0m0 59h0m1-23h0m1-6h0m0 13h0m2-63h0m1 60h0m1-62h0m0 6h0m0 63h0m1-130h0m0 10h0m0 22h0m0 58h0m1-77h0m0 16h0m0 4h0m0 4h0m0 22h0m0 27h0m0 10h0m0 23h0m1-119h0m0 8h0m0 1h0m0 23h0m0 6h0m0 20h0m0 10h0m0 6h0m0 10h0m0 29h0m0 16h0m1-138h0m0 33h0m0 14h0m0 9h0m0 37h0m0 4h0m0 11h0m0 14h0m1-82h0m0 34h0m0 60h0m3-116h0m0 55h0m1-17h0m0 1h0m0 16h0m1-31h0m0 18h0m0 57h0m1-95h0m0 25h0m0 42h0m0 5h0m0 38h0m1-117h0m0 2h0m0 7h0m0 7h0m0 1h0m0 8h0m0 9h0m0 23h0m0 18h0m0 3h0m0 2h0m0 3h0m0 13h0m0 9h0m0 10h0m1-111h0m0 22h0m0 8h0m0 19h0m0 15h0m0 1h0m0 3h0m0 8h0m0 20h0m0 34h0m1-137h0m0 7h0m0 5h0m0 5h0m0 14h0m0 16h0m0 12h0m0 1h0m0 3h0m0 2h0m0 2h0m0 9h0m0 46h0m1-99h0m0 4h0m0 15h0m0 20h0m1-66h0m0 60h0m3-31h0m1 86h0m1-120h0m0 21h0m0 8h0m0 3h0m0 68h0m0 13h0m1-104h0m0 28h0m0 6h0m0 18h0m0 60h0m0 2h0m1-136h0m0 34h0m0 18h0m0 6h0m0 5h0m0 7h0m0 4h0m0 10h0m0 11h0m0 4h0m0 19h0m0 1h0m0 9h0m0 22h0m1-107h0m0 6h0m0 28h0m0 6h0m0 7h0m0 4h0m0 18h0m0 12h0m0 7h0m1-108h0m0 8h0m0 17h0m0 3h0m0 2h0m0 28h0m0 29h0m0 2h0m0 26h0m1-103h0m1 106h0m4-115h0m0 37h0m0 33h0m0 18h0m0 12h0m1-116h0m0 1h0m0 3h0m0 13h0m0 4h0m0 11h0m0 53h0m0 2h0m0 12h0m0 41h0m1-87h0m0 55h0m1-80h0m0 1h0m0 8h0m0 53h0m0 15h0m1-82h0m0 18h0m0 36h0m0 10h0m0 4h0m0 4h0m0 21h0m1-70h0m0 19h0m0 9h0m0 13h0m0 11h0m1-66h0m0 50h0m4 50h0m1-112h0m0 59h0m0 9h0m0 37h0m1-98h0m0 10h0m0 8h0m0 7h0m0 29h0m0 11h0m0 2h0m0 16h0m0 5h0m1-97h0m0 15h0m0 7h0m0 2h0m0 21h0m0 15h0m0 5h0m0 16h0m0 10h0m0 15h0m0 7h0m1-55h0m0 17h0m0 20h0m1-55h0m0 59h0m0 8h0m0 8h0m1-101h0m0 1h0m0 13h0m1 4h0m0 67h0m4-55h0m0 16h0m0 65h0m1-66h0m0 21h0m0 15h0m0 22h0m0 8h0m1-125h0m0 23h0m0 52h0m1-64h0m0 28h0m0 15h0m0 6h0m0 8h0m0 2h0m0 30h0m0 2h0m0 7h0m0 1h0m0 37h0m1-132h0m0 24h0m0 4h0m0 9h0m0 16h0m0 26h0m1-68h0m0 24h0m0 25h0m0 59h0m1-87h0m0 9h0m0 33h0m0 7h0m2-39h0m1 82h0m1-25h0m1-32h0m1-47h0m0 7h0m0 14h0m0 13h0m0 3h0m0 16h0m0 28h0m0 9h0m1-121h0m0 3h0m0 94h0m0 4h0m0 9h0m0 3h0m0 17h0m1-127h0m0 11h0m0 2h0m0 15h0m0 5h0m0 1h0m0 12h0m0 12h0m0 14h0m0 18h0m0 9h0m0 2h0m0 30h0m1-104h0m6 26h0m0 48h0m1-52h0m0 59h0m1-74h0m0 9h0m0 34h0m0 25h0m0 1h0m0 20h0m0 1h0m0 19h0m0 5h0m0 10h0m1-71h0m0 3h0m0 13h0m0 23h0m1-61h0m0 2h0m0 6h0m0 86h0m1-126h0m0 118h0m1-103h0m1 97h0m4-95h0m0 5h0m0 23h0m0 32h0m0 11h0m1-64h0m0 20h0m0 19h0m0 16h0m0 1h0m0 8h0m0 26h0m1-93h0m0 21h0m0 2h0m0 11h0m0 4h0m0 5h0m0 17h0m0 20h0m0 3h0m0 7h0m0 8h0m0 26h0m1-128h0m0 1h0m0 97h0m0 3h0m0 4h0m1-21h0m0 2h0m0 16h0m0 7h0m1-27h0m1-44h0m5-45h0m0 33h0m0 12h0m0 9h0m0 32h0m0 21h0m1-91h0m0 21h0m0 7h0m0 10h0m0 35h0m0 40h0m1-108h0m0 3h0m0 12h0m0 68h0m0 15h0m0 21h0m1-106h0m0 10h0m0 7h0m0 11h0m0 29h0m0 13h0m0 2h0m1-90h0m0 1h0m0 16h0m0 39h0m0 29h0m0 5h0m0 3h0m1-81h0m0 41h0m1 15h0m2-45h0m1-3h0m1-20h0m1-11h0m0 10h0m0 30h0m0 14h0m0 8h0m0 5h0m0 44h0m1-91h0m0 1h0m0 6h0m0 15h0m0 14h0m0 10h0m0 5h0m0 3h0m0 2h0m0 22h0m0 4h0m0 22h0m1-101h0m0 9h0m0 14h0m0 39h0m0 38h0m1-29h0m0 12h0m0 3h0m1-47h0m0 6h0m1-11h0m1 34h0m2-11h0m1-64h0m1 21h0m0 66h0m0 5h0m0 5h0m0 7h0m1-118h0m0 18h0m0 35h0m0 19h0m0 5h0m0 6h0m0 7h0m1-72h0m0 37h0m0 19h0m0 3h0m0 16h0m0 13h0m0 13h0m0 20h0m1-114h0m0 5h0m0 8h0m0 27h0m1-61h0m0 47h0m0 4h0m0 9h0m1-39h0m0 14h0m5-11h0m0 32h0m0 31h0m1-65h0m0 39h0m0 6h0m0 10h0m0 2h0m1-45h0m0 22h0m0 23h0m0 29h0m0 2h0m1-94h0m0 7h0m0 50h0m0 45h0m1-103h0m0 12h0m0 8h0m0 42h0m0 35h0m1-112h0m0 116h0m0 5h0m4-22h0m2-90h0m0 27h0m0 10h0m0 52h0m1-34h0m0 1h0m0 4h0m0 61h0m1-50h0m0 14h0m1-51h0m0 1h0m0 21h0m0 6h0m0 13h0m0 30h0m1-48h0m1-73h0m0 22h0m0 5h0m0 4h0m1 48h0m3-64h0m0 13h0m0 77h0m2-77h0m0 36h0m0 36h0m0 4h0m0 3h0m1-49h0m0 11h0m0 12h0m0 33h0m0 6h0m0 11h0m1-87h0m0 24h0m0 2h0m0 7h0m1 3h0m0 9h0m0 22h0m0 2h0m1-89h0m0 49h0m0 3h0m0 4h0m3 59h0m1-68h0m1 8h0m1-21h0m0 4h0m0 15h0m0 21h0m0 13h0m0 1h0m0 27h0m1-115h0m0 58h0m0 4h0m0 5h0m1-76h0m0 34h0m0 2h0m0 12h0m0 10h0m0 72h0m1-118h0m0 6h0m0 14h0m0 1h0m0 20h0m0 1h0m0 62h0m1-71h0m1-52h0m0 55h0m0 27h0m0 9h0m0 6h0m1-85h0m2 37h0m2 41h0m1-73h0m0 59h0m0 13h0m0 5h0m0 6h0m1-73h0m0 6h0m0 28h0m0 3h0m0 24h0m0 4h0m0 18h0m1-42h0m0 1h0m0 19h0m0 12h0m1-53h0m0 11h0m0 22h0m1-52h0m0 44h0m1-12h0m4-34h0m0 58h0m1-23h0m0 62h0m0 10h0m1-63h0m1-41h0m0 11h0m0 75h0m0 3h0m1-104h0m0 19h0m1-19h0m0 9h0m0 1h0m0 35h0m0 13h0m0 12h0m0 15h0m1-19h0m0 65h0m1-108h0m0 77h0m2-14h0m1-13h0m0 24h0m1-65h0m1-5h0m0 38h0m0 4h0m1-55h0m0 17h0m0 23h0m0 12h0m0 6h0m0 1h0m1 27h0m1-96h0m0 11h0m0 38h0m0 11h0m0 40h0m0 19h0m1-128h0m0 50h0m0 69h0m2-120h0m0 82h0m0 12h0m2-8h0m0 16h0m1-67h0m0 90h0m1-122h0m0 83h0m1-67h0m0 8h0m0 28h0m0 22h0m0 12h0m1-43h0m0 34h0m0 14h0m0 16h0m0 4h0m1-89h0m0 34h0m0 1h0m0 3h0m0 12h0m1-67h0m0 71h0m0 16h0m0 26h0m1-103h0m0 68h0m0 6h0m1-24h0m0 25h0m1-20h0m1 53h0m1-84h0m0 15h0m0 34h0m0 4h0m1-9h0m0 3h0m0 13h0m0 2h0m0 7h0m1-83h0m0 16h0m0 12h0m1-33h0m0 13h0m0 37h0m0 3h0m0 30h0m1-87h0m0 10h0m0 17h0m0 4h0m0 52h0m0 25h0m0 7h0m1-81h0m0 18h0m0 13h0m0 17h0m1-88h0m0 97h0m1-74h0m1 57h0m1-57h0m0 47h0m1 10h0m1 6h0m1-35h0m0 12h0m0 5h0m0 15h0m1-68h0m0 7h0m0 21h0m1-9h0m0 13h0m0 25h0m0 11h0m0 9h0m1-64h0m0 47h0m1-33h0m0 14h0m0 4h0m0 39h0m0 9h0m1-45h0m0 34h0m1-77h0m0 45h0m0 25h0m1-32h0m1-12h0m0 19h0m0 14h0m0 14h0m1-35h0m0 48h0m0 24h0m1-63h0m1-47h0m0 51h0m0 46h0m1-115h0m0 60h0m1-40h0m1-30h0m0 76h0m0 44h0m1-89h0m0 9h0m0 24h0m0 13h0m1-60h0m1 76h0m2-75h0m0 6h0m0 9h0m0 68h0m2-86h0m0 44h0m1 22h0m0 18h0m0 30h0m1-116h0m0 38h0m0 48h0m0 1h0m1-88h0m0 23h0m0 15h0m0 6h0m0 42h0m1-57h0m1 56h0m1-2h0m1-67h0m0 38h0m1-39h0m1 24h0m1-23h0m1 47h0m1-35h0m0 59h0m1-93h0m0 27h0m0 9h0m0 11h0m0 15h0m1-37h0m0 9h0m0 7h0m0 20h0m1-32h0m0 15h0m0 23h0m1-31h0m0 14h0m0 2h0m0 17h0m1-53h0m0 44h0m1-52h0m1 23h0m0 25h0m0 10h0m1-13h0m0 2h0m1 12h0m0 45h0m1-70h0m0 23h0m1-10h0m1-20h0m0 7h0m0 52h0m0 3h0m1-69h0m0 31h0m1-17h0m0 15h0m0 19h0m0 15h0m2-50h0m0 14h0m1-22h0m1-23h0m0 70h0m1-26h0m0 5h0m1-28h0m0 4h0m0 19h0m0 4h0m0 39h0m1-63h0m0 2h0m0 61h0m1-50h0m0 15h0m0 29h0m1-78h0m0 41h0m0 10h0m0 33h0m0 6h0m1-71h0m1-24h0m0 8h0m0 12h0m0 61h0m0 7h0m2-14h0m1-37h0m1 15h0m1-40h0m0 4h0m1 27h0m0 12h0m0 17h0m1-39h0m0 11h0m0 20h0m0 9h0m0 14h0m1-34h0m0 9h0m0 24h0m1-36h0m1-39h0m0 34h0m1 8h0m0 24h0m2-25h0m0 7h0m1-21h0m0 3h0m1-45h0m0 10h0m0 57h0m0 22h0m1-62h0m0 19h0m0 32h0m1-19h0m1-51h0m0 15h0m0 63h0m0 1h0m0 10h0m1-100h0m0 41h0m0 24h0m2-42h0m0 17h0m0 40h0m1-44h0m0 5h0m0 70h0m1-82h0m1-8h0m0 19h0m0 73h0m1-98h0m0 24h0m1-1h0m0 42h0m0 24h0m1-46h0m0 20h0m1-45h0m0 6h0m0 35h0m0 26h0m2-47h0m0 23h0m1-63h0m0 8h0m0 27h0m0 38h0m1 10h0m0 7h0m1-15h0m0 6h0m2-72h0m1 3h0m0 6h0m0 34h0m1-30h0m0 24h0m0 21h0m1-68h0m0 6h0m0 30h0m0 56h0m1-72h0m0 8h0m0 5h0m0 15h0m1 37h0m1-68h0m0 64h0m1-41h0m0 12h0m0 4h0m0 21h0m2-44h0m0 11h0m0 27h0m0 4h0m0 3h0m1-32h0m1-13h0m1 3h0m0 14h0m1-28h0m0 12h0m0 39h0m1-18h0m0 14h0m1-34h0m0 32h0m1-53h0m0 3h0m0 43h0m1-46h0m0 1h0m0 10h0m0 23h0m0 1h0m0 9h0m1-48h0m0 4h0m0 8h0m0 11h0m1-3h0m0 49h0m1-69h0m0 31h0m0 9h0m1-15h0m0 35h0m2-39h0m0 44h0m0 2h0m0 10h0m1-51h0m0 28h0m1-39h0m0 34h0m0 6h0m1-61h0m0 23h0m1 7h0m0 8h0m0 11h0m0 10h0m0 12h0m1-70h0m0 5h0m0 4h0m0 15h0m0 6h0m0 9h0m0 20h0m2-27h0m1 21h0m0 4h0m1-40h0m0 48h0m1-52h0m0 8h0m0 35h0m0 11h0m1-54h0m0 40h0m1-42h0m1 20h0m0 11h0m1-23h0m0 57h0m0 5h0m2-84h0m0 35h0m0 17h0m0 7h0m1-28h0m0 40h0m1-46h0m0 15h0m0 10h0m0 9h0m1 31h0m1-74h0m1 13h0m0 5h0m0 5h0m0 25h0m1-44h0m0 21h0m1-18h0m1-4h0m0 1h0m0 25h0m1-14h0m1 3h0m0 11h0m1-14h0m0 15h0m0 16h0m0 4h0m0 4h0m1-43h0m1 11h0m0 23h0m1-24h0m0 11h0m0 13h0m1-40h0m0 17h0m0 29h0m1-30h0m1-9h0m0 38h0m1-55h0m0 24h0m0 23h0m0 1h0m0 5h0m0 7h0m1-57h0m0 65h0m1-68h0m0 21h0m0 12h0m0 7h0m0 14h0m1-63h0m0 14h0m0 17h0m0 33h0m1-25h0m1-2h0m0 30h0m0 13h0m1-75h0m0 12h0m0 17h0m0 22h0m0 15h0m1-73h0m1 25h0m0 5h0m0 5h0m0 54h0m1-37h0m0 13h0m1-6h0m0 4h0m1-28h0m1 20h0m1-55h0m0 58h0m2-32h0m0 6h0m0 5h0m0 31h0m1-58h0m0 4h0m1 21h0m0 5h0m0 10h0m0 28h0m1-69h0m0 11h0m0 1h0m0 74h0m2-55h0m0 38h0m1-48h0m2 29h0m1-48h0m1 32h0m0 8h0m1-26h0m0 59h0m1-70h0m0 44h0m1 12h0m1-50h0m0 28h0m1 5h0m0 6h0m1-61h0m1 26h0m0 65h0m1-70h0m1 23h0m1 17h0m1-45h0m0 11h0m0 18h0m0 40h0m1-25h0m0 7h0m0 2h0m1-48h0m0 25h0m0 18h0m0 8h0m1-43h0m0 6h0m0 4h0m0 2h0m0 7h0m0 21h0m1-50h0m0 5h0m0 26h0m0 10h0m0 14h0m1-58h0m0 3h0m1 40h0m0 2h0m0 23h0m1-76h0m0 17h0m0 12h0m0 32h0m0 6h0m1-65h0m0 13h0m1-27h0m0 32h0m0 27h0m1-47h0m0 47h0m0 2h0m0 6h0m2-36h0m0 5h0m0 39h0m1-69h0m2 17h0m0 7h0m0 18h0m1-49h0m0 11h0m1-2h0m0 24h0m0 15h0m0 15h0m1-58h0m1 9h0m0 10h0m0 55h0m0 5h0m1-64h0m0 28h0m1 7h0m0 11h0m1-45h0m0 27h0m0 13h0m1-40h0m0 36h0m0 23h0m1-42h0m0 7h0m0 21h0m1-19h0m0 12h0m1 20h0m1-56h0m0 34h0m0 16h0m1-23h0m0 1h0m0 2h0m0 32h0m1-60h0m0 47h0m1-43h0m1 22h0m0 14h0m1-41h0m0 21h0m1-37h0m0 31h0m1 43h0m1-39h0m2 17h0m0 8h0m1-26h0m0 9h0m0 4h0m1-50h0m0 12h0m1 11h0m0 5h0m1-13h0m0 28h0m0 8h0m0 30h0m1-80h0m0 13h0m0 60h0m1-79h0m0 59h0m0 29h0m0 2h0m1-42h0m1-16h0m0 18h0m1-21h0m0 14h0m0 8h0m0 16h0m0 1h0m1-30h0m0 35h0m1-28h0m0 5h0m0 4h0m0 29h0m0 2h0m1-69h0m0 4h0m0 51h0m0 10h0m1-33h0m0 1h0m0 4h0m0 15h0m0 10h0m1-62h0m0 15h0m0 5h0m0 52h0m1-44h0m0 7h0m1-5h0m0 6h0m0 1h0m0 24h0m1-29h0m1 31h0m0 6h0m1-63h0m0 21h0m0 7h0m1-44h0m0 54h0m0 23h0m1-59h0m0 19h0m1-14h0m0 32h0m0 9h0m1-58h0m0 22h0m0 21h0m2 24h0m1-18h0m0 13h0m0 9h0m1-60h0m1 45h0m1-55h0m0 18h0m0 8h0m1 3h0m0 2h0m0 10h0m0 5h0m0 16h0m1-43h0m0 3h0m0 26h0m0 21h0m1-24h0m1 33h0m1-37h0m0 5h0m0 19h0m0 3h0m1-4h0m1-72h0m0 22h0m1 17h0m1-10h0m0 4h0m1-6h0m0 52h0m1-61h0m0 25h0m0 36h0m1-24h0m1-15h0m0 16h0m1-17h0m0 2h0m0 13h0m1-22h0m0 20h0m0 11h0m1-40h0m0 15h0m0 14h0m0 18h0m0 5h0" stroke="#000" stroke-width="3.0" stroke-linecap="square" stroke-opacity="0.7" fill="none"/>
<path transform="scale(0.5)" d="M97 1143h0m0 4h0m0 15h0m1-22h0m0 28h0m1-3h0m0 8h0m1-14h0m0 16h0m0 2h0m0 13h0m0 15h0m1-52h0m0 14h0m0 37h0m1-12h0m0 20h0m1-59h0m0 21h0m0 43h0m1-81h0m0 6h0m0 31h0m0 26h0m1-43h0m1-10h0m0 4h0m0 29h0m0 29h0m2-54h0m0 11h0m1 5h0m1 27h0m1-37h0m0 29h0m1-39h0m1-15h0m0 10h0m0 9h0m0 13h0m0 11h0m0 29h0m0 24h0m2-47h0m0 26h0m2-63h0m1 4h0m0 39h0m0 24h0m1-84h0m0 25h0m0 16h0m0 10h0m0 19h0m0 3h0m1-38h0m0 29h0m0 15h0m2-10h0m1-54h0m0 58h0m1-39h0m1-7h0m0 33h0m2-36h0m0 15h0m1 3h0m0 27h0m0 1h0m1-3h0m1-22h0m0 24h0m1-70h0m0 42h0m0 9h0m0 19h0m0 3h0m0 16h0m1-56h0m0 25h0m0 24h0m2-36h0m0 25h0m1-37h0m0 25h0m0 6h0m0 5h0m0 5h0m1-56h0m0 17h0m0 10h0m0 11h0m1-28h0m0 10h0m0 7h0m0 26h0m0 2h0m0 6h0m0 1h0m1-82h0m0 43h0m1-32h0m1 24h0m1-13h0m0 29h0m0 11h0m0 2h0m0 21h0m1-39h0m0 38h0m1-51h0m0 4h0m0 19h0m1-36h0m1 16h0m0 10h0m0 16h0m1-43h0m0 14h0m0 4h0m0 2h0m0 34h0m1-40h0m0 58h0m1-58h0m0 18h0m1 25h0m1-32h0m1 3h0m0 34h0m1-48h0m0 58h0m1-55h0m0 9h0m0 19h0m1-34h0m1 29h0m1-29h0m0 10h0m0 7h0m0 20h0m0 30h0m1-28h0m0 22h0m1-86h0m0 18h0m1 28h0m0 17h0m1-24h0m0 18h0m0 2h0m1-39h0m1-11h0m0 21h0m0 14h0m0 21h0m1-17h0m0 14h0m1-57h0m0 47h0m2-56h0m0 14h0m0 15h0m1 57h0m1-78h0m0 6h0m0 15h0m0 27h0m0 4h0m0 12h0m1-44h0m0 14h0m0 4h0m0 31h0m1-49h0m0 60h0m1-54h0m1-10h0m0 35h0m1-9h0m0 5h0m0 13h0m0 3h0m1-14h0m1-26h0m0 12h0m1 8h0m0 10h0m0 5h0m0 4h0m2-11h0m0 12h0m1-42h0m0 9h0m0 14h0m0 23h0m2-54h0m0 40h0m0 6h0m0 8h0m0 9h0m1-69h0m0 23h0m0 15h0m1-30h0m0 6h0m0 5h0m0 19h0m0 41h0m2-66h0m0 5h0m0 37h0m1-13h0m1-48h0m0 26h0m0 30h0m0 1h0m1-60h0m0 64h0m1-61h0m0 14h0m0 1h0m0 1h0m0 4h0m1 34h0m1 5h0m1-38h0m0 10h0m0 25h0m0 22h0m2 1h0m0 5h0m1-68h0m1 37h0m0 4h0m0 12h0m1-56h0m0 34h0m0 8h0m1-24h0m0 21h0m0 6h0m1-34h0m0 23h0m0 20h0m1-13h0m0 13h0m2-65h0m0 9h0m1-14h0m0 21h0m0 22h0m0 5h0m1-23h0m0 18h0m0 33h0m1-37h0m0 13h0m0 20h0m1-54h0m0 13h0m0 17h0m0 11h0m0 2h0m0 11h0m1-54h0m0 40h0m1-50h0m0 6h0m1-12h0m0 69h0m1-58h0m0 12h0m0 9h0m0 31h0m0 5h0m1-54h0m0 16h0m0 21h0m1-29h0m0 39h0m1-10h0m1-31h0m0 25h0m0 55h0m1-57h0m0 6h0m0 19h0m1-51h0m0 47h0m0 2h0m1-67h0m0 9h0m0 44h0m1-33h0m0 30h0m0 15h0m1-20h0m1 16h0m1-43h0m0 49h0m0 3h0m1-22h0m1-55h0m0 33h0m0 3h0m0 17h0m0 21h0m1-52h0m0 12h0m0 3h0m1-9h0m0 6h0m0 2h0m0 18h0m1 27h0m1-27h0m0 12h0m1-10h0m1-7h0m1-5h0m0 30h0m2-10h0m1-15h0m2-18h0m0 27h0m1-4h0m0 14h0m0 4h0m0 5h0m1-49h0m0 2h0m0 7h0m0 15h0m0 6h0m1 32h0m1-37h0m0 37h0m2-72h0m2 37h0m0 2h0m0 34h0m1-65h0m0 26h0m1-14h0m0 4h0m0 1h0m0 5h0m0 5h0m3-15h0m0 37h0m1-19h0m0 12h0m1-35h0m0 66h0m1-53h0m0 10h0m0 11h0m1-57h0m0 38h0m1 17h0m0 22h0m2-80h0m0 60h0m1 0h0m0 18h0m1-84h0m0 28h0m0 5h0m0 13h0m0 13h0m1 4h0m0 7h0m0 13h0m1-69h0m0 22h0m0 32h0m1-53h0m0 61h0m1-57h0m1 22h0m0 43h0m1-47h0m0 19h0m0 13h0m1 24h0m1-100h0m0 40h0m1-8h0m2 27h0m0 11h0m0 14h0m1-11h0m1-4h0m1-56h0m1 0h0m0 24h0m0 50h0m1-52h0m0 8h0m0 32h0m2 2h0m1-28h0m0 9h0m1 4h0m1 12h0m0 11h0m1-52h0m0 9h0m0 21h0m0 10h0m1-63h0m0 8h0m0 4h0m0 59h0m2-46h0m0 22h0m0 12h0m0 16h0m1-43h0m0 8h0m0 6h0m0 8h0m0 9h0m0 7h0m1-57h0m1 6h0m0 12h0m0 26h0m0 20h0m1-71h0m1 8h0m0 39h0m0 4h0m1-40h0m1 7h0m0 45h0m1-6h0m0 5h0m0 3h0m1-65h0m0 15h0m0 52h0m1-69h0m1 7h0m0 31h0m0 11h0m1-28h0m1-21h0m0 18h0m0 16h0m0 1h0m0 9h0m1-41h0m1 67h0m1-61h0m0 2h0m0 1h0m0 16h0m1-5h0m0 23h0m0 31h0m1-47h0m0 30h0m1-39h0m2 5h0m0 37h0m1-11h0m1-16h0m1 14h0m1-6h0m0 20h0m1-61h0m0 7h0m0 69h0m2-90h0m0 31h0m0 38h0m1-19h0m1 28h0m1-60h0m0 23h0m1 52h0m1-51h0m0 8h0m0 17h0m1-13h0m1-63h0m0 82h0m1-32h0m0 4h0m1 20h0m1-36h0m0 24h0m0 37h0m1-64h0m0 44h0m0 1h0m2-25h0m1 3h0m1 8h0m0 3h0m1-4h0m1-43h0m2 42h0m1-1h0m1-40h0m0 48h0m0 9h0m0 11h0m0 20h0m1-66h0m0 24h0m0 1h0m2-45h0m0 15h0m0 16h0m1-29h0m0 23h0m0 5h0m0 15h0m0 25h0m0 16h0m1-9h0m1-68h0m0 11h0m1-20h0m0 16h0m0 64h0m1-55h0m0 17h0m0 19h0m1-10h0m1 7h0m1-26h0m0 9h0m0 41h0m1-68h0m1-4h0m0 63h0m1-54h0m1-13h0m0 20h0m0 7h0m0 9h0m1-1h0m0 22h0m2-77h0m1 66h0m0 3h0m0 3h0m0 14h0m1-40h0m0 26h0m1-59h0m1-3h0m0 9h0m0 1h0m0 7h0m1-12h0m0 15h0m0 36h0m0 24h0m1-94h0m0 49h0m0 9h0m0 8h0m1-21h0m1-5h0m1 13h0m0 27h0m1-36h0m2-4h0m0 50h0m2-79h0m0 64h0m1-32h0m0 17h0m1-32h0m1-1h0m0 33h0m2 5h0m0 12h0m2-29h0m0 19h0m1-66h0m0 18h0m0 11h0m0 1h0m0 2h0m0 34h0m1-47h0m0 13h0m0 41h0m1-18h0m1-37h0m0 25h0m0 6h0m1 3h0m0 2h0m1-57h0m1 15h0m1 57h0m1-21h0m1-26h0m0 9h0m1 27h0m0 6h0m0 20h0m1-40h0m0 8h0m1-42h0m0 18h0m0 29h0m0 4h0m1-38h0m0 2h0m1-9h0m0 19h0m1-43h0m0 28h0m0 21h0m1-8h0m0 9h0m0 32h0m1 22h0m2-11h0m1-44h0m1-15h0m0 2h0m0 10h0m0 12h0m1-24h0m0 26h0m0 36h0m1-60h0m0 3h0m0 28h0m0 1h0m1-22h0m0 12h0m0 17h0m1-71h0m0 25h0m0 33h0m1-63h0m0 13h0m0 21h0m1 1h0m0 25h0m1-15h0m3 12h0m0 14h0m1-13h0m0 24h0m1-70h0m0 4h0m0 9h0m0 10h0m0 41h0m0 21h0m0 3h0m1-78h0m0 47h0m1-72h0m0 11h0m0 20h0m1-18h0m0 5h0m0 2h0m0 37h0m0 3h0m0 1h0m0 12h0m1-67h0m0 28h0m0 38h0m1-66h0m0 76h0m1-80h0m1 65h0m1 17h0m1-63h0m1 14h0m0 31h0m0 29h0m1-52h0m0 33h0m1-67h0m0 32h0m0 43h0m1-74h0m0 8h0m0 2h0m1 14h0m0 29h0m1-25h0m3 15h0m0 5h0m1-58h0m0 4h0m0 33h0m1-15h0m0 20h0m2-37h0m0 49h0m0 11h0m0 14h0m1-47h0m0 35h0m1-20h0m1 32h0m0 9h0m0 4h0m2-68h0m3 8h0m0 9h0m0 3h0m0 36h0m1-61h0m0 5h0m0 3h0m0 35h0m0 5h0m1-57h0m0 69h0m0 7h0m1-56h0m0 47h0m0 5h0m1-81h0m0 67h0m0 1h0m1-21h0m0 14h0m0 20h0m1-4h0m1-44h0m2-30h0m1 41h0m1-31h0m0 30h0m0 2h0m0 1h0m1 3h0m1-45h0m0 15h0m0 23h0m0 6h0m0 3h0m0 11h0m0 6h0m1-30h0m0 5h0m0 1h0m0 43h0m1-73h0m0 23h0m0 3h0m0 16h0m0 3h0m1-2h0m5-32h0m0 18h0m0 12h0m0 3h0m0 5h0m0 13h0m1-53h0m0 30h0m1-73h0m0 13h0m0 1h0m0 1h0m0 17h0m0 37h0m0 9h0m0 19h0m1-86h0m0 41h0m0 8h0m0 6h0m0 8h0m0 4h0m0 6h0m0 8h0m0 5h0m0 5h0m0 3h0m1-78h0m0 59h0m1-54h0m0 19h0m0 14h0m2-26h0m2 18h0m3 32h0m1-89h0m0 14h0m0 4h0m0 6h0m0 25h0m0 4h0m0 36h0m0 6h0m0 5h0m1-86h0m0 17h0m0 10h0m0 8h0m0 3h0m0 40h0m1-76h0m0 9h0m0 3h0m0 15h0m0 21h0m0 2h0m0 9h0m0 34h0m1-28h0m1-47h0m0 33h0m1-29h0m3 57h0m1-66h0m0 4h0m0 44h0m0 18h0m1-82h0m0 26h0m0 35h0m0 5h0m1-90h0m0 26h0m0 6h0m0 4h0m0 36h0m0 4h0m0 8h0m0 1h0m0 17h0m0 12h0m1-62h0m0 24h0m0 18h0m1-83h0m0 42h0m1 54h0m4-54h0m0 39h0m1-41h0m1-13h0m0 60h0m0 1h0m1-71h0m0 14h0m0 3h0m0 15h0m0 40h0m0 9h0m1-110h0m0 36h0m0 2h0m0 1h0m0 3h0m0 10h0m0 23h0m0 12h0m0 23h0m1-105h0m0 62h0m0 25h0m1-63h0m1-15h0m0 42h0m3-35h0m1 1h0m0 9h0m1-33h0m0 15h0m0 10h0m0 10h0m0 1h0m0 6h0m0 31h0m1-87h0m0 25h0m0 2h0m0 47h0m0 1h0m1-59h0m0 2h0m0 25h0m0 20h0m1-40h0m0 67h0m0 8h0m1-86h0m0 10h0m0 12h0m0 34h0m0 17h0m0 16h0m1-99h0m4 63h0m1 16h0m1-102h0m0 45h0m0 19h0m0 19h0m0 8h0m0 2h0m0 2h0m0 16h0m0 7h0m1-113h0m0 19h0m0 40h0m0 4h0m0 10h0m0 1h0m1-78h0m0 40h0m0 24h0m0 7h0m0 20h0m1-74h0m0 44h0m0 5h0m0 16h0m0 28h0m0 26h0m1-67h0m0 12h0m0 12h0m0 19h0m1-61h0m4-19h0m0 64h0m2-98h0m0 13h0m0 16h0m0 43h0m0 20h0m0 3h0m1-99h0m0 16h0m0 24h0m0 14h0m0 1h0m0 16h0m0 27h0m0 26h0m1-73h0m0 4h0m0 12h0m0 14h0m0 7h0m1-62h0m0 60h0m1-57h0m3 24h0m0 46h0m1 5h0m1-97h0m0 131h0m1-108h0m0 13h0m0 35h0m0 39h0m0 13h0m1-100h0m0 31h0m0 27h0m0 34h0m0 1h0m1-134h0m0 27h0m0 13h0m0 11h0m0 10h0m0 2h0m0 23h0m0 10h0m0 9h0m0 26h0m1-112h0m0 17h0m0 21h0m0 13h0m0 1h0m0 15h0m0 18h0m1-68h0m0 47h0m1-70h0m0 41h0m0 25h0m0 15h0m0 8h0m2-91h0m3-7h0m0 5h0m0 20h0m0 6h0m0 51h0m0 7h0m0 18h0m1-112h0m0 4h0m0 13h0m0 7h0m0 3h0m0 1h0m0 1h0m0 7h0m0 18h0m0 55h0m1-75h0m0 3h0m0 9h0m0 18h0m0 8h0m0 42h0m0 1h0m0 1h0m0 5h0m0 2h0m0 8h0m0 20h0m1-144h0m0 41h0m0 16h0m0 34h0m0 21h0m0 9h0m1-52h0m0 10h0m0 24h0m0 22h0m1-110h0m1 100h0m0 6h0m2-119h0m1 108h0m1-109h0m0 44h0m0 64h0m1-128h0m0 16h0m0 9h0m0 28h0m0 9h0m0 8h0m0 1h0m0 31h0m0 5h0m1-91h0m0 13h0m0 26h0m0 1h0m0 1h0m0 4h0m0 4h0m0 8h0m1-58h0m0 8h0m0 47h0m0 9h0m0 19h0m0 22h0m0 21h0m1-133h0m0 21h0m0 6h0m0 6h0m0 11h0m0 13h0m0 18h0m0 40h0m1-105h0m0 18h0m0 104h0m1-115h0m0 118h0m1-69h0m3-59h0m0 81h0m0 6h0m1-94h0m0 3h0m0 72h0m0 3h0m1-64h0m0 14h0m0 19h0m0 7h0m0 5h0m0 1h0m0 29h0m0 4h0m0 1h0m0 6h0m1-91h0m0 7h0m0 34h0m0 10h0m0 8h0m0 30h0m1-82h0m0 9h0m0 13h0m0 3h0m0 10h0m0 37h0m1-81h0m0 21h0m0 4h0m0 23h0m0 3h0m0 17h0m0 9h0m1-5h0m0 10h0m0 9h0m0 11h0m1-105h0m2 22h0m1 33h0m0 25h0m0 37h0m1-123h0m0 101h0m0 7h0m1-101h0m0 25h0m0 14h0m0 2h0m0 3h0m0 27h0m0 6h0m0 11h0m1-103h0m0 29h0m0 47h0m0 9h0m0 3h0m1-73h0m0 18h0m0 2h0m0 4h0m0 3h0m0 10h0m0 2h0m0 18h0m0 6h0m0 23h0m0 15h0m0 30h0m1-136h0m0 7h0m0 35h0m0 21h0m0 8h0m0 11h0m0 5h0m0 20h0m0 18h0m1-100h0m0 57h0m0 21h0m1-77h0m0 88h0m1-10h0m1-79h0m0 53h0m1-64h0m0 11h0m1 77h0m1-74h0m0 10h0m0 58h0m1-67h0m0 10h0m0 16h0m0 17h0m0 16h0m0 4h0m0 20h0m0 7h0m0 12h0m1-115h0m0 8h0m0 9h0m0 6h0m0 25h0m0 2h0m0 57h0m0 8h0m0 7h0m1-152h0m0 26h0m0 8h0m0 4h0m0 2h0m0 20h0m0 8h0m0 7h0m0 35h0m0 1h0m0 7h0m1-82h0m0 9h0m0 22h0m0 29h0m0 6h0m0 1h0m0 6h0m0 39h0m1 4h0m1-93h0m5 14h0m0 13h0m0 10h0m0 7h0m0 30h0m1-96h0m0 4h0m0 12h0m0 6h0m0 4h0m0 13h0m0 38h0m0 16h0m0 30h0m1-130h0m0 14h0m0 20h0m0 7h0m0 42h0m0 6h0m0 15h0m0 10h0m0 2h0m0 15h0m1-137h0m0 32h0m0 5h0m0 9h0m0 3h0m0 16h0m0 10h0m1-54h0m0 86h0m0 9h0m0 3h0m1-37h0m0 33h0m1-94h0m2 59h0m1-8h0m1 64h0m1-73h0m1-28h0m0 2h0m0 4h0m0 50h0m0 8h0m0 3h0m0 1h0m0 1h0m0 8h0m0 31h0m1-112h0m0 2h0m0 15h0m0 1h0m0 2h0m0 8h0m0 9h0m0 52h0m1-88h0m0 10h0m0 11h0m0 67h0m0 13h0m1-96h0m0 65h0m0 15h0m0 25h0m4 12h0m1-101h0m0 24h0m0 2h0m1 49h0m0 11h0m0 25h0m1-134h0m0 13h0m0 28h0m0 31h0m0 22h0m0 3h0m0 30h0m1-59h0m0 20h0m0 18h0m0 6h0m0 12h0m1-75h0m0 9h0m0 12h0m0 28h0m0 8h0m0 31h0m1-127h0m0 62h0m0 5h0m0 16h0m0 18h0m6-10h0m0 13h0m1-56h0m1-45h0m0 14h0m0 33h0m0 42h0m0 26h0m0 1h0m0 20h0m1-113h0m0 87h0m0 18h0m0 3h0m1-123h0m0 17h0m0 64h0m0 37h0m0 5h0m1-84h0m3-27h0m2 108h0m1-93h0m0 9h0m0 38h0m0 23h0m1-90h0m0 18h0m0 4h0m0 9h0m0 3h0m0 16h0m0 26h0m0 1h0m0 12h0m0 33h0m1-115h0m0 30h0m0 19h0m0 20h0m0 19h0m0 5h0m0 5h0m0 12h0m1-127h0m0 33h0m0 3h0m0 44h0m0 10h0m0 6h0m0 17h0m0 9h0m0 8h0m1-113h0m0 5h0m0 21h0m0 27h0m0 1h0m4-62h0m1 17h0m1 46h0m1-31h0m0 7h0m0 66h0m1-57h0m0 20h0m0 12h0m0 46h0m1-123h0m0 24h0m0 26h0m0 10h0m0 1h0m0 3h0m0 3h0m0 7h0m0 34h0m0 11h0m1-56h0m0 37h0m0 8h0m0 9h0m1-98h0m1 43h0m3-22h0m1-24h0m1-10h0m0 18h0m0 3h0m0 4h0m0 29h0m0 65h0m0 6h0m1-71h0m0 18h0m0 18h0m0 7h0m0 8h0m1-67h0m0 11h0m0 55h0m1-98h0m0 24h0m0 51h0m0 19h0m0 3h0m0 17h0m1-97h0m5 73h0m1 13h0m1-110h0m0 63h0m0 10h0m0 3h0m1-45h0m0 3h0m0 48h0m1-72h0m0 3h0m0 3h0m0 13h0m0 27h0m0 12h0m0 40h0m0 1h0m0 12h0m1-91h0m0 39h0m0 44h0m0 3h0m1-43h0m0 45h0m1-111h0m3 110h0m1-47h0m0 8h0m0 1h0m1-14h0m1-23h0m0 53h0m0 5h0m1-81h0m0 9h0m0 46h0m0 1h0m0 10h0m0 12h0m0 6h0m1-108h0m0 21h0m0 17h0m0 10h0m0 58h0m1-84h0m0 33h0m0 28h0m0 24h0m0 2h0m0 1h0m0 3h0m1-68h0m0 63h0m5-90h0m0 8h0m0 24h0m0 15h0m1-72h0m0 49h0m0 31h0m0 35h0m1-89h0m0 16h0m0 7h0m0 30h0m0 39h0m0 3h0m1-104h0m0 19h0m0 4h0m0 8h0m0 56h0m0 1h0m1-95h0m0 90h0m0 17h0m2-21h0m1-41h0m2 63h0m1 31h0m2-134h0m0 39h0m0 8h0m0 6h0m0 16h0m0 3h0m0 12h0m0 24h0m1-102h0m0 48h0m0 15h0m0 11h0m0 17h0m0 3h0m1-61h0m0 16h0m0 38h0m0 13h0m0 7h0m0 12h0m1-109h0m0 6h0m0 11h0m0 34h0m1-61h0m5 1h0m0 2h0m0 11h0m0 17h0m0 48h0m0 7h0m1-68h0m0 4h0m0 63h0m1-85h0m0 34h0m0 14h0m0 26h0m1-79h0m0 39h0m0 19h0m0 34h0m0 19h0m1-117h0m0 22h0m0 44h0m0 9h0m1-63h0m0 70h0m0 16h0m1-57h0m0 9h0m0 24h0m2 26h0m1 15h0m1-106h0m0 8h0m1 25h0m0 57h0m1-82h0m0 20h0m0 12h0m0 11h0m0 28h0m1-9h0m1-59h0m0 35h0m0 55h0m1-93h0m0 32h0m0 36h0m0 1h0m0 14h0m0 5h0m0 3h0m0 8h0m0 2h0m0 10h0m1-27h0m1-17h0m0 9h0m3-49h0m0 35h0m1 43h0m0 4h0m1-48h0m0 36h0m1-100h0m0 14h0m0 62h0m0 4h0m0 40h0m0 9h0m1-74h0m0 1h0m0 15h0m0 24h0m1-98h0m0 22h0m0 4h0m1 43h0m0 16h0m0 2h0m1-69h0m0 98h0m3-71h0m1 13h0m0 28h0m1-58h0m0 68h0m1-79h0m0 3h0m0 16h0m0 4h0m0 1h0m0 12h0m1-17h0m0 45h0m0 6h0m0 10h0m1-66h0m0 1h0m1 31h0m1 55h0m1-22h0m0 14h0m2-72h0m0 34h0m1-50h0m1 94h0m2-85h0m0 31h0m0 55h0m0 8h0m1-99h0m0 28h0m0 11h0m0 41h0m1-65h0m1 28h0m2-56h0m0 19h0m0 6h0m1 8h0m0 19h0m0 8h0m1-46h0m0 31h0m1 56h0m0 7h0m1-75h0m0 18h0m1 3h0m0 46h0m1-87h0m0 50h0m1-37h0m0 29h0m1-57h0m0 54h0m0 39h0m0 13h0m1-44h0m1 6h0m0 15h0m1-66h0m0 49h0m2 7h0m1-60h0m0 55h0m1-26h0m0 60h0m0 1h0m0 16h0m1-78h0m0 25h0m1-24h0m1 33h0m0 12h0m1-48h0m0 37h0m1-55h0m0 41h0m0 27h0m1-18h0m0 6h0m0 5h0m0 12h0m0 14h0m1-65h0m0 43h0m0 1h0m0 1h0m0 16h0m1-95h0m0 72h0m2-57h0m0 34h0m0 1h0m0 14h0m0 31h0m1-28h0m1-68h0m0 50h0m0 4h0m0 30h0m1-54h0m0 17h0m0 30h0m0 14h0m1-90h0m0 3h0m0 23h0m0 29h0m0 31h0m0 7h0m1-90h0m0 14h0m0 12h0m1 27h0m0 26h0m1-57h0m2-6h0m0 2h0m0 38h0m1-60h0m0 20h0m0 3h0m0 79h0m1-37h0m1-30h0m0 23h0m1-49h0m0 17h0m0 38h0m1-42h0m0 16h0m0 42h0m1-17h0m0 8h0m0 18h0m0 14h0m1-84h0m0 8h0m0 10h0m0 3h0m0 1h0m0 35h0m1-5h0m1 5h0m0 9h0m1-64h0m1 32h0m1 34h0m1-73h0m0 32h0m0 1h0m0 22h0m0 2h0m1-14h0m1-34h0m0 7h0m0 16h0m1-22h0m0 42h0m0 10h0m1-18h0m1-56h0m0 7h0m0 31h0m0 11h0m0 15h0m1 16h0m1-69h0m0 52h0m2-34h0m0 12h0m0 12h0m0 12h0m1-48h0m0 18h0m0 17h0m1-48h0m0 74h0m1-2h0m1-57h0m0 5h0m0 38h0m1 11h0m0 9h0m1-41h0m1 2h0m0 6h0m1 36h0m1-62h0m0 58h0m0 8h0m1-20h0m0 12h0m1-72h0m1 48h0m1-67h0m0 53h0m0 45h0m1-81h0m0 44h0m0 8h0m1-20h0m1 26h0m1-64h0m1 42h0m0 20h0m0 9h0m1-64h0m0 18h0m0 39h0m0 32h0m2-90h0m0 69h0m1-63h0m0 71h0m1-73h0m0 11h0m0 36h0m1-20h0m0 32h0m1-54h0m0 6h0m1 12h0m0 27h0m1-24h0m0 16h0m1-64h0m0 69h0m0 27h0m1-43h0m0 23h0m0 19h0m1-69h0m0 11h0m0 1h0m0 56h0m1-68h0m0 12h0m0 1h0m0 14h0m1-32h0m1 7h0m0 38h0m0 7h0m1-35h0m0 27h0m0 10h0m1-15h0m0 33h0m0 1h0m1-13h0m0 4h0m0 4h0m1-64h0m0 10h0m0 9h0m0 53h0m2-78h0m0 85h0m1-72h0m0 6h0m0 18h0m1 22h0m1-51h0m0 20h0m0 45h0m1-56h0m0 1h0m0 17h0m0 8h0m0 8h0m1-30h0m1-12h0m0 9h0m0 28h0m0 9h0m0 4h0m0 25h0m1-64h0m0 27h0m1-21h0m0 13h0m1-26h0m1 32h0m1-13h0m1 15h0m0 26h0m1-60h0m0 7h0m0 27h0m0 11h0m2 4h0m1-43h0m1-20h0m0 9h0m0 26h0m1-25h0m0 24h0m0 12h0m0 23h0m1-3h0m1-55h0m0 23h0m0 55h0m1-89h0m0 24h0m0 13h0m2-11h0m0 21h0m0 20h0m0 6h0m1-80h0m0 25h0m1-8h0m0 9h0m0 5h0m0 43h0m1-34h0m0 49h0m1-44h0m0 41h0m1-48h0m1 15h0m0 20h0m1-42h0m1 40h0m2-45h0m0 3h0m0 5h0m1 0h0m0 11h0m0 1h0m0 30h0m0 2h0m1-68h0m1 33h0m0 25h0m1-46h0m0 21h0m0 46h0m1-69h0m0 30h0m0 22h0m1-44h0m0 38h0m1 19h0m1-54h0m0 16h0m0 45h0m1-85h0m0 14h0m0 24h0m0 13h0m1-31h0m0 39h0m1-36h0m1-1h0m0 7h0m0 1h0m0 24h0m0 22h0m0 3h0m1-69h0m0 24h0m0 19h0m0 9h0m0 6h0m0 7h0m2-13h0m1-60h0m0 52h0m2-30h0m0 70h0m1-86h0m0 2h0m0 3h0m0 8h0m0 5h0m0 12h0m0 21h0m1-32h0m1-7h0m0 16h0m0 22h0m1-10h0m0 5h0m1-42h0m0 27h0m1-47h0m0 4h0m0 18h0m0 17h0m0 19h0m2 17h0m0 8h0m1-50h0m2-26h0m0 8h0m0 31h0m0 29h0m2-48h0m1-1h0m1-3h0m0 5h0m0 28h0m1-29h0m0 19h0m0 13h0m0 7h0m1-31h0m0 15h0m0 12h0m0 11h0m1-46h0m0 25h0m0 6h0m0 20h0m0 4h0m1-10h0m0 18h0m1-62h0m1 35h0m0 3h0m1-42h0m0 56h0m1-50h0m1 7h0m0 19h0m0 17h0m1-35h0m0 7h0m1-33h0m0 33h0m0 39h0m1-73h0m0 42h0m0 11h0m1-67h0m0 44h0m0 7h0m1 35h0m2-71h0m0 7h0m0 17h0m0 19h0m0 1h0m0 7h0m1-30h0m1 25h0m0 1h0m1-40h0m0 19h0m0 10h0m0 9h0m1-46h0m0 49h0m0 2h0m0 3h0m1-51h0m0 3h0m0 12h0m0 9h0m1 7h0m0 33h0m1-71h0m1 29h0m0 14h0m0 3h0m1-15h0m0 22h0m1-15h0m0 37h0m1-30h0m0 24h0m0 3h0m1-6h0m0 1h0m0 8h0m1-73h0m0 37h0m0 29h0m1-34h0m1 20h0m0 6h0m0 11h0m1-13h0m0 25h0m1-94h0m0 22h0m0 8h0m0 1h0m0 26h0m1-42h0m0 38h0m0 45h0m1-86h0m0 30h0m0 19h0m0 6h0m1 5h0m0 10h0m1 8h0m0 5h0m2-85h0m0 24h0m0 7h0m1 1h0m1-11h0m0 17h0m0 9h0m1-43h0m0 14h0m0 36h0m1-45h0m0 37h0m0 11h0m2-45h0m0 18h0m0 29h0m1-60h0m1 47h0m0 30h0m0 4h0m0 1h0m3-61h0m0 38h0m1 14h0m1-50h0m0 16h0m0 30h0m1-22h0m0 6h0m0 16h0m1-23h0m1-6h0m0 9h0m1-44h0m0 19h0m0 16h0m0 5h0m3 10h0m0 14h0m1-48h0m1 57h0m1-7h0m0 13h0m1-25h0m1-2h0m1 8h0m1-72h0m0 64h0m0 20h0m1-22h0m0 9h0m1-8h0m0 29h0m1-40h0m1 15h0m0 3h0m1-9h0m0 29h0m1-34h0m0 4h0m1-48h0m0 7h0m0 18h0m0 8h0m0 38h0m1-74h0m0 24h0m1 18h0m1-6h0m1-15h0m0 48h0m1-74h0m0 58h0m0 6h0m0 9h0m0 3h0m2-52h0m0 16h0m0 3h0m1 12h0m1-35h0m0 21h0m0 15h0m1 13h0m1-6h0m0 9h0m2-30h0m1 32h0m0 15h0m1-67h0m0 3h0m0 33h0m0 9h0m1-41h0m1 0h0m0 6h0m0 28h0m0 20h0m0 6h0m1-42h0m0 34h0m1-59h0m0 3h0m0 22h0m0 20h0m1-21h0m1-4h0m0 20h0m1-15h0m0 15h0m0 34h0m1-65h0m1 18h0m3 42h0m1-62h0m0 47h0m1-52h0m0 23h0m0 11h0m0 21h0m1-66h0m0 27h0m1-21h0m0 53h0m1-42h0m0 15h0m0 14h0m0 16h0m1-31h0m0 18h0m1-22h0m0 33h0m1-41h0m0 37h0m0 5h0m2-54h0m0 56h0m1-44h0m0 34h0" stroke="#000" stroke-width="3.0" stroke-linecap="square" stroke-opacity="0.7" fill="none"/>
<path transform="scale(0.5)" d="M96 1195h0m1-29h0m0 29h0m0 6h0m1-15h0m0 14h0m0 12h0m1-76h0m0 19h0m0 27h0m0 32h0m1-34h0m1-52h0m0 58h0m0 3h0m0 4h0m1-36h0m0 37h0m0 22h0m0 1h0m1-72h0m0 28h0m0 42h0m3-20h0m0 20h0m1-58h0m0 16h0m0 41h0m1-64h0m0 56h0m1-47h0m1 22h0m1-32h0m0 8h0m0 43h0m1-46h0m0 1h0m0 67h0m1-75h0m0 57h0m0 13h0m1-59h0m0 28h0m0 7h0m1-41h0m1 4h0m0 8h0m0 25h0m1-44h0m0 3h0m0 19h0m0 6h0m0 2h0m0 8h0m0 6h0m2-50h0m0 12h0m0 8h0m0 24h0m1 1h0m0 30h0m1-66h0m0 26h0m2-33h0m0 31h0m2-1h0m0 11h0m0 3h0m0 25h0m1-57h0m0 24h0m0 29h0m0 3h0m1-74h0m0 40h0m1-16h0m0 17h0m0 1h0m0 40h0m1-53h0m0 16h0m1-4h0m0 12h0m1 2h0m1-28h0m2-33h0m0 27h0m0 19h0m0 6h0m0 10h0m1-28h0m0 29h0m1-29h0m0 3h0m2-14h0m1 37h0m1-17h0m1-22h0m0 12h0m0 22h0m1-25h0m0 5h0m1-8h0m1 2h0m0 12h0m0 14h0m0 13h0m1-64h0m0 77h0m1-56h0m0 26h0m0 15h0m0 2h0m1-23h0m0 1h0m0 14h0m0 17h0m1-61h0m0 8h0m1-3h0m0 5h0m0 3h0m0 7h0m1-32h0m1 0h0m0 23h0m0 8h0m1 15h0m1-42h0m0 8h0m0 39h0m0 3h0m0 23h0m2-63h0m0 22h0m1-9h0m0 22h0m0 1h0m1-3h0m0 1h0m1-49h0m0 30h0m0 8h0m0 18h0m4-28h0m0 2h0m0 16h0m0 32h0m1-52h0m0 25h0m1-10h0m1-39h0m0 40h0m0 11h0m0 21h0m1-47h0m0 4h0m0 32h0m1-42h0m0 33h0m1-41h0m0 7h0m0 12h0m1 39h0m1-38h0m0 33h0m0 27h0m1-69h0m0 17h0m0 13h0m0 5h0m1-5h0m0 34h0m1-43h0m1-37h0m0 21h0m1-12h0m0 51h0m1-36h0m0 6h0m0 14h0m1-26h0m0 9h0m0 27h0m0 5h0m1-14h0m0 12h0m1-8h0m1-47h0m0 3h0m0 28h0m2 16h0m0 4h0m0 17h0m1-24h0m0 5h0m2-63h0m0 23h0m0 4h0m0 33h0m1-27h0m0 2h0m0 1h0m0 30h0m2-37h0m0 4h0m1 28h0m1-36h0m0 26h0m0 16h0m2-37h0m1 10h0m0 10h0m0 17h0m1-24h0m1-16h0m0 33h0m0 11h0m1-48h0m0 54h0m1-53h0m1-1h0m0 3h0m0 2h0m0 27h0m1 23h0m0 25h0m1-44h0m1 2h0m0 12h0m1-74h0m0 60h0m1 8h0m1-30h0m0 24h0m0 5h0m1-17h0m1-23h0m0 11h0m1-12h0m1 22h0m0 17h0m0 4h0m0 9h0m0 4h0m2-30h0m1-31h0m1 5h0m0 38h0m1-46h0m0 11h0m0 38h0m1-9h0m0 9h0m1-17h0m1-36h0m0 40h0m1-48h0m1 30h0m1-5h0m0 8h0m0 24h0m1-17h0m0 8h0m0 8h0m1-53h0m0 16h0m0 19h0m1-17h0m1 7h0m0 26h0m2-2h0m0 23h0m1-57h0m0 15h0m0 32h0m1-9h0m0 18h0m1-38h0m0 2h0m1 43h0m1-68h0m0 16h0m0 13h0m0 30h0m0 22h0m1-101h0m0 20h0m0 29h0m0 9h0m1-29h0m0 9h0m0 8h0m0 18h0m1-33h0m0 51h0m1-54h0m0 13h0m0 37h0m1-63h0m0 5h0m0 58h0m1-40h0m3-17h0m0 3h0m0 13h0m0 7h0m0 12h0m1 13h0m1-59h0m0 25h0m0 10h0m2-19h0m1 37h0m0 3h0m1-32h0m2-21h0m0 32h0m1 18h0m0 14h0m0 3h0m1-31h0m0 22h0m0 13h0m1-43h0m0 7h0m2-29h0m0 57h0m0 6h0m1-64h0m0 6h0m1 10h0m0 7h0m0 17h0m2-39h0m0 60h0m1-74h0m0 18h0m0 19h0m0 10h0m0 13h0m1-49h0m1-9h0m0 4h0m0 10h0m0 21h0m0 53h0m1-70h0m0 17h0m3-36h0m1-14h0m0 39h0m0 3h0m1 1h0m0 27h0m0 33h0m1-98h0m0 6h0m0 43h0m1-16h0m0 2h0m1-13h0m0 51h0m1-41h0m0 39h0m0 24h0m1-51h0m1-2h0m1-14h0m0 4h0m0 52h0m0 11h0m1-23h0m0 24h0m1-69h0m0 10h0m0 1h0m1-12h0m0 60h0m1-3h0m0 7h0m1-58h0m0 57h0m1-79h0m0 24h0m2 45h0m1-56h0m0 32h0m0 4h0m0 4h0m0 8h0m1-24h0m0 3h0m0 26h0m1-27h0m0 17h0m1-49h0m0 17h0m1 0h0m0 29h0m1-27h0m1-21h0m0 71h0m1-13h0m1-55h0m0 6h0m0 15h0m0 26h0m1-1h0m1-47h0m1 34h0m0 38h0m0 11h0m3-72h0m1-11h0m0 4h0m0 25h0m0 13h0m0 6h0m0 1h0m0 15h0m3-39h0m0 21h0m0 6h0m0 13h0m1-33h0m0 24h0m1-42h0m0 22h0m0 3h0m0 16h0m1-60h0m0 40h0m0 14h0m0 8h0m1-33h0m0 25h0m0 10h0m0 11h0m1-52h0m0 26h0m0 2h0m0 4h0m1-53h0m0 50h0m0 1h0m1-12h0m0 7h0m0 2h0m0 8h0m1-18h0m0 27h0m1-47h0m0 9h0m1-24h0m0 2h0m0 19h0m0 27h0m0 27h0m1-35h0m0 11h0m1-55h0m0 44h0m0 25h0m0 5h0m1-59h0m0 38h0m0 9h0m1-69h0m0 37h0m1 26h0m1-27h0m1-20h0m0 57h0m1-29h0m0 17h0m0 9h0m0 7h0m1-21h0m0 4h0m1-51h0m0 22h0m0 12h0m0 6h0m1-32h0m0 35h0m0 20h0m0 9h0m1-61h0m0 28h0m1-40h0m0 21h0m0 4h0m1 0h0m1-42h0m0 54h0m1-41h0m1 71h0m1-50h0m1 1h0m0 2h0m0 20h0m1 24h0m1-14h0m1 38h0m1-66h0m0 4h0m0 19h0m1-31h0m0 11h0m0 6h0m1-10h0m0 9h0m2-20h0m0 29h0m0 11h0m0 15h0m1-55h0m1 34h0m1 38h0m1-72h0m1 24h0m0 8h0m1-34h0m0 70h0m1-34h0m0 28h0m1-60h0m0 1h0m0 23h0m0 33h0m1-52h0m0 14h0m0 7h0m1-39h0m1 13h0m1 36h0m1-39h0m1-2h0m0 35h0m0 15h0m0 31h0m1-68h0m0 63h0m1-73h0m1-9h0m0 29h0m0 17h0m1-42h0m0 24h0m0 19h0m1-35h0m1 4h0m0 27h0m1-54h0m0 74h0m1-53h0m0 23h0m0 26h0m1-16h0m0 21h0m1-69h0m0 13h0m0 15h0m0 7h0m0 35h0m1-28h0m1-9h0m0 13h0m1-56h0m0 39h0m0 13h0m0 8h0m0 24h0m0 11h0m2-99h0m1 19h0m1-1h0m0 27h0m1-25h0m2 53h0m1-25h0m0 17h0m0 17h0m1-29h0m0 9h0m1-43h0m0 13h0m0 14h0m0 23h0m0 36h0m1-76h0m1 6h0m0 5h0m0 5h0m0 31h0m0 1h0m1-57h0m0 16h0m0 8h0m0 1h0m0 18h0m1-38h0m0 24h0m2-32h0m2 24h0m0 14h0m1 5h0m0 4h0m0 6h0m0 11h0m1-33h0m0 8h0m1-44h0m0 6h0m0 10h0m0 27h0m0 2h0m0 31h0m0 3h0m1-38h0m0 2h0m0 3h0m1-52h0m0 13h0m0 36h0m0 25h0m0 16h0m1-76h0m3 58h0m1 14h0m1-59h0m1 25h0m0 7h0m0 3h0m0 1h0m0 4h0m1-88h0m0 43h0m0 11h0m0 31h0m0 12h0m0 15h0m1-83h0m0 13h0m1 15h0m1-10h0m2 3h0m3-20h0m0 59h0m1-61h0m0 16h0m0 22h0m0 35h0m1-18h0m1-70h0m0 82h0m1-76h0m0 16h0m0 6h0m0 2h0m0 34h0m0 8h0m0 20h0m1-31h0m1-46h0m5 42h0m0 31h0m0 12h0m1-100h0m0 39h0m0 5h0m0 15h0m0 18h0m1-72h0m0 52h0m0 12h0m0 6h0m0 10h0m1-89h0m0 45h0m0 17h0m0 12h0m0 16h0m1-78h0m0 5h0m0 34h0m0 8h0m1-54h0m0 12h0m0 8h0m0 43h0m0 19h0m3-46h0m2 7h0m0 8h0m1-54h0m0 30h0m0 33h0m1-69h0m0 11h0m0 22h0m0 1h0m0 40h0m0 23h0m0 14h0m1-42h0m0 31h0m0 4h0m1-97h0m0 42h0m1-35h0m0 67h0m0 4h0m1-58h0m0 5h0m0 9h0m0 7h0m0 22h0m0 22h0m1-89h0m4 57h0m0 28h0m1-86h0m1 13h0m0 12h0m0 5h0m0 4h0m0 38h0m1-66h0m0 21h0m0 6h0m0 4h0m0 2h0m0 3h0m0 12h0m0 42h0m0 3h0m1-80h0m0 13h0m0 33h0m0 8h0m0 11h0m1-57h0m0 9h0m0 2h0m0 58h0m1-47h0m2 16h0m2-41h0m1-16h0m0 8h0m0 33h0m0 12h0m0 7h0m0 21h0m1-55h0m0 26h0m0 23h0m0 4h0m1-67h0m0 27h0m0 7h0m0 16h0m0 1h0m0 23h0m0 7h0m1-95h0m0 4h0m0 28h0m0 19h0m1-39h0m0 6h0m0 8h0m0 5h0m0 6h0m0 28h0m0 15h0m1-5h0m1-73h0m5 5h0m1-27h0m0 27h0m0 14h0m0 11h0m0 7h0m0 1h0m0 48h0m1-49h0m0 8h0m0 1h0m0 1h0m0 36h0m1-87h0m0 28h0m0 15h0m0 37h0m2-72h0m0 19h0m1-27h0m5 3h0m0 67h0m1-75h0m0 6h0m0 19h0m0 39h0m1-52h0m0 6h0m0 22h0m0 5h0m0 5h0m0 2h0m1-47h0m0 14h0m0 31h0m0 28h0m0 8h0m1-90h0m0 13h0m0 43h0m0 10h0m0 2h0m5 20h0m1-83h0m0 16h0m0 9h0m0 12h0m0 29h0m1-62h0m0 17h0m0 13h0m0 22h0m1-83h0m0 42h0m0 4h0m0 10h0m0 19h0m0 1h0m0 1h0m0 17h0m1-88h0m0 35h0m0 13h0m0 3h0m0 12h0m1-60h0m0 5h0m0 6h0m0 39h0m0 61h0m1-116h0m0 21h0m3 30h0m1-11h0m1-37h0m0 73h0m1-90h0m0 40h0m0 4h0m0 10h0m0 2h0m0 29h0m1-86h0m0 6h0m0 28h0m0 1h0m0 8h0m0 9h0m0 7h0m0 4h0m0 4h0m0 2h0m0 14h0m0 2h0m0 21h0m0 2h0m1-108h0m0 20h0m0 4h0m0 23h0m0 14h0m0 32h0m1-90h0m0 19h0m0 11h0m0 2h0m0 3h0m0 38h0m0 8h0m0 20h0m0 1h0m1-63h0m0 3h0m3-52h0m1 131h0m1-127h0m0 34h0m0 18h0m0 5h0m0 14h0m0 22h0m2-66h0m0 1h0m0 1h0m0 28h0m0 1h0m0 11h0m1-50h0m0 17h0m0 8h0m0 4h0m0 19h0m0 10h0m0 5h0m1-72h0m0 4h0m0 3h0m0 12h0m0 31h0m0 16h0m0 12h0m0 3h0m1-116h0m0 29h0m0 16h0m0 61h0m0 10h0m0 8h0m1-26h0m2 29h0m2-79h0m0 62h0m1-106h0m0 93h0m1-74h0m0 17h0m0 11h0m0 17h0m0 9h0m0 37h0m0 23h0m1-111h0m0 8h0m0 28h0m0 36h0m1-79h0m0 11h0m0 12h0m0 9h0m0 8h0m0 6h0m0 36h0m1-90h0m0 38h0m0 67h0m1-96h0m0 27h0m2-27h0m2 30h0m1 4h0m1-57h0m0 7h0m0 32h0m0 4h0m0 10h0m0 15h0m0 16h0m0 2h0m1-79h0m0 19h0m0 1h0m0 3h0m0 7h0m0 10h0m0 18h0m0 4h0m0 17h0m0 36h0m0 7h0m1-144h0m0 29h0m0 7h0m0 17h0m0 19h0m0 9h0m0 63h0m1-108h0m0 7h0m0 29h0m0 8h0m0 2h0m0 3h0m0 51h0m1-40h0m0 10h0m0 17h0m0 6h0m0 4h0m0 2h0m1-91h0m0 21h0m1-4h0m0 47h0m2-88h0m2 56h0m0 26h0m1-99h0m0 47h0m0 4h0m0 6h0m0 22h0m0 40h0m0 9h0m0 19h0m1-130h0m0 30h0m0 4h0m0 3h0m0 9h0m0 7h0m0 69h0m1-148h0m0 15h0m0 23h0m0 5h0m0 4h0m0 7h0m0 34h0m0 8h0m0 8h0m0 32h0m0 5h0m0 16h0m1-105h0m0 9h0m0 47h0m0 20h0m0 4h0m1-74h0m0 55h0m0 19h0m0 7h0m0 2h0m4-35h0m1-41h0m0 73h0m1-106h0m0 43h0m0 13h0m0 11h0m0 9h0m1-94h0m0 12h0m0 6h0m0 35h0m0 35h0m0 14h0m0 10h0m0 2h0m0 13h0m0 3h0m1-131h0m0 21h0m0 12h0m0 6h0m0 33h0m0 9h0m0 17h0m1-111h0m0 5h0m0 4h0m0 10h0m0 4h0m0 43h0m0 22h0m0 13h0m0 33h0m1-100h0m0 61h0m1-47h0m0 2h0m5-43h0m0 5h0m0 30h0m0 38h0m0 6h0m0 26h0m1-119h0m0 75h0m0 7h0m0 2h0m0 10h0m0 12h0m1-88h0m0 16h0m0 28h0m0 23h0m0 2h0m0 35h0m0 15h0m1-20h0m0 1h0m1-100h0m0 38h0m0 3h0m0 9h0m0 44h0m0 25h0m1-112h0m0 34h0m0 32h0m0 59h0m2-141h0m4-2h0m0 18h0m0 33h0m0 18h0m0 43h0m1-98h0m0 12h0m0 10h0m0 5h0m0 14h0m0 2h0m0 20h0m0 13h0m0 18h0m0 3h0m1-106h0m0 33h0m0 5h0m0 13h0m0 32h0m0 35h0m0 5h0m1-115h0m0 2h0m0 16h0m0 1h0m0 5h0m0 4h0m0 1h0m0 2h0m0 22h0m0 23h0m0 1h0m0 13h0m0 7h0m0 8h0m1-125h0m0 17h0m0 1h0m0 6h0m0 1h0m0 23h0m0 21h0m0 22h0m0 23h0m1-59h0m0 1h0m0 28h0m0 8h0m4-63h0m0 77h0m1-68h0m0 10h0m0 17h0m0 16h0m0 36h0m0 17h0m1-124h0m0 15h0m0 38h0m0 8h0m0 5h0m0 1h0m0 40h0m0 2h0m1-113h0m0 22h0m0 9h0m0 22h0m0 10h0m0 11h0m0 31h0m0 6h0m0 1h0m0 23h0m1-135h0m0 17h0m0 5h0m0 9h0m0 30h0m0 10h0m0 18h0m0 5h0m0 2h0m0 22h0m0 1h0m1-56h0m0 36h0m0 26h0m1-71h0m0 2h0m0 20h0m1-14h0m0 54h0m4-49h0m0 22h0m1-34h0m0 26h0m0 36h0m0 1h0m0 22h0m1-136h0m0 31h0m0 14h0m0 42h0m0 4h0m1-61h0m0 4h0m0 2h0m0 6h0m0 26h0m0 24h0m0 23h0m0 7h0m1-94h0m0 18h0m0 5h0m0 2h0m0 15h0m0 18h0m0 2h0m0 23h0m0 18h0m1-107h0m0 10h0m0 16h0m0 58h0m0 25h0m1-75h0m5 29h0m0 16h0m0 1h0m1-77h0m0 4h0m0 22h0m0 15h0m0 13h0m0 54h0m1-104h0m0 16h0m0 1h0m0 8h0m0 12h0m0 2h0m0 19h0m0 7h0m0 22h0m0 7h0m1-95h0m0 27h0m0 5h0m0 10h0m0 18h0m0 8h0m0 5h0m0 8h0m0 10h0m0 12h0m0 8h0m1-84h0m0 37h0m0 42h0m0 2h0m1-80h0m0 83h0m1 14h0m4-88h0m1-3h0m0 17h0m0 3h0m0 55h0m1-117h0m0 22h0m0 3h0m0 25h0m0 28h0m0 1h0m0 50h0m1-99h0m0 16h0m0 3h0m0 17h0m0 63h0m0 1h0m1-138h0m0 5h0m0 30h0m0 6h0m0 12h0m0 4h0m0 28h0m0 7h0m0 3h0m0 36h0m0 15h0m1-115h0m0 18h0m0 3h0m0 10h0m0 15h0m0 14h0m0 17h0m1-39h0m0 14h0m5 17h0m0 50h0m0 15h0m1-124h0m0 6h0m0 23h0m0 27h0m0 5h0m0 10h0m0 36h0m1-107h0m0 27h0m0 11h0m0 21h0m0 3h0m0 13h0m0 2h0m0 41h0m1-121h0m0 20h0m0 18h0m0 6h0m0 4h0m0 5h0m0 7h0m0 32h0m0 9h0m0 3h0m1-52h0m0 20h0m0 12h0m1-64h0m0 16h0m0 25h0m0 6h0m0 22h0m0 6h0m5-14h0m0 9h0m0 34h0m0 17h0m1-113h0m0 2h0m0 15h0m0 47h0m1-40h0m0 32h0m0 8h0m1-73h0m0 2h0m0 24h0m0 5h0m0 3h0m0 21h0m0 23h0m1-70h0m0 5h0m0 3h0m0 3h0m0 11h0m0 8h0m0 6h0m0 28h0m0 13h0m0 31h0m1-118h0m0 49h0m0 19h0m0 31h0m1-99h0m0 10h0m0 62h0m0 36h0m4-56h0m2 23h0m1-60h0m0 56h0m2-72h0m0 17h0m0 4h0m0 10h0m0 23h0m0 21h0m0 18h0m0 9h0m2-86h0m0 46h0m0 1h0m0 4h0m2 18h0m3-47h0m1-31h0m0 28h0m0 14h0m0 12h0m0 39h0m0 15h0m1-66h0m0 5h0m0 12h0m0 12h0m0 19h0m1-83h0m0 3h0m0 14h0m0 26h0m0 31h0m0 3h0m0 10h0m1-99h0m0 18h0m0 1h0m0 78h0m0 21h0m1-61h0m0 55h0m4-59h0m2-39h0m0 26h0m0 22h0m0 45h0m1-110h0m0 54h0m0 60h0m0 8h0m1-124h0m0 31h0m0 13h0m0 71h0m0 10h0m0 11h0m1-84h0m0 12h0m0 47h0m0 21h0m1-120h0m0 9h0m0 29h0m0 12h0m0 28h0m0 43h0m1-28h0m0 9h0m1-80h0m3-16h0m1 60h0m0 16h0m0 13h0m1-55h0m0 25h0m0 54h0m1-113h0m0 4h0m0 47h0m0 1h0m0 13h0m0 21h0m0 26h0m1-112h0m0 34h0m0 32h0m0 2h0m0 14h0m0 18h0m0 9h0m0 3h0m0 7h0m1-119h0m0 3h0m0 13h0m0 5h0m0 31h0m0 9h0m0 4h0m0 14h0m1-31h0m1-19h0m4 74h0m1-92h0m0 63h0m0 59h0m1-115h0m0 47h0m0 17h0m0 32h0m1-111h0m0 13h0m0 7h0m0 3h0m0 13h0m0 6h0m0 9h0m0 9h0m0 9h0m1-33h0m0 1h0m0 10h0m0 35h0m0 36h0m1-119h0m0 41h0m0 4h0m0 32h0m0 20h0m1-44h0m1-41h0m0 44h0m0 39h0m4-57h0m0 23h0m0 40h0m0 15h0m1-107h0m0 3h0m0 46h0m0 10h0m0 6h0m0 23h0m0 6h0m1-76h0m0 15h0m0 6h0m0 9h0m0 24h0m1-47h0m0 1h0m0 9h0m0 72h0m1-78h0m0 2h0m0 7h0m0 9h0m0 31h0m0 1h0m1-61h0m0 13h0m1-30h0m0 21h0m1 37h0m4-27h0m0 74h0m0 3h0m1-75h0m0 7h0m0 25h0m0 29h0m0 6h0m1-78h0m0 11h0m0 3h0m0 73h0m1-41h0m0 22h0m1-91h0m1 64h0m1-58h0m0 110h0m2-27h0m1-16h0m1-46h0m0 14h0m1-32h0m0 42h0m0 5h0m0 30h0m1-58h0m0 12h0m0 4h0m0 34h0m1-40h0m0 6h0m0 8h0m0 25h0m0 20h0m0 14h0m1-109h0m0 50h0m0 5h0m0 16h0m0 40h0m1-91h0m0 60h0m1-70h0m4 9h0m1 22h0m0 38h0m1-50h0m0 52h0m0 7h0m0 7h0m1-66h0m0 10h0m0 15h0m0 14h0m0 34h0m0 9h0m1-124h0m0 11h0m0 18h0m0 21h0m0 19h0m0 7h0m1-50h0m0 24h0m0 6h0m0 1h0m0 27h0m1-44h0m0 38h0m2-21h0m1-2h0m1-7h0m1 4h0m0 15h0m0 16h0m0 14h0m1-82h0m0 63h0m0 8h0m0 19h0m0 8h0m0 10h0m1-96h0m0 36h0m0 30h0m0 20h0m2-121h0m0 17h0m0 14h0m0 11h0m0 32h0m0 6h0m0 53h0m1-72h0m0 51h0m1-30h0m0 28h0m0 20h0m1-83h0m2 24h0m1 17h0m0 10h0m1-41h0m0 21h0m0 7h0m0 3h0m0 22h0m1-69h0m0 10h0m1-5h0m0 9h0m0 17h0m0 2h0m0 20h0m0 33h0m0 8h0m1-82h0m0 74h0m1-76h0m0 60h0m1-64h0m0 29h0m1-10h0m1 6h0m0 43h0m0 1h0m0 8h0m2-4h0m1-97h0m0 50h0m1 7h0m1 25h0m1-78h0m0 33h0m0 7h0m0 3h0m0 12h0m0 21h0m0 11h0m1-11h0m0 27h0m1-24h0m1-5h0m1-52h0m0 17h0m1-11h0m2-36h0m0 28h0m0 53h0m1-52h0m1 38h0m1-40h0m0 5h0m0 12h0m0 21h0m0 22h0m1-74h0m0 32h0m0 1h0m0 11h0m0 38h0m0 10h0m1-79h0m1 65h0m1-7h0m1-39h0m0 5h0m0 8h0m1 10h0m1 32h0m1-43h0m1 10h0m0 14h0m0 15h0m0 1h0m0 9h0m1-85h0m0 72h0m1-60h0m0 35h0m0 8h0m1-35h0m1-17h0m0 6h0m0 12h0m0 16h0m0 8h0m0 52h0m1-109h0m0 17h0m0 4h0m0 7h0m0 3h0m0 7h0m1-18h0m0 31h0m0 51h0m1-91h0m0 20h0m0 28h0m1-47h0m0 25h0m1-43h0m1 34h0m0 41h0m1-71h0m0 39h0m1-31h0m0 32h0m0 29h0m1-59h0m1 51h0m0 25h0m1-61h0m0 16h0m0 33h0m1-18h0m0 2h0m0 17h0m1-24h0m0 8h0m0 6h0m0 22h0m1-46h0m0 15h0m1-33h0m0 10h0m1 28h0m1-25h0m1-7h0m0 44h0m0 6h0m0 1h0m1-86h0m0 24h0m0 4h0m0 40h0m0 16h0m1-65h0m0 71h0m1-80h0m1 27h0m1-5h0m0 55h0m1-28h0m0 7h0m1-42h0m1 34h0m0 19h0m2-39h0m0 2h0m0 32h0m0 18h0m0 13h0m1-58h0m0 19h0m0 23h0m1-65h0m0 33h0m0 16h0m0 27h0m1-47h0m0 28h0m0 3h0m1-64h0m0 36h0m0 15h0m0 15h0m1-52h0m0 15h0m0 47h0m1-33h0m0 9h0m1 13h0m1-64h0m0 19h0m0 39h0m1-10h0m0 28h0m1-47h0m1-38h0m0 29h0m0 8h0m0 53h0m0 9h0m1-34h0m0 9h0m1-69h0m0 28h0m0 67h0m1-83h0m0 36h0m0 1h0m1-7h0m1-42h0m1 13h0m0 23h0m0 10h0m2-11h0m0 14h0m0 23h0m0 13h0m1-36h0m0 24h0m1-65h0m1-3h0m0 77h0m1-27h0m0 4h0m0 14h0m0 9h0m1-41h0m0 15h0m0 16h0m1-47h0m0 2h0m0 15h0m0 15h0m1-42h0m0 12h0m0 13h0m0 1h0m1-45h0m0 25h0m1 57h0m1-11h0m0 21h0m1 5h0m1-96h0m0 53h0m1-43h0m0 30h0m0 4h0m0 19h0m1-40h0m1 14h0m0 22h0m0 17h0m0 12h0m1-18h0m0 11h0m1-64h0m0 24h0m0 4h0m0 2h0m0 11h0m1-13h0m1-14h0m0 35h0m1 11h0m1-18h0m1-34h0m0 27h0m0 36h0m1-7h0m1-47h0m0 4h0m0 14h0m0 12h0m1-36h0m0 3h0m0 29h0m0 33h0m1-80h0m0 30h0m0 23h0m2-47h0m1 5h0m1-16h0m0 1h0m0 27h0m0 36h0m1-41h0m1 11h0m0 1h0m0 13h0m1-12h0m0 4h0m0 41h0m0 4h0m1-66h0m0 34h0m0 27h0m1-43h0m0 21h0m1-39h0m0 28h0m1-48h0m0 75h0m0 8h0m1-84h0m0 23h0m0 31h0m0 3h0m0 21h0m1-91h0m0 50h0m0 4h0m1-43h0m0 46h0m0 5h0m2-52h0m1 32h0m0 41h0m1-52h0m0 26h0m1-30h0m0 20h0m1-8h0m0 27h0m0 3h0m0 7h0m1-51h0m0 19h0m0 4h0m0 23h0m1-44h0m0 40h0m1-23h0m1-25h0m0 10h0m0 16h0m0 29h0m1-67h0m0 44h0m1-32h0m0 6h0m0 33h0m1-11h0m0 18h0m1-29h0m0 30h0m1-45h0m0 22h0m0 5h0m1-12h0m1-16h0m0 19h0m0 25h0m2-35h0m1-16h0m0 60h0m3-41h0m0 2h0m0 20h0m1-34h0m0 38h0m0 19h0m1-26h0m1-15h0m1 4h0m0 13h0m0 9h0m1-31h0m0 58h0m1-43h0m0 14h0m0 6h0m1-34h0m0 35h0m0 5h0m1-12h0m0 3h0m1-34h0m0 73h0m1-86h0m0 34h0m0 1h0m0 5h0m0 5h0m0 33h0m1-21h0m1 5h0m0 13h0m1-38h0m1-29h0m0 41h0m0 14h0m0 5h0m1-63h0m0 21h0m1-28h0m0 49h0m0 24h0m0 11h0m1-50h0m0 5h0m0 8h0m1 19h0m1-30h0m1 20h0m0 2h0m2-16h0m0 3h0m1-27h0m0 23h0m0 8h0m0 15h0m0 1h0m1-13h0m1 24h0m1-61h0m0 34h0m0 10h0m1-47h0m0 20h0m1-25h0m0 20h0m0 31h0m1-39h0m0 34h0m1-37h0m0 27h0m0 12h0m1-22h0m0 31h0m1-71h0m0 67h0m1-40h0m0 23h0m0 20h0m0 19h0m1-24h0m1-40h0m0 22h0m0 10h0m0 23h0m1-50h0m0 12h0m1-12h0m0 25h0m0 19h0m0 15h0m1-49h0m0 7h0m1 3h0m1-10h0m0 30h0m1-30h0m0 2h0m0 12h0m1-6h0m0 4h0m0 8h0m0 14h0m0 1h0m1-45h0m0 24h0m0 7h0m0 2h0m1-41h0m1-10h0m0 31h0m0 1h0m0 46h0m1-10h0m0 15h0m1-51h0m0 28h0m1-44h0m0 24h0m2-44h0m0 3h0m0 28h0m0 11h0m0 5h0m0 14h0m1-42h0m0 15h0m0 20h0m1 5h0m1-43h0m0 23h0m0 14h0m1-40h0m0 2h0m0 13h0m0 28h0m0 18h0m1-58h0m0 11h0m1-35h0m0 10h0m0 50h0m1-58h0m0 18h0m0 40h0m0 5h0m1-20h0m0 19h0m1-39h0m0 2h0m0 5h0m0 1h0m0 5h0m0 4h0m0 17h0m1-44h0m0 7h0m1 40h0m0 3h0m1 6h0m1-22h0m1-34h0m0 13h0m1 12h0m1-4h0m1 33h0m0 1h0m0 9h0m1-6h0m1-45h0m1-17h0m0 14h0m0 2h0m0 15h0m1 17h0m1 5h0m1-36h0m0 21h0m0 26h0m1-54h0m1 61h0m1-69h0m1-4h0m0 26h0m1-29h0m0 3h0m0 6h0m0 48h0m0 19h0m1-28h0m1-37h0m0 43h0m1-17h0m0 5h0m0 7h0m0 4h0m1-36h0m0 12h0m0 30h0m0 2h0m1-28h0m1-38h0m0 46h0m0 12h0m0 12h0m0 4h0m0 19h0m1-78h0m0 28h0m0 5h0m1-47h0m1 54h0m0 13h0m0 3h0m0 2h0m0 13h0m1-35h0m0 18h0m1-41h0m0 17h0m0 5h0m0 28h0m1-79h0m0 3h0m0 39h0m0 10h0m1-11h0m1-8h0m0 7h0m0 19h0m0 1h0m0 7h0m0 19h0m1-69h0m0 6h0m0 21h0m1-26h0m0 19h0m0 4h0m0 38h0m1-35h0m1-31h0m0 2h0m0 50h0m1-60h0m0 29h0m1-3h0m0 12h0m1-40h0m0 17h0m0 6h0m0 22h0m1 8h0m1-40h0m0 29h0m0 35h0m1-13h0m1-52h0m0 34h0m0 8h0m0 3h0m1-15h0m0 14h0m1-37h0m0 2h0m0 19h0m1-24h0m0 4h0m0 15h0m1-25h0m0 10h0m0 18h0m1-23h0m0 6h0m1-12h0m0 50h0m1-47h0m0 45h0m1-15h0m0 21h0m1-27h0m1 4h0m1-15h0m0 20h0m0 16h0m0 1h0m1-43h0m0 51h0m0 11h0m1-42h0m0 8h0m0 5h0m1-54h0m0 12h0m0 3h0m0 46h0m1-38h0m0 24h0m1-10h0m0 6h0m1-21h0m0 43h0m1-45h0m0 3h0m0 3h0m0 15h0m0 20h0m1-12h0m0 13h0m0 18h0m1-58h0m0 51h0m1-57h0m0 77h0m1-80h0m0 36h0m0 18h0m1-27h0m0 1h0m1-33h0m0 31h0m0 15h0m0 9h0m2-42h0m0 4h0m1 57h0m0 8h0m1-77h0m0 15h0m1-18h0m0 45h0m1-38h0m0 14h0m0 2h0m0 3h0m0 8h0m0 34h0m1-58h0m0 15h0m0 4h0m1-6h0m0 1h0m0 29h0m1-40h0m0 62h0m1-30h0m1-34h0m0 6h0m0 44h0m1-61h0m0 8h0m1 1h0m1 14h0m0 14h0m1-6h0m0 5h0m0 4h0m0 9h0m1-36h0m0 39h0m0 22h0m1 2h0" stroke="#000" stroke-width="3.0" stroke-linecap="square" stroke-opacity="0.7" fill="none"/>
<path transform="scale(0.5)" d="M97 1110h0m0 57h0m0 116h0m1-108h0m0 88h0m3-159h0m0 37h0m0 187h0m1-156h0m0 60h0m1-18h0m0 53h0m2-53h0m2-92h0m2-42h0m1-59h0m1 214h0m0 30h0m1-159h0m4 69h0m3 137h0m2-12h0m2-249h0m0 69h0m0 163h0m1-28h0m3 31h0m2-179h0m0 31h0m0 93h0m0 84h0m2-300h0m0 218h0m1-132h0m0 169h0m1-164h0m0 76h0m0 51h0m0 7h0m0 88h0m3-92h0m3-112h0m1 198h0m2-186h0m1 64h0m0 80h0m1-203h0m0 22h0m0 76h0m1-123h0m0 142h0m0 84h0m1-37h0m2-167h0m0 242h0m1-73h0m0 44h0m1-177h0m1 8h0m0 118h0m0 15h0m1-42h0m4 4h0m0 62h0m1-249h0m0 270h0m1-253h0m0 198h0m0 45h0m0 4h0m1-210h0m2 129h0m0 89h0m0 2h0m3-249h0m0 77h0m0 45h0m1-69h0m1 79h0m2 62h0m0 60h0m1-122h0m0 123h0m3-188h0m0 78h0m0 61h0m2-47h0m0 60h0m3-4h0m4-175h0m0 25h0m0 167h0m2-83h0m3 43h0m1-145h0m1 61h0m1 70h0m0 19h0m0 41h0m6-156h0m0 124h0m1-71h0m0 68h0m0 65h0m1-201h0m0 113h0m0 17h0m1 2h0m1-168h0m0 28h0m0 139h0m1-166h0m0 75h0m0 55h0m1-10h0m0 89h0m1 1h0m2-177h0m0 99h0m1-221h0m1 264h0m1-228h0m1 11h0m2 89h0m1-80h0m0 203h0m2-68h0m1 86h0m1-27h0m0 37h0m3-131h0m1-29h0m2-48h0m1 86h0m0 149h0m1-88h0m1 5h0m0 25h0m2-90h0m0 50h0m0 56h0m0 15h0m1-165h0m5-85h0m0 49h0m0 49h0m1 47h0m0 66h0m0 23h0m0 29h0m2-38h0m0 6h0m1-28h0m0 83h0m3-200h0m0 222h0m1-243h0m0 140h0m1-110h0m1-125h0m2 147h0m1 31h0m1 109h0m2-200h0m1-13h0m0 42h0m1-78h0m0 209h0m0 38h0m0 23h0m1 34h0m3-174h0m0 66h0m1-131h0m0 156h0m2 4h0m1 68h0m1-271h0m0 137h0m0 77h0m0 94h0m1-156h0m0 34h0m1-3h0m1-147h0m1 69h0m0 114h0m1 89h0m3-346h0m1 21h0m0 174h0m1 8h0m1-229h0m1 12h0m0 172h0m1-101h0m4 123h0m1-105h0m0 41h0m1-50h0m0 190h0m1-200h0m0 38h0m0 164h0m0 10h0m1-83h0m0 189h0m3-205h0m1-113h0m0 175h0m1-218h0m0 17h0m0 194h0m2 10h0m2-26h0m0 1h0m1 84h0m1-80h0m0 18h0m0 11h0m1-154h0m2 143h0m1 53h0m1-74h0m0 50h0m1-88h0m1 25h0m3-115h0m0 33h0m0 87h0m2-165h0m2 247h0m2-65h0m2-115h0m0 114h0m0 34h0m1-229h0m1 55h0m1 97h0m0 76h0m0 2h0m1-162h0m0 140h0m2-149h0m0 168h0m1-30h0m4-113h0m0 79h0m0 41h0m1-146h0m0 124h0m3 14h0m2 27h0m1-129h0m0 125h0m1-3h0m1 27h0m2 26h0m1-83h0m1-186h0m1 15h0m2 255h0m3-223h0m0 45h0m2-51h0m0 232h0m3-223h0m0 231h0m1-118h0m0 81h0m4-43h0m1-2h0m2 36h0m1-123h0m1 113h0m1-157h0m0 26h0m1-58h0m2 33h0m0 156h0m1-188h0m0 172h0m1-139h0m1 118h0m1-126h0m1-2h0m0 32h0m1 108h0m0 18h0m1-176h0m1 164h0m0 3h0m1-146h0m1-48h0m0 114h0m0 58h0m2 9h0m0 36h0m3-61h0m0 92h0m1 14h0m1-248h0m0 221h0m1-241h0m0 35h0m0 118h0m0 44h0m4 11h0m2-167h0m1 66h0m1-89h0m0 159h0m1 6h0m3-183h0m2 69h0m3 55h0m0 105h0m0 6h0m1-272h0m0 88h0m0 12h0m1 159h0m1-35h0m0 2h0m0 25h0m1-215h0m1-1h0m1 136h0m0 26h0m3 57h0m1-31h0m0 72h0m1-269h0m2 227h0m0 25h0m1-22h0m2-190h0m0 26h0m1 144h0m2 33h0m1-236h0m0 71h0m1 11h0m1 92h0m0 15h0m2-165h0m2 72h0m1 137h0m1-251h0m0 103h0m1 143h0m1-5h0m1-108h0m0 43h0m1 154h0m3-257h0m0 173h0m1-162h0m1 235h0m2 9h0m3-75h0m2-33h0m0 50h0m4-136h0m1-96h0m0 13h0m0 127h0m0 122h0m1-264h0m0 156h0m0 23h0m1 34h0m1-201h0m0 27h0m1 68h0m0 101h0m1 3h0m1-176h0m1 60h0m1 49h0m1 4h0m0 21h0m1 16h0m0 18h0m2-240h0m2 71h0m0 45h0m2-79h0m1-70h0m0 34h0m3-38h0m2 210h0m2-146h0m0 42h0m1-112h0m0 235h0m1-186h0m0 33h0m0 3h0m0 151h0m0 7h0m2-159h0m1 1h0m0 16h0m2 55h0m3-107h0m0 28h0m3 172h0m1-244h0m1 93h0m1-35h0m4-1h0m1 11h0m2 83h0m1-125h0m4 39h0m0 71h0m0 44h0m4-150h0m0 55h0m1-71h0m0 76h0m0 108h0m0 12h0m0 29h0m0 7h0m1-23h0m3 8h0m5-243h0m0 6h0m0 199h0m1-87h0m2-99h0m1-27h0m0 24h0m0 17h0m2 161h0m0 63h0m2-8h0m2-80h0m1-131h0m0 152h0m2-180h0m0 71h0m0 20h0m1-78h0m0 23h0m2-24h0m5-54h0m0 2h0m0 17h0m0 72h0m0 91h0m0 69h0m0 23h0m4-31h0m1-219h0m3 46h0m1 39h0m0 115h0m3-194h0m0 3h0m2-18h0m1-6h0m0 15h0m1 212h0m1-219h0m2 14h0m2-44h0m0 25h0m2 17h0m0 40h0m0 7h0m0 132h0m0 28h0m1-210h0m1 174h0m1-183h0m0 193h0m1-167h0m5 170h0m1-169h0m0 4h0m1-2h0m1-71h0m2 238h0m4-80h0m1-133h0m1 127h0m2-116h0m1 106h0m1-103h0m0 28h0m5 90h0m1-76h0m1-46h0m0 39h0m0 175h0m0 18h0m1-185h0m0 49h0m0 72h0m1-130h0m2 159h0m1-150h0m2-4h0m1-30h0m2 26h0m1 112h0m2-90h0m2-51h0m1 250h0m3-22h0m0 7h0m1-171h0m0 27h0m0 170h0m1-197h0m1-1h0m0 61h0m0 47h0m2-100h0m1 127h0m3 45h0m2 51h0m1-118h0m0 95h0m1-30h0m1-184h0m0 172h0m1-131h0m1 208h0m2 5h0m2-181h0m3 72h0m2-137h0m3 10h0m1 20h0m3 148h0m0 58h0m1-225h0m1 180h0m0 20h0m0 88h0m1-291h0m0 255h0m0 19h0m3-256h0m0 166h0m0 66h0m3-142h0m1-128h0m0 202h0m1 2h0m1 4h0m5-1h0m2 82h0m2-106h0m1 75h0m2-248h0m0 204h0m0 47h0m1-229h0m2 44h0m5 143h0m1-16h0m2-149h0m0 54h0m1-32h0m0 10h0m1-45h0m2 41h0m1 151h0m3-164h0m0 58h0m0 124h0m0 13h0m1-207h0m0 196h0m1-35h0m1-181h0m0 193h0m3-225h0m0 49h0m0 61h0m0 1h0m0 145h0m1-216h0m0 278h0m1-272h0m0 119h0m0 83h0m2-23h0m1 5h0m1-1h0m2-203h0m0 194h0m0 55h0m2-39h0m3-199h0m3 184h0m0 67h0m1-189h0m0 120h0m0 65h0m1-213h0m1 183h0m1-30h0m1 67h0m2-203h0m2-38h0m0 171h0m1-153h0m1 138h0m1 17h0m0 68h0m1-71h0m1-204h0m2 25h0m3 266h0m1-90h0m1-174h0m2 152h0m0 46h0m1-6h0m1-109h0m2-76h0m0 201h0m0 72h0m3-95h0m0 17h0m2-200h0m1-30h0m2 29h0m1 141h0m2 88h0m1-170h0m2 134h0m0 30h0m0 1h0m1-202h0m1 11h0m0 143h0m1 60h0m1-49h0m1-101h0m2-25h0m0 105h0m2-167h0m1 208h0m2-98h0m2-1h0m1-139h0m0 305h0m1-244h0m0 63h0m0 154h0m1-201h0m0 158h0m1 0h0m1-194h0m0 187h0m1-151h0m1-42h0m1 99h0m0 145h0m2-31h0m0 11h0m0 139h0m4-8h0m1-187h0m1-41h0m0 73h0m1 30h0m1-143h0m1 75h0m0 29h0m2-142h0m0 125h0m0 12h0m2-19h0m0 42h0m2-172h0m4-13h0m0 175h0m1-3h0m1-154h0m0 6h0m0 6h0m3 66h0m1 100h0m2-81h0m0 82h0m1 93h0m2-394h0m0 280h0m1-115h0m1-17h0m2 150h0m1-231h0m0 255h0m1-311h0m0 96h0m1-40h0m0 226h0m2-217h0m1-46h0m1 138h0m0 103h0m0 105h0m1-48h0m1-274h0m0 222h0m2-256h0m0 258h0m0 37h0m1-29h0m5-47h0m0 73h0m1 26h0m2-276h0m0 223h0m1-51h0m0 33h0m1-161h0m1 231h0m1-255h0m0 173h0m2-150h0m0 118h0m0 37h0m0 52h0m2-63h0m1-149h0m1 232h0m0 7h0m2-192h0m0 58h0m1-111h0m2-26h0m0 180h0m0 63h0m1-94h0m0 116h0m1-57h0m2-5h0m1 51h0m1-109h0m3 5h0m2 59h0m1-199h0m0 168h0m1-186h0m0 151h0m2-136h0m0 35h0m0 51h0m2-31h0m0 8h0m0 115h0m1-118h0m2 97h0m0 50h0m1-9h0m1-12h0m1 47h0m1-207h0m1 30h0m0 130h0m3-163h0m0 111h0m2 68h0m1 26h0m2-203h0m0 67h0m0 136h0m2-223h0m0 114h0m0 22h0m1-71h0m0 71h0m0 13h0m0 37h0m2-208h0m0 70h0m1 141h0m0 26h0m1-202h0m0 152h0m0 143h0m1 8h0m1-187h0m0 30h0m2-33h0m2-44h0m1-87h0m0 188h0m2-108h0m1 64h0m5-92h0m0 104h0m1-114h0m1 45h0m3 6h0m0 117h0m3-159h0m1-4h0m0 258h0m1-284h0m0 115h0m0 161h0m2-100h0m3-135h0m1 156h0m4-115h0m1 131h0m1-249h0m1 8h0m1 39h0m3 131h0m0 35h0m1-70h0m0 70h0m1-133h0m1-42h0m0 14h0m0 192h0m1-227h0m0 114h0m2 53h0m1 28h0m1 0h0m1-196h0m0 191h0m3-239h0m0 85h0m0 8h0m1-87h0m0 208h0m1-78h0m0 48h0m2-265h0m0 306h0m1 61h0m3-291h0m0 215h0m1 49h0m1-87h0m0 98h0m1-38h0m1-204h0m4 47h0m0 202h0m1-61h0m0 8h0m1 12h0m1-162h0m1 137h0m2 18h0m1-152h0m1-12h0m2 123h0m2 65h0m2-10h0m1-176h0m2-37h0m0 97h0m2 15h0m0 94h0m1-86h0m0 77h0m0 18h0m3-35h0m0 44h0m1-4h0m1-59h0m2-39h0m4 145h0m2-270h0m1 141h0m1-52h0m1-83h0m0 39h0m0 242h0m4-34h0m2-204h0m0 134h0m0 20h0m1-9h0m1-14h0m0 104h0m4-48h0m3-228h0m0 139h0m2 14h0m3 38h0m1-148h0m1 30h0m0 63h0m1 72h0m1 0h0m2-166h0m1 140h0m2-49h0m1-162h0m1 61h0m1 150h0m1-68h0m1 16h0m1-96h0m0 182h0m1-198h0m5 149h0m1 27h0m1-8h0m1-15h0m0 14h0m4-107h0m0 103h0m1-101h0" stroke="#000" stroke-width="3.0" stroke-linecap="square" stroke-opacity="0.6" fill="none"/>
<path transform="scale(0.5)" d="M96 1144h0m3-13h0m1-45h0m0 218h0m3-123h0m1-71h0m0 137h0m1-149h0m0 153h0m4-208h0m0 53h0m0 176h0m2-43h0m0 58h0m2-167h0m0 20h0m0 73h0m0 43h0m0 19h0m1 34h0m1-219h0m0 216h0m0 38h0m7-276h0m1 202h0m1-99h0m0 24h0m0 95h0m1-34h0m0 73h0m1-238h0m0 47h0m0 138h0m0 8h0m2-117h0m1-67h0m0 107h0m0 28h0m1-154h0m0 164h0m1-99h0m4 75h0m1-144h0m2 42h0m0 86h0m0 68h0m2-42h0m3 110h0m1-191h0m0 52h0m1-115h0m1-8h0m0 164h0m1-80h0m2-48h0m0 206h0m2-68h0m1-195h0m0 5h0m3 154h0m1-58h0m0 119h0m1-208h0m0 127h0m0 94h0m2-3h0m2-55h0m1-176h0m0 12h0m0 28h0m0 164h0m0 11h0m1-228h0m1 91h0m1 94h0m1-161h0m0 25h0m0 107h0m3 22h0m1 13h0m2-186h0m0 46h0m0 211h0m1-132h0m2 127h0m3-226h0m0 142h0m3-122h0m0 187h0m1-184h0m0 117h0m0 39h0m1-22h0m1-7h0m0 39h0m1-40h0m0 7h0m1-119h0m0 18h0m0 103h0m2-83h0m0 23h0m0 75h0m1-134h0m1-78h0m3 2h0m0 197h0m2 28h0m0 76h0m2-33h0m1-46h0m3-147h0m0 109h0m2-118h0m0 104h0m1 85h0m2-148h0m0 22h0m0 66h0m2-106h0m0 116h0m0 29h0m1-56h0m1 21h0m0 26h0m1-168h0m0 11h0m2 131h0m0 53h0m1-19h0m1-34h0m0 22h0m1-271h0m0 15h0m0 159h0m0 111h0m2-69h0m0 81h0m3-55h0m1-186h0m0 50h0m0 208h0m1-52h0m1-175h0m0 192h0m0 40h0m1-106h0m0 28h0m0 30h0m2 40h0m1-222h0m0 76h0m1-37h0m0 94h0m3-153h0m2 155h0m0 71h0m1 13h0m1 3h0m2-52h0m1-12h0m1-108h0m0 72h0m0 121h0m1-275h0m0 89h0m0 120h0m1-24h0m2-76h0m0 132h0m0 46h0m1-313h0m2-16h0m1 145h0m3 131h0m2-136h0m3 135h0m1-156h0m2-122h0m3 104h0m2 79h0m0 70h0m0 32h0m1-233h0m0 144h0m1-172h0m1 75h0m1-64h0m0 225h0m0 9h0m1-202h0m1 151h0m0 72h0m1-287h0m3 220h0m1-187h0m0 176h0m0 73h0m1-221h0m0 49h0m0 163h0m5-202h0m0 205h0m1-140h0m1 115h0m1-177h0m2-44h0m1 24h0m0 173h0m1-204h0m0 182h0m1 41h0m1-125h0m0 130h0m1-92h0m0 118h0m1-203h0m3 86h0m0 9h0m0 73h0m2-231h0m1 198h0m1-200h0m1 171h0m0 34h0m3-81h0m0 103h0m2-209h0m0 90h0m0 20h0m0 17h0m2-95h0m0 53h0m3 256h0m1-218h0m0 64h0m2 11h0m1 30h0m1 9h0m2-189h0m0 3h0m0 128h0m1 61h0m1-135h0m0 2h0m1 81h0m1-2h0m0 13h0m1-177h0m0 44h0m0 251h0m1-149h0m2-28h0m1 37h0m3-125h0m0 158h0m2-145h0m0 88h0m0 117h0m1-225h0m0 167h0m1 12h0m1-191h0m0 151h0m1-154h0m0 90h0m2 148h0m0 15h0m2-168h0m0 185h0m1-86h0m1-140h0m0 48h0m1 39h0m0 37h0m2-141h0m0 27h0m0 176h0m0 23h0m1-115h0m0 63h0m2-157h0m0 35h0m4-85h0m3 47h0m0 114h0m0 56h0m0 10h0m0 11h0m2-196h0m1-32h0m2 142h0m1 4h0m1 35h0m1 1h0m0 62h0m1-199h0m0 38h0m1-75h0m0 167h0m0 19h0m0 27h0m3-22h0m1 33h0m1-162h0m0 189h0m1-141h0m1-101h0m0 48h0m0 133h0m1-144h0m0 98h0m0 62h0m2 2h0m2-161h0m0 106h0m0 35h0m1-179h0m2 36h0m0 26h0m1-91h0m1 83h0m1 169h0m1-222h0m0 195h0m1-173h0m3 138h0m0 18h0m2-23h0m0 18h0m1-209h0m1 93h0m1 143h0m1-218h0m0 48h0m1 95h0m2-179h0m0 159h0m0 79h0m2 110h0m5-123h0m1-77h0m0 96h0m1-177h0m0 83h0m2-113h0m1 208h0m2-38h0m2 42h0m1-222h0m0 24h0m1 17h0m1 247h0m1-188h0m0 80h0m3 3h0m0 67h0m5-199h0m0 1h0m0 145h0m1-224h0m0 267h0m3-243h0m0 150h0m0 78h0m1 7h0m1-146h0m1 92h0m3-160h0m1-23h0m0 18h0m1 22h0m0 44h0m0 70h0m1-156h0m0 40h0m0 36h0m0 96h0m1-131h0m1-31h0m2 266h0m0 2h0m1-267h0m0 98h0m2 36h0m0 71h0m0 54h0m2-241h0m2 232h0m1-125h0m1 35h0m0 98h0m1-278h0m2 20h0m3 184h0m0 17h0m0 50h0m2-144h0m1 119h0m1-192h0m0 182h0m1-231h0m0 135h0m2-134h0m0 120h0m1-112h0m4-9h0m0 191h0m3-113h0m3 108h0m2-6h0m1-227h0m0 58h0m0 153h0m0 27h0m0 52h0m1-246h0m0 56h0m0 41h0m3 120h0m5-112h0m0 129h0m1-281h0m1 221h0m1-23h0m0 83h0m1-285h0m1 206h0m1-165h0m2-37h0m0 152h0m3-98h0m0 28h0m0 19h0m1-35h0m3 6h0m2-47h0m1 228h0m0 4h0m2-201h0m1-45h0m0 208h0m2-200h0m4 14h0m0 12h0m0 153h0m1-206h0m3 37h0m1-71h0m0 8h0m1 115h0m3 18h0m0 101h0m0 7h0m0 6h0m0 15h0m1-36h0m3-220h0m3 32h0m1 28h0m0 73h0m1 89h0m4-164h0m0 8h0m5 10h0m0 35h0m0 18h0m0 73h0m2-2h0m3 40h0m5-3h0m0 9h0m1-231h0m4 27h0m0 3h0m2-38h0m5-59h0m0 248h0m1 6h0m0 1h0m1-223h0m0 20h0m0 29h0m0 22h0m4-24h0m1 124h0m1 42h0m1-218h0m0 199h0m1-181h0m1 204h0m1-162h0m1-50h0m0 62h0m1 159h0m8-155h0m2 167h0m1 3h0m1-111h0m2 46h0m2-113h0m0 9h0m1 193h0m2-3h0m2-261h0m1 172h0m2-119h0m5 13h0m0 20h0m0 151h0m1-135h0m4 135h0m3-26h0m3-145h0m1 23h0m1 113h0m0 116h0m1-32h0m3 14h0m0 8h0m5-39h0m0 48h0m1-234h0m0 178h0m1 86h0m1-233h0m1 243h0m0 17h0m1-232h0m4-50h0m0 204h0m2-110h0m0 44h0m0 88h0m1-242h0m0 75h0m0 127h0m2 32h0m1-82h0m1 70h0m2-172h0m0 180h0m1-148h0m1 32h0m2-112h0m0 52h0m1 206h0m0 73h0m2-22h0m2-239h0m0 170h0m2-220h0m0 32h0m0 120h0m0 69h0m1-123h0m0 166h0m1-90h0m1-162h0m0 191h0m0 13h0m0 68h0m2-271h0m0 90h0m0 104h0m2-175h0m0 171h0m0 108h0m2-321h0m0 33h0m0 195h0m1-84h0m1 54h0m1-199h0m1 17h0m1 45h0m0 146h0m1 115h0m1-97h0m2-207h0m0 3h0m1-10h0m1 40h0m0 271h0m2-94h0m1-15h0m2 39h0m1-24h0m2 35h0m0 56h0m1-120h0m0 106h0m1-234h0m3 83h0m1-152h0m0 191h0m1-95h0m0 114h0m1-35h0m1 45h0m0 5h0m2-106h0m0 129h0m2-25h0m0 17h0m1-236h0m1 243h0m1-184h0m0 6h0m1 195h0m2-210h0m0 206h0m0 23h0m3-40h0m1 22h0m1-236h0m0 69h0m2 169h0m1-248h0m1 200h0m1 10h0m1-174h0m1 58h0m1 130h0m1-92h0m0 60h0m2-107h0m0 126h0m1-199h0m0 21h0m0 146h0m0 26h0m1-179h0m1 151h0m1-159h0m1 181h0m1-180h0m0 148h0m1 40h0m1-201h0m0 203h0m0 11h0m1-15h0m0 14h0m3-59h0m1-131h0m0 184h0m0 32h0m1-163h0m2 38h0m2 6h0m0 109h0m1-208h0m3 125h0m1-19h0m0 117h0m1-28h0m1-183h0m0 45h0m1 52h0m1-73h0m1 202h0m2-28h0m1-225h0m0 100h0m3 151h0m1-9h0m3-100h0m1 34h0m2-122h0m1-51h0m0 36h0m0 12h0m0 36h0m2-88h0m0 236h0m1-4h0m1-36h0m1-141h0m3 294h0m1-123h0m0 6h0m0 143h0m1-345h0m1 58h0m1 160h0m0 117h0m1-338h0m0 17h0m0 15h0m2-107h0m0 79h0m0 124h0m1-114h0m1-102h0m0 79h0m1 209h0m2-69h0m2-155h0m1-3h0m0 342h0m0 8h0m1-310h0m0 137h0m2 46h0m1-60h0m0 92h0m1-208h0m3 182h0m1-70h0m2-141h0m0 3h0m0 3h0m1 123h0m1 60h0m3-162h0m0 201h0m1-61h0m1-93h0m0 87h0m2 5h0m1-33h0m0 81h0m1-223h0m1 1h0m1 301h0m2-104h0m1-215h0m0 19h0m0 133h0m2 4h0m0 85h0m1-193h0m0 94h0m1-49h0m0 144h0m1-13h0m1-156h0m2-27h0m0 136h0m2-200h0m2 246h0m1-83h0m1-56h0m0 67h0m0 86h0m2-115h0m0 68h0m3-170h0m0 26h0m3 83h0m3-88h0m2-18h0m0 60h0m1 156h0m1 5h0m1-254h0m0 78h0m0 5h0m0 35h0m0 151h0m3 23h0m1-162h0m2 71h0m1-116h0m0 5h0m0 110h0m0 15h0m1-192h0m0 174h0m0 25h0m1-225h0m0 111h0m1-26h0m1-41h0m0 24h0m0 162h0m0 61h0m4-26h0m0 54h0m3-251h0m0 161h0m3-72h0m3 28h0m0 23h0m1-45h0m4 27h0m5-150h0m1 63h0m0 29h0m0 119h0m1-44h0m2-5h0m1-200h0m0 19h0m0 4h0m0 76h0m0 112h0m1-62h0m0 16h0m0 36h0m0 119h0m1-248h0m0 173h0m1-184h0m0 134h0m0 9h0m1-10h0m2-28h0m0 64h0m1-168h0m0 98h0m6 85h0m2-33h0m1-207h0m0 60h0m0 29h0m0 127h0m1-90h0m0 65h0m0 49h0m4-203h0m0 86h0m0 88h0m2-164h0m4 10h0m0 67h0m0 62h0m2-2h0m0 31h0m4-108h0m1 119h0m1-175h0m1-33h0m0 223h0m1-144h0m1-4h0m2 13h0m1 145h0m2-48h0m0 27h0m1-74h0m2 31h0m1-83h0m0 110h0m0 45h0m1-199h0m1-19h0m0 25h0m2 95h0m0 93h0m1-163h0m1-84h0m0 75h0m0 115h0m1-149h0m1 65h0m0 68h0m0 39h0m1-279h0m0 186h0m4 35h0m1-51h0m1-72h0m0 182h0m1 37h0m2-152h0m1-28h0m0 122h0m0 66h0m1-334h0m3 117h0m0 215h0m1-146h0m0 83h0m0 41h0m1-154h0m1 63h0m0 82h0m1-5h0m1-195h0m0 138h0m1-118h0m0 133h0m2-182h0m0 36h0m0 222h0m2-203h0m1 65h0m0 2h0m1 114h0m1-14h0m1-203h0m0 37h0m0 100h0m0 11h0m1-118h0m3 180h0m1-71h0m1 74h0m1-228h0m0 75h0m0 170h0m1-93h0m0 16h0m1-37h0m1-77h0m0 195h0m1 22h0m1-96h0m0 103h0m2-206h0m2-51h0m0 181h0m1-162h0m0 86h0m1 62h0m2 13h0m1-91h0m2 28h0m1-92h0m0 158h0m0 14h0m1-194h0m1 1h0m3 30h0m0 47h0m1-23h0m0 78h0m1-118h0m0 127h0m0 89h0m1-81h0m1-236h0m0 246h0m1-177h0m1 228h0m2-108h0m0 57h0m1 18h0m1-138h0m3 86h0m1 29h0m1-26h0m1-72h0m0 112h0m0 60h0m1-110h0m2 59h0m1 18h0m1-191h0m0 219h0m2-211h0m1-19h0m0 193h0m1-63h0m1-119h0m2 100h0m4 96h0m3-177h0" stroke="#000" stroke-width="3.0" stroke-linecap="square" stroke-opacity="0.6" fill="none"/>
<path transform="scale(0.5)" d="M96 1191h0m0 75h0m1-184h0m0 75h0m1 163h0m1-221h0m0 114h0m0 35h0m1-119h0m1-90h0m1 25h0m1 121h0m4-119h0m0 51h0m0 116h0m0 21h0m3 24h0m0 10h0m1 12h0m1-86h0m0 56h0m1-218h0m1 157h0m1-82h0m0 200h0m1-240h0m0 153h0m1 51h0m1-191h0m0 37h0m2-76h0m1 57h0m0 106h0m0 31h0m1-147h0m0 150h0m0 59h0m2-47h0m1-202h0m0 144h0m2-135h0m1 16h0m0 241h0m2-308h0m0 91h0m0 133h0m1 66h0m4-106h0m1-67h0m0 70h0m2-118h0m2 45h0m3 20h0m0 118h0m1-51h0m2-155h0m0 240h0m3-116h0m1-148h0m1 8h0m0 65h0m1-67h0m1 57h0m0 1h0m0 155h0m1-120h0m0 111h0m2-120h0m0 153h0m1-14h0m3 28h0m1-8h0m4-208h0m0 191h0m0 5h0m1-126h0m0 121h0m1-80h0m1-49h0m0 82h0m0 23h0m1-114h0m2-118h0m1 21h0m0 80h0m0 144h0m1-180h0m2 180h0m2-20h0m0 69h0m2-134h0m0 25h0m1 26h0m1-167h0m3 11h0m2 193h0m1-30h0m1-136h0m0 138h0m0 17h0m0 31h0m1-274h0m0 139h0m1-27h0m0 155h0m1-187h0m2-18h0m0 97h0m0 9h0m1-22h0m1-14h0m1-72h0m0 138h0m1-144h0m0 247h0m2-209h0m0 46h0m1 122h0m1-185h0m2 34h0m3 120h0m0 40h0m1-228h0m1 214h0m2-129h0m0 110h0m2-83h0m1-110h0m4 227h0m2-77h0m1-55h0m1-134h0m0 72h0m0 13h0m1-54h0m1 71h0m2 146h0m1-135h0m0 93h0m1-176h0m1 79h0m0 10h0m1-89h0m0 236h0m0 18h0m1-120h0m0 151h0m2-107h0m4 31h0m1-137h0m0 133h0m1-157h0m0 229h0m1-217h0m0 66h0m0 20h0m0 131h0m1-60h0m4-148h0m0 132h0m0 3h0m0 2h0m1-162h0m0 27h0m0 1h0m0 219h0m2-276h0m0 242h0m1-118h0m1 56h0m1 19h0m1 2h0m1-159h0m1 134h0m1-182h0m0 73h0m0 125h0m1-42h0m1 46h0m0 5h0m1 13h0m0 35h0m1-169h0m0 150h0m2-138h0m2 132h0m1-82h0m1 113h0m2-227h0m0 78h0m0 148h0m1-101h0m0 78h0m3-179h0m2-64h0m2 216h0m1-238h0m1 211h0m1-76h0m1 151h0m0 66h0m0 10h0m1-131h0m1-200h0m1 222h0m2-230h0m0 249h0m3-66h0m1-175h0m0 125h0m1 47h0m1-137h0m1 30h0m0 134h0m3-11h0m1-221h0m0 102h0m0 73h0m0 90h0m0 4h0m1-177h0m0 264h0m1-94h0m1-219h0m0 153h0m1-163h0m0 96h0m0 5h0m0 133h0m0 114h0m1-277h0m1-45h0m0 15h0m1 165h0m2-153h0m3 180h0m2-234h0m1-22h0m0 38h0m0 173h0m3-127h0m0 7h0m2-21h0m0 57h0m0 160h0m1-250h0m1-43h0m0 212h0m0 9h0m3-123h0m0 226h0m1-235h0m1 104h0m1-113h0m0 129h0m0 68h0m1-25h0m1-153h0m3-42h0m0 38h0m0 166h0m1-47h0m2-36h0m2-156h0m0 209h0m3-170h0m1 86h0m1-66h0m1-1h0m1-43h0m0 65h0m0 194h0m1-208h0m0 114h0m0 62h0m1-227h0m0 68h0m1-31h0m0 124h0m1 5h0m1-84h0m1 105h0m0 48h0m1-55h0m1-6h0m1 45h0m1-51h0m0 28h0m1-127h0m0 119h0m1-195h0m0 21h0m2 42h0m2 47h0m1-110h0m0 177h0m0 29h0m1-169h0m1 59h0m0 7h0m2 102h0m1-206h0m0 198h0m4-33h0m1-96h0m0 7h0m2 127h0m1-96h0m1 144h0m0 13h0m1-158h0m2-107h0m1 198h0m1-96h0m0 73h0m1-141h0m0 28h0m0 105h0m0 63h0m0 5h0m3-66h0m0 110h0m4-235h0m2 156h0m1-107h0m0 82h0m1-17h0m0 72h0m1-243h0m0 147h0m1 100h0m1-172h0m0 25h0m1-60h0m2 1h0m1 175h0m1 16h0m1-232h0m0 30h0m0 172h0m2-20h0m1-134h0m1 271h0m1-157h0m0 20h0m3-75h0m0 54h0m1-121h0m1-51h0m0 37h0m0 112h0m0 41h0m0 53h0m1-207h0m1 47h0m0 145h0m2-197h0m0 316h0m1-271h0m0 255h0m1-289h0m1-10h0m0 2h0m0 89h0m2-63h0m0 20h0m1 198h0m2-50h0m0 33h0m3-44h0m0 113h0m1-115h0m3-179h0m0 8h0m1 98h0m1-75h0m0 134h0m1-191h0m0 38h0m0 137h0m0 16h0m2-45h0m1-85h0m2 111h0m0 5h0m0 6h0m1 61h0m1-165h0m1-27h0m1 201h0m1-112h0m0 143h0m1-104h0m3-130h0m0 125h0m1 21h0m0 74h0m1-248h0m2 20h0m0 79h0m1-55h0m1-76h0m0 191h0m1-142h0m0 110h0m1-168h0m3 269h0m1-41h0m2-13h0m0 81h0m1-66h0m1-206h0m0 50h0m0 116h0m0 71h0m1-183h0m0 144h0m1-199h0m0 145h0m0 39h0m0 43h0m1-19h0m5-112h0m0 143h0m1-10h0m1-197h0m0 41h0m1-26h0m0 189h0m1-49h0m0 25h0m2-225h0m2 74h0m0 122h0m1-11h0m1-180h0m0 149h0m1 46h0m0 3h0m1-261h0m0 35h0m2 175h0m1 43h0m2-8h0m3-168h0m0 57h0m0 94h0m1-205h0m0 247h0m2-208h0m0 2h0m0 157h0m2-192h0m0 200h0m0 10h0m0 5h0m6-10h0m1-140h0m1-35h0m2-29h0m1-16h0m2 27h0m0 3h0m1 16h0m1 94h0m2-131h0m0 6h0m1 145h0m1-117h0m0 114h0m0 2h0m1-132h0m0 173h0m1 17h0m5-241h0m3 1h0m2 46h0m0 16h0m1 177h0m2 11h0m3-3h0m1-49h0m1-162h0m0 164h0m2-78h0m0 94h0m1-214h0m0 172h0m1-179h0m2 111h0m5-103h0m0 187h0m2-64h0m1-168h0m0 24h0m0 252h0m1-257h0m5 23h0m0 89h0m1-40h0m2 78h0m2-139h0m2 168h0m2-189h0m1-23h0m0 239h0m1-160h0m0 67h0m1-84h0m1-21h0m2 6h0m0 40h0m5-45h0m1 83h0m0 117h0m1 29h0m0 12h0m2-246h0m1 103h0m1 52h0m2-129h0m4 59h0m0 150h0m1-195h0m1 186h0m1-94h0m1-76h0m0 7h0m4 167h0m2-204h0m0 206h0m1 22h0m3-106h0m1 107h0m1-209h0m0 139h0m0 63h0m1-187h0m5-12h0m1-8h0m0 36h0m1 144h0m0 46h0m1-146h0m3-57h0m2 191h0m1-52h0m1-91h0m0 36h0m1 66h0m0 77h0m0 21h0m1-254h0m0 10h0m1 14h0m1 8h0m0 163h0m2-170h0m0 254h0m2-243h0m0 15h0m1 219h0m3-265h0m0 63h0m0 172h0m0 24h0m1-210h0m0 148h0m1 65h0m3-64h0m1-114h0m1 169h0m4-195h0m1-17h0m0 183h0m1-78h0m2-49h0m2-76h0m1 229h0m1-173h0m2-4h0m0 129h0m0 12h0m0 17h0m0 15h0m2-219h0m2 62h0m0 228h0m1-41h0m1-151h0m3-92h0m0 298h0m1-209h0m2-74h0m2-37h0m2 189h0m2-63h0m1-77h0m0 251h0m1-66h0m1 13h0m0 24h0m1 75h0m1-346h0m0 263h0m3 78h0m3-56h0m1-157h0m1 139h0m0 61h0m2-293h0m0 106h0m0 129h0m1 14h0m1-276h0m3 58h0m0 3h0m1 23h0m1-25h0m0 1h0m0 219h0m0 42h0m2-61h0m1-144h0m0 67h0m0 8h0m1-165h0m4 207h0m0 21h0m1-25h0m1-206h0m0 35h0m0 47h0m0 85h0m1-130h0m2-27h0m0 79h0m1-38h0m2 124h0m1 51h0m1-233h0m1 159h0m1 107h0m1-2h0m2-195h0m0 139h0m2-33h0m0 70h0m0 29h0m2-216h0m1-14h0m0 9h0m0 175h0m2-204h0m1 78h0m1 163h0m1-266h0m1 245h0m1-160h0m0 17h0m0 117h0m1-168h0m0 167h0m1 73h0m1-56h0m0 57h0m2-113h0m2 27h0m1 66h0m0 21h0m1-98h0m1-139h0m1 183h0m1 66h0m0 11h0m1-112h0m1-172h0m0 167h0m1-154h0m1-63h0m0 60h0m0 289h0m4-267h0m0 218h0m1-178h0m0 223h0m1-281h0m3 169h0m0 4h0m1 3h0m1-38h0m0 47h0m0 105h0m2-105h0m1 13h0m1-8h0m1-187h0m0 4h0m1 3h0m0 11h0m2 137h0m2 25h0m0 23h0m1-224h0m0 341h0m1-341h0m0 154h0m0 71h0m1-202h0m0 104h0m1-120h0m0 11h0m0 161h0m1 33h0m1-64h0m1-100h0m1-68h0m0 3h0m0 209h0m1-174h0m0 192h0m2-195h0m2 156h0m0 199h0m3-380h0m1 213h0m3-257h0m2 231h0m0 50h0m1-284h0m0 203h0m0 60h0m1-114h0m0 104h0m0 41h0m1-269h0m1 353h0m1-153h0m1-126h0m1 153h0m1-48h0m1-219h0m0 159h0m2 99h0m0 152h0m1-259h0m0 163h0m1-164h0m2-148h0m1 5h0m1 97h0m0 151h0m1-19h0m1-176h0m0 172h0m2-150h0m1 81h0m1 69h0m0 21h0m1-164h0m0 181h0m1-15h0m1-132h0m0 183h0m1-37h0m1-100h0m1 74h0m3-182h0m0 222h0m1-87h0m1-107h0m1 244h0m0 8h0m2-300h0m0 84h0m0 91h0m0 13h0m1-167h0m2 66h0m0 85h0m1 68h0m1-239h0m0 219h0m2-202h0m0 273h0m1-69h0m1-185h0m0 251h0m2-209h0m0 41h0m0 82h0m1-1h0m3-119h0m0 45h0m0 71h0m1-21h0m0 81h0m1-129h0m2-77h0m0 170h0m0 58h0m0 19h0m1-203h0m4-46h0m1-1h0m0 104h0m0 65h0m1-115h0m2 128h0m1-31h0m0 4h0m3 60h0m1 1h0m1-89h0m0 42h0m1-155h0m0 43h0m0 15h0m0 50h0m0 138h0m1-112h0m1-187h0m1 44h0m0 287h0m2-113h0m1-194h0m0 154h0m0 2h0m1-116h0m2 11h0m0 247h0m3-68h0m1-184h0m2 113h0m2-146h0m0 198h0m1-191h0m1 183h0m1-205h0m0 48h0m5-53h0m0 158h0m0 61h0m1 37h0m1-86h0m0 19h0m1-180h0m0 142h0m0 25h0m0 120h0m4-234h0m0 96h0m1-8h0m1-19h0m3-75h0m1-85h0m0 177h0m0 54h0m1 6h0m1 13h0m1-321h0m0 242h0m1-83h0m0 179h0m1-226h0m1 222h0m2-250h0m0 101h0m0 145h0m1-149h0m1 75h0m4-30h0m0 50h0m3-157h0m0 10h0m0 154h0m1-115h0m1-189h0m2 136h0m1 183h0m0 48h0m3-34h0m1-197h0m0 29h0m0 145h0m1-2h0m1-197h0m1 183h0m2-10h0m2-154h0m0 75h0m0 150h0m2-68h0m0 53h0m3-37h0m0 4h0m1 35h0m1-85h0m1 85h0m1-299h0m0 196h0m1 80h0m1 12h0m1-146h0m2 159h0m2-202h0m0 127h0m0 37h0m2-174h0m0 189h0m1 3h0m1-3h0m1-186h0m1-16h0m1-19h0m0 198h0m2-137h0m1 209h0m3-255h0m1 74h0m2 148h0m1-36h0m0 75h0m1-17h0m1-35h0m1-35h0m1-135h0m4 126h0m1-13h0m2 5h0m1 30h0m1-57h0m3-122h0m0 29h0m1-65h0m1 193h0m1 66h0m1-167h0m0 210h0m1-220h0m2 77h0m1-103h0m2 1h0m0 44h0m3-2h0m0 99h0m0 40h0m2-132h0m1 15h0m2 138h0m1-80h0m2 95h0m2-234h0m0 176h0m1-142h0m0 59h0m1-66h0m1 107h0m1 42h0m1-119h0m0 169h0m1-160h0m0 145h0m3-223h0m0 70h0m0 130h0m1-254h0m0 137h0m3 3h0m3 139h0m3-60h0m1-109h0m1-64h0m0 185h0m1-74h0m1-39h0m0 84h0m3-159h0m0 50h0m0 20h0m1 61h0m0 57h0m0 51h0m1-90h0m0 26h0m0 5h0m0 37h0m2-163h0m0 201h0m1-207h0m1-53h0m0 78h0m1-31h0" stroke="#000" stroke-width="3.0" stroke-linecap="square" stroke-opacity="0.6" fill="none"/>
<line x1="262.08" y1="424.5" x2="262.08" y2="777.5" stroke="#1010ff" stroke-width="1.4" stroke-dasharray="3.3 1.4"/>
<line x1="300.92" y1="424.5" x2="300.92" y2="777.5" stroke="#1010ff" stroke-width="1.4" stroke-dasharray="3.3 1.4"/>
<polyline points="48.5,589.73 49.0,589.73 49.5,589.73 50.0,589.73 50.5,589.73 51.0,589.73 51.5,589.73 52.0,589.73 52.5,589.73 53.0,589.73 53.5,589.73 54.0,589.73 54.5,589.73 55.0,589.73 55.5,589.73 56.0,589.73 56.5,589.73 57.0,589.73 57.5,589.73 58.0,589.73 58.5,589.73 59.0,589.73 59.5,589.73 60.0,589.73 60.5,589.73 61.0,589.73 61.5,589.73 62.0,589.73 62.5,589.73 63.0,589.73 63.5,589.73 64.0,589.73 64.5,589.73 65.0,589.73 65.5,589.73 66.0,589.73 66.5,589.73 67.0,589.73 67.5,589.73 68.0,589.73 68.5,589.73 69.0,589.73 69.5,589.73 70.0,589.73 70.5,589.73 71.0,589.73 71.5,589.73 72.0,589.73 72.5,589.73 73.0,589.73 73.5,589.73 74.0,589.73 74.5,589.73 75.0,589.73 75.5,589.73 76.0,589.73 76.5,589.73 77.0,589.73 77.5,589.73 78.0,589.73 78.5,589.73 79.0,589.73 79.5,589.73 80.0,589.73 80.5,589.73 81.0,589.73 81.5,589.73 82.0,589.73 82.5,589.73 83.0,589.73 83.5,589.73 84.0,589.73 84.5,589.73 85.0,589.73 85.5,589.73 86.0,589.73 86.5,589.73 87.0,589.73 87.5,589.73 88.0,589.73 88.5,589.73 89.0,589.73 89.5,589.73 90.0,589.73 90.5,589.73 91.0,589.73 91.5,589.73 92.0,589.73 92.5,589.73 93.0,589.73 93.5,589.73 94.0,589.73 94.5,589.73 95.0,589.73 95.5,589.73 96.0,589.73 96.5,589.73 97.0,589.73 97.5,589.73 98.0,589.73 98.5,589.73 99.0,589.73 99.5,589.73 100.0,589.73 100.5,589.73 101.0,589.73 101.5,589.73 102.0,589.73 102.5,589.73 103.0,589.73 103.5,589.73 104.0,589.73 104.5,589.73 105.0,589.73 105.5,589.73 106.0,589.73 106.5,589.73 107.0,589.73 107.5,589.73 108.0,589.73 108.5,589.73 109.0,589.73 109.5,589.73 110.0,589.73 110.5,589.73 111.0,589.73 111.5,589.73 112.0,589.73 112.5,589.73 113.0,589.73 113.5,589.73 114.0,589.73 114.5,589.73 115.0,589.73 115.5,589.73 116.0,589.73 116.5,589.73 117.0,589.73 117.5,589.73 118.0,589.73 118.5,589.73 119.0,589.73 119.5,589.73 120.0,589.73 120.5,589.73 121.0,589.73 121.5,589.73 122.0,589.73 122.5,589.73 123.0,589.73 123.5,589.73 124.0,589.73 124.5,589.73 125.0,589.73 125.5,589.73 126.0,589.73 126.5,589.73 127.0,589.73 127.5,589.73 128.0,589.73 128.5,589.73 129.0,589.73 129.5,589.73 130.0,589.73 130.5,589.73 131.0,589.73 131.5,589.73 132.0,589.73 132.5,589.73 133.0,589.73 133.5,589.73 134.0,589.73 134.5,589.73 135.0,589.73 135.5,589.73 136.0,589.73 136.5,589.73 137.0,589.73 137.5,589.73 138.0,589.73 138.5,589.73 139.0,589.73 139.5,589.73 140.0,589.73 140.5,589.73 141.0,589.73 141.5,589.73 142.0,589.73 142.5,589.73 143.0,589.73 143.5,589.73 144.0,589.73 144.5,589.73 145.0,589.73 145.5,589.73 146.0,589.73 146.5,589.73 147.0,589.73 147.5,589.73 148.0,589.73 148.5,589.73 149.0,589.73 149.5,589.73 150.0,589.73 150.5,589.73 151.0,589.73 151.5,589.73 152.0,589.73 152.5,589.73 153.0,589.73 153.5,589.73 154.0,589.73 154.5,589.73 155.0,589.73 155.5,589.73 156.0,589.73 156.5,589.73 157.0,589.73 157.5,589.73 158.0,589.73 158.5,589.73 159.0,589.73 159.5,589.73 160.0,589.73 160.5,589.73 161.0,589.73 161.5,589.73 162.0,589.73 162.5,589.73 163.0,589.73 163.5,589.73 164.0,589.73 164.5,589.73 165.0,589.73 165.5,589.73 166.0,589.73 166.5,589.73 167.0,589.73 167.5,589.73 168.0,589.73 168.5,589.73 169.0,589.73 169.5,589.73 170.0,589.73 170.5,589.73 171.0,589.73 171.5,589.73 172.0,589.73 172.5,589.73 173.0,589.73 173.5,589.73 174.0,589.73 174.5,589.73 175.0,589.73 175.5,589.73 176.0,589.73 176.5,589.73 177.0,589.73 177.5,589.73 178.0,589.73 178.5,589.73 179.0,589.73 179.5,589.73 180.0,589.73 180.5,589.73 181.0,589.73 181.5,589.73 182.0,589.73 182.5,589.73 183.0,589.73 183.5,589.73 184.0,589.73 184.5,589.73 185.0,589.73 185.5,589.73 186.0,589.73 186.5,589.73 187.0,589.73 187.5,589.73 188.0,589.73 188.5,589.73 189.0,589.73 189.5,589.73 190.0,589.73 190.5,589.73 191.0,589.73 191.5,589.73 192.0,589.73 192.5,589.73 193.0,589.73 193.5,589.73 194.0,589.73 194.5,589.73 195.0,589.73 195.5,589.73 196.0,589.73 196.5,589.73 197.0,589.73 197.5,589.73 198.0,589.73 198.5,589.73 199.0,589.73 199.5,589.73 200.0,589.73 200.5,589.72 201.0,589.72 201.5,589.72 202.0,589.72 202.5,589.72 203.0,589.72 203.5,589.72 204.0,589.71 204.5,589.71 205.0,589.71 205.5,589.71 206.0,589.70 206.5,589.70 207.0,589.70 207.5,589.69 208.0,589.69 208.5,589.68 209.0,589.68 209.5,589.67 210.0,589.67 210.5,589.66 211.0,589.65 211.5,589.64 212.0,589.64 212.5,589.63 213.0,589.62 213.5,589.61 214.0,589.59 214.5,589.58 215.0,589.57 215.5,589.55 216.0,589.53 216.5,589.52 217.0,589.50 217.5,589.47 218.0,589.45 218.5,589.43 219.0,589.40 219.5,589.37 220.0,589.34 220.5,589.31 221.0,589.27 221.5,589.23 222.0,589.19 222.5,589.15 223.0,589.10 223.5,589.05 224.0,588.99 224.5,588.94 225.0,588.87 225.5,588.81 226.0,588.74 226.5,588.66 227.0,588.58 227.5,588.49 228.0,588.40 228.5,588.30 229.0,588.20 229.5,588.09 230.0,587.97 230.5,587.85 231.0,587.72 231.5,587.58 232.0,587.43 232.5,587.28 233.0,587.11 233.5,586.94 234.0,586.76 234.5,586.56 235.0,586.36 235.5,586.15 236.0,585.92 236.5,585.69 237.0,585.44 237.5,585.18 238.0,584.91 238.5,584.63 239.0,584.33 239.5,584.02 240.0,583.69 240.5,583.35 241.0,583.00 241.5,582.63 242.0,582.24 242.5,581.84 243.0,581.42 243.5,580.99 244.0,580.54 244.5,580.08 245.0,579.60 245.5,579.10 246.0,578.58 246.5,578.05 247.0,577.49 247.5,576.93 248.0,576.34 248.5,575.74 249.0,575.11 249.5,574.48 250.0,573.82 250.5,573.15 251.0,572.46 251.5,571.75 252.0,571.02 252.5,570.28 253.0,569.53 253.5,568.76 254.0,567.97 254.5,567.17 255.0,566.36 255.5,565.53 256.0,564.69 256.5,563.83 257.0,562.97 257.5,562.09 258.0,561.21 258.5,560.32 259.0,559.41 259.5,558.51 260.0,557.59 260.5,556.67 261.0,555.75 261.5,554.83 262.0,553.90 262.5,552.97 263.0,552.05 263.5,551.13 264.0,550.21 264.5,549.29 265.0,548.38 265.5,547.48 266.0,546.59 266.5,545.71 267.0,544.84 267.5,543.98 268.0,543.14 268.5,542.31 269.0,541.51 269.5,540.72 270.0,539.95 270.5,539.20 271.0,538.47 271.5,537.77 272.0,537.09 272.5,536.44 273.0,535.82 273.5,535.23 274.0,534.67 274.5,534.13 275.0,533.63 275.5,533.17 276.0,532.73 276.5,532.34 277.0,531.97 277.5,531.65 278.0,531.36 278.5,531.10 279.0,530.89 279.5,530.71 280.0,530.58 280.5,530.48 281.0,530.42 281.5,530.40 282.0,530.42 282.5,530.48 283.0,530.58 283.5,530.71 284.0,530.89 284.5,531.10 285.0,531.36 285.5,531.65 286.0,531.97 286.5,532.34 287.0,532.73 287.5,533.17 288.0,533.63 288.5,534.13 289.0,534.67 289.5,535.23 290.0,535.82 290.5,536.44 291.0,537.09 291.5,537.77 292.0,538.47 292.5,539.20 293.0,539.95 293.5,540.72 294.0,541.51 294.5,542.31 295.0,543.14 295.5,543.98 296.0,544.84 296.5,545.71 297.0,546.59 297.5,547.48 298.0,548.38 298.5,549.29 299.0,550.21 299.5,551.13 300.0,552.05 300.5,552.97 301.0,553.90 301.5,554.83 302.0,555.75 302.5,556.67 303.0,557.59 303.5,558.51 304.0,559.41 304.5,560.32 305.0,561.21 305.5,562.09 306.0,562.97 306.5,563.83 307.0,564.69 307.5,565.53 308.0,566.36 308.5,567.17 309.0,567.97 309.5,568.76 310.0,569.53 310.5,570.28 311.0,571.02 311.5,571.75 312.0,572.46 312.5,573.15 313.0,573.82 313.5,574.48 314.0,575.11 314.5,575.74 315.0,576.34 315.5,576.93 316.0,577.49 316.5,578.05 317.0,578.58 317.5,579.10 318.0,579.60 318.5,580.08 319.0,580.54 319.5,580.99 320.0,581.42 320.5,581.84 321.0,582.24 321.5,582.63 322.0,583.00 322.5,583.35 323.0,583.69 323.5,584.02 324.0,584.33 324.5,584.63 325.0,584.91 325.5,585.18 326.0,585.44 326.5,585.69 327.0,585.92 327.5,586.15 328.0,586.36 328.5,586.56 329.0,586.76 329.5,586.94 330.0,587.11 330.5,587.28 331.0,587.43 331.5,587.58 332.0,587.72 332.5,587.85 333.0,587.97 333.5,588.09 334.0,588.20 334.5,588.30 335.0,588.40 335.5,588.49 336.0,588.58 336.5,588.66 337.0,588.74 337.5,588.81 338.0,588.87 338.5,588.94 339.0,588.99 339.5,589.05 340.0,589.10 340.5,589.15 341.0,589.19 341.5,589.23 342.0,589.27 342.5,589.31 343.0,589.34 343.5,589.37 344.0,589.40 344.5,589.43 345.0,589.45 345.5,589.47 346.0,589.50 346.5,589.52 347.0,589.53 347.5,589.55 348.0,589.57 348.5,589.58 349.0,589.59 349.5,589.61 350.0,589.62 350.5,589.63 351.0,589.64 351.5,589.64 352.0,589.65 352.5,589.66 353.0,589.67 353.5,589.67 354.0,589.68 354.5,589.68 355.0,589.69 355.5,589.69 356.0,589.70 356.5,589.70 357.0,589.70 357.5,589.71 358.0,589.71 358.5,589.71 359.0,589.71 359.5,589.72 360.0,589.72 360.5,589.72 361.0,589.72 361.5,589.72 362.0,589.72 362.5,589.72 363.0,589.73 363.5,589.73 364.0,589.73 364.5,589.73 365.0,589.73 365.5,589.73 366.0,589.73 366.5,589.73 367.0,589.73 367.5,589.73 368.0,589.73 368.5,589.73 369.0,589.73 369.5,589.73 370.0,589.73 370.5,589.73 371.0,589.73 371.5,589.73 372.0,589.73 372.5,589.73 373.0,589.73 373.5,589.73 374.0,589.73 374.5,589.73 375.0,589.73 375.5,589.73 376.0,589.73 376.5,589.73 377.0,589.73 377.5,589.73 378.0,589.73 378.5,589.73 379.0,589.73 379.5,589.73 380.0,589.73 380.5,589.73 381.0,589.73 381.5,589.73 382.0,589.73 382.5,589.73 383.0,589.73 383.5,589.73 384.0,589.73 384.5,589.73 385.0,589.73 385.5,589.73 386.0,589.73 386.5,589.73 387.0,589.73 387.5,589.73 388.0,589.73 388.5,589.73 389.0,589.73 389.5,589.73 390.0,589.73 390.5,589.73 391.0,589.73 391.5,589.73 392.0,589.73 392.5,589.73 393.0,589.73 393.5,589.73 394.0,589.73 394.5,589.73 395.0,589.73 395.5,589.73 396.0,589.73 396.5,589.73 397.0,589.73 397.5,589.73 398.0,589.73 398.5,589.73 399.0,589.73 399.5,589.73 400.0,589.73 400.5,589.73 401.0,589.73 401.5,589.73 402.0,589.73 402.5,589.73 403.0,589.73 403.5,589.73 404.0,589.73 404.5,589.73 405.0,589.73 405.5,589.73 406.0,589.73 406.5,589.73 407.0,589.73 407.5,589.73 408.0,589.73 408.5,589.73 409.0,589.73 409.5,589.73 410.0,589.73 410.5,589.73 411.0,589.73 411.5,589.73 412.0,589.73 412.5,589.73 413.0,589.73 413.5,589.73 414.0,589.73 414.5,589.73 415.0,589.73 415.5,589.73 416.0,589.73 416.5,589.73 417.0,589.73 417.5,589.73 418.0,589.73 418.5,589.73 419.0,589.73 419.5,589.73 420.0,589.73 420.5,589.73 421.0,589.73 421.5,589.73 422.0,589.73 422.5,589.73 423.0,589.73 423.5,589.73 424.0,589.73 424.5,589.73 425.0,589.73 425.5,589.73 426.0,589.73 426.5,589.73 427.0,589.73 427.5,589.73 428.0,589.73 428.5,589.73 429.0,589.73 429.5,589.73 430.0,589.73 430.5,589.73 431.0,589.73 431.5,589.73 432.0,589.73 432.5,589.73 433.0,589.73 433.5,589.73 434.0,589.73 434.5,589.73 435.0,589.73 435.5,589.73 436.0,589.73 436.5,589.73 437.0,589.73 437.5,589.73 438.0,589.73 438.5,589.73 439.0,589.73 439.5,589.73 440.0,589.73 440.5,589.73 441.0,589.73 441.5,589.73 442.0,589.73 442.5,589.73 443.0,589.73 443.5,589.73 444.0,589.73 444.5,589.73 445.0,589.73 445.5,589.73 446.0,589.73 446.5,589.73 447.0,589.73 447.5,589.73 448.0,589.73 448.5,589.73 449.0,589.73 449.5,589.73 450.0,589.73 450.5,589.73 451.0,589.73 451.5,589.73 452.0,589.73 452.5,589.73 453.0,589.73 453.5,589.73 454.0,589.73 454.5,589.73 455.0,589.73 455.5,589.73 456.0,589.73 456.5,589.73 457.0,589.73 457.5,589.73 458.0,589.73 458.5,589.73 459.0,589.73 459.5,589.73 460.0,589.73 460.5,589.73 461.0,589.73 461.5,589.73 462.0,589.73 462.5,589.73 463.0,589.73 463.5,589.73 464.0,589.73 464.5,589.73 465.0,589.73 465.5,589.73 466.0,589.73 466.5,589.73 467.0,589.73 467.5,589.73 468.0,589.73 468.5,589.73 469.0,589.73 469.5,589.73 470.0,589.73 470.5,589.73 471.0,589.73 471.5,589.73 472.0,589.73 472.5,589.73 473.0,589.73 473.5,589.73 474.0,589.73 474.5,589.73 475.0,589.73 475.5,589.73 476.0,589.73 476.5,589.73 477.0,589.73 477.5,589.73 478.0,589.73 478.5,589.73 479.0,589.73 479.5,589.73 480.0,589.73 480.5,589.73 481.0,589.73 481.5,589.73 482.0,589.73 482.5,589.73 483.0,589.73 483.5,589.73 484.0,589.73 484.5,589.73 485.0,589.73 485.5,589.73 486.0,589.73 486.5,589.73 487.0,589.73 487.5,589.73 488.0,589.73 488.5,589.73 489.0,589.73 489.5,589.73 490.0,589.73 490.5,589.73 491.0,589.73 491.5,589.73 492.0,589.73 492.5,589.73 493.0,589.73 493.5,589.73 494.0,589.73 494.5,589.73 495.0,589.73 495.5,589.73 496.0,589.73 496.5,589.73 497.0,589.73 497.5,589.73 498.0,589.73 498.5,589.73 499.0,589.73 499.5,589.73 500.0,589.73 500.5,589.73 501.0,589.73 501.5,589.73 502.0,589.73 502.5,589.73 503.0,589.73 503.5,589.73 504.0,589.73 504.5,589.73 505.0,589.73 505.5,589.73 506.0,589.73 506.5,589.73 507.0,589.73 507.5,589.73 508.0,589.73 508.5,589.73 509.0,589.73 509.5,589.73 510.0,589.73 510.5,589.73 511.0,589.73 511.5,589.73 512.0,589.73 512.5,589.73 513.0,589.73 513.5,589.73 514.0,589.73 514.5,589.73 515.0,589.73 515.5,589.73" fill="none" stroke="#0000ff" stroke-opacity="0.78" stroke-width="2.9" stroke-linejoin="round"/>
<rect x="48.5" y="424.5" width="466.0" height="353.0" fill="none" stroke="#3a3a3a" stroke-width="1.1"/>
<line x1="48.5" y1="439.52" x2="52.0" y2="439.52" stroke="#555" stroke-width="1"/>
<text x="45.7" y="446.52" text-anchor="end" font-size="18.8" font-family="Liberation Serif">2</text>
<line x1="48.5" y1="514.63" x2="52.0" y2="514.63" stroke="#555" stroke-width="1"/>
<text x="45.7" y="521.63" text-anchor="end" font-size="18.8" font-family="Liberation Serif">1</text>
<line x1="48.5" y1="589.73" x2="52.0" y2="589.73" stroke="#555" stroke-width="1"/>
<text x="45.7" y="596.73" text-anchor="end" font-size="18.8" font-family="Liberation Serif">0</text>
<line x1="48.5" y1="664.84" x2="52.0" y2="664.84" stroke="#555" stroke-width="1"/>
<text x="45.7" y="671.84" text-anchor="end" font-size="18.8" font-family="Liberation Serif"><tspan dx="-1">−</tspan><tspan dx="1.6">1</tspan></text>
<line x1="48.5" y1="739.95" x2="52.0" y2="739.95" stroke="#555" stroke-width="1"/>
<text x="45.7" y="746.95" text-anchor="end" font-size="18.8" font-family="Liberation Serif"><tspan dx="-1">−</tspan><tspan dx="1.6">2</tspan></text>
<line x1="48.50" y1="777.5" x2="48.50" y2="774.0" stroke="#555" stroke-width="1"/>
<text x="48.50" y="794.50" text-anchor="middle" font-size="18.8" font-family="Liberation Serif"><tspan>−</tspan><tspan dx="1.7">0.6</tspan></text>
<line x1="126.17" y1="777.5" x2="126.17" y2="774.0" stroke="#555" stroke-width="1"/>
<text x="126.17" y="794.50" text-anchor="middle" font-size="18.8" font-family="Liberation Serif"><tspan>−</tspan><tspan dx="1.7">0.4</tspan></text>
<line x1="203.83" y1="777.5" x2="203.83" y2="774.0" stroke="#555" stroke-width="1"/>
<text x="203.83" y="794.50" text-anchor="middle" font-size="18.8" font-family="Liberation Serif"><tspan>−</tspan><tspan dx="1.7">0.2</tspan></text>
<line x1="281.50" y1="777.5" x2="281.50" y2="774.0" stroke="#555" stroke-width="1"/>
<text x="281.50" y="794.50" text-anchor="middle" font-size="18.8" font-family="Liberation Serif">0.0</text>
<line x1="359.17" y1="777.5" x2="359.17" y2="774.0" stroke="#555" stroke-width="1"/>
<text x="359.17" y="794.50" text-anchor="middle" font-size="18.8" font-family="Liberation Serif">0.2</text>
<line x1="436.83" y1="777.5" x2="436.83" y2="774.0" stroke="#555" stroke-width="1"/>
<text x="436.83" y="794.50" text-anchor="middle" font-size="18.8" font-family="Liberation Serif">0.4</text>
<line x1="514.50" y1="777.5" x2="514.50" y2="774.0" stroke="#555" stroke-width="1"/>
<text x="514.50" y="794.50" text-anchor="middle" font-size="18.8" font-family="Liberation Serif">0.6</text>
<text x="281.5" y="815.20" text-anchor="middle" font-size="18.8" font-family="Liberation Serif">Radial Distance (pc)</text>
<text x="0" y="0" transform="translate(14.4 601.80) rotate(-90)" text-anchor="middle" font-size="18.8" font-family="Liberation Serif">Brightness Temperature (K)</text>
<text x="63" y="455.90" font-size="18.8" font-family="Liberation Serif">amplitude=7.90E-01</text>
<text x="63" y="474.90" font-size="18.8" font-family="Liberation Serif">mean=0.00</text>
<text x="63" y="493.70" font-size="18.8" font-family="Liberation Serif">stddev=0.05</text>
<text x="501.5" y="455.40" text-anchor="end" font-size="18.8" fill="#1414ff" font-family="Liberation Serif">Gaussian</text>
<text x="501.3" y="474.50" text-anchor="end" font-size="18.8" fill="#1414ff" font-family="Liberation Serif">Fit</text>
<text x="68.6" y="749.50" font-size="18.8" font-family="Liberation Serif">Filament 2</text>
</svg></body></html>
